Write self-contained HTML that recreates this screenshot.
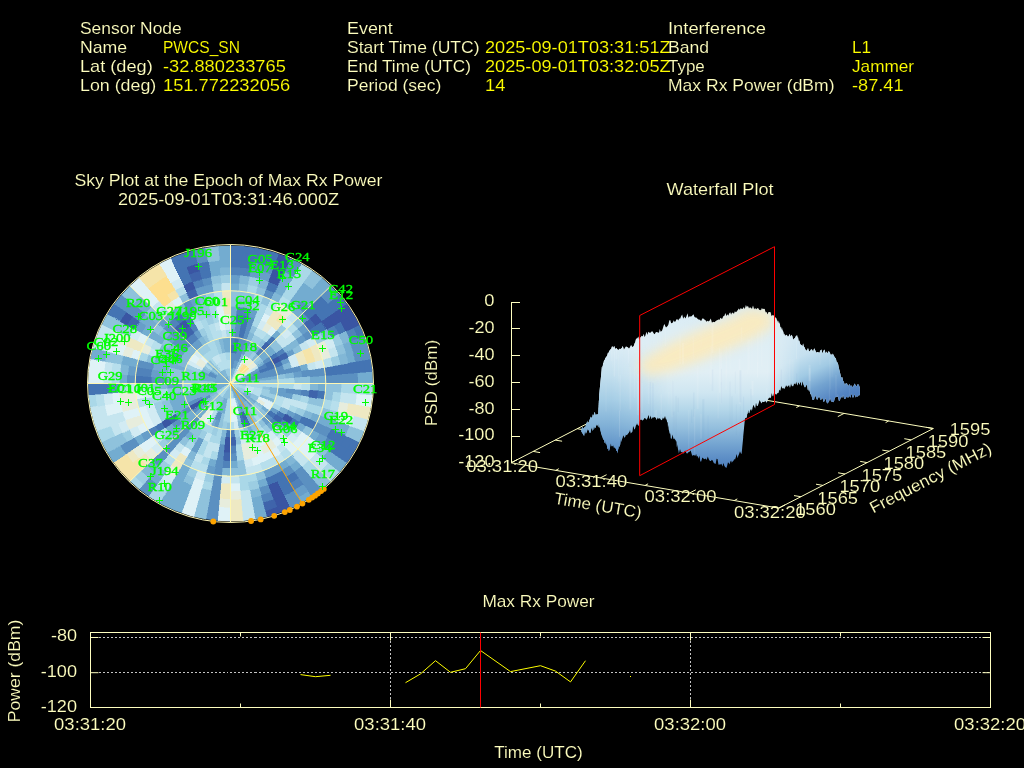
<!DOCTYPE html>
<html><head><meta charset="utf-8"><title>Interference Event</title>
<style>
html,body{margin:0;padding:0;background:#000;}
body{width:1024px;height:768px;overflow:hidden;}
svg{display:block;font-family:"Liberation Sans",sans-serif;will-change:transform;opacity:0.999;}
.sat{font-family:"Liberation Serif",serif;}
.t{stroke:#000;stroke-width:0.12px;}
</style></head><body>
<svg width="1024" height="768" viewBox="0 0 1024 768">
<rect width="1024" height="768" fill="#000"/>
<text x="80.0" y="34.0" fill="#ffffc0" font-size="16.6" textLength="101.7" lengthAdjust="spacingAndGlyphs" class="t">Sensor Node</text>
<text x="80.0" y="53.0" fill="#ffffc0" font-size="16.6" textLength="47.2" lengthAdjust="spacingAndGlyphs" class="t">Name</text>
<text x="163.0" y="53.0" fill="#ffff00" font-size="16.6" textLength="76.9" lengthAdjust="spacingAndGlyphs" class="t">PWCS_SN</text>
<text x="80.0" y="72.0" fill="#ffffc0" font-size="16.6" textLength="72.7" lengthAdjust="spacingAndGlyphs" class="t">Lat (deg)</text>
<text x="163.0" y="72.0" fill="#ffff00" font-size="16.6" textLength="122.8" lengthAdjust="spacingAndGlyphs" class="t">-32.880233765</text>
<text x="80.0" y="91.0" fill="#ffffc0" font-size="16.6" textLength="76.3" lengthAdjust="spacingAndGlyphs" class="t">Lon (deg)</text>
<text x="163.0" y="91.0" fill="#ffff00" font-size="16.6" textLength="127.2" lengthAdjust="spacingAndGlyphs" class="t">151.772232056</text>
<text x="347.0" y="34.0" fill="#ffffc0" font-size="16.6" textLength="45.8" lengthAdjust="spacingAndGlyphs" class="t">Event</text>
<text x="347.0" y="53.0" fill="#ffffc0" font-size="16.6" textLength="132.6" lengthAdjust="spacingAndGlyphs" class="t">Start Time (UTC)</text>
<text x="485.0" y="53.0" fill="#ffff00" font-size="16.6" textLength="185.6" lengthAdjust="spacingAndGlyphs" class="t">2025-09-01T03:31:51Z</text>
<text x="347.0" y="72.0" fill="#ffffc0" font-size="16.6" textLength="123.9" lengthAdjust="spacingAndGlyphs" class="t">End Time (UTC)</text>
<text x="485.0" y="72.0" fill="#ffff00" font-size="16.6" textLength="185.6" lengthAdjust="spacingAndGlyphs" class="t">2025-09-01T03:32:05Z</text>
<text x="347.0" y="91.0" fill="#ffffc0" font-size="16.6" textLength="94.4" lengthAdjust="spacingAndGlyphs" class="t">Period (sec)</text>
<text x="485.0" y="91.0" fill="#ffff00" font-size="16.6" textLength="20.4" lengthAdjust="spacingAndGlyphs" class="t">14</text>
<text x="668.0" y="34.0" fill="#ffffc0" font-size="16.6" textLength="97.9" lengthAdjust="spacingAndGlyphs" class="t">Interference</text>
<text x="668.0" y="53.0" fill="#ffffc0" font-size="16.6" textLength="41.1" lengthAdjust="spacingAndGlyphs" class="t">Band</text>
<text x="852.0" y="53.0" fill="#ffff00" font-size="16.6" textLength="19.1" lengthAdjust="spacingAndGlyphs" class="t">L1</text>
<text x="668.0" y="72.0" fill="#ffffc0" font-size="16.6" textLength="36.8" lengthAdjust="spacingAndGlyphs" class="t">Type</text>
<text x="852.0" y="72.0" fill="#ffff00" font-size="16.6" textLength="62.1" lengthAdjust="spacingAndGlyphs" class="t">Jammer</text>
<text x="668.0" y="91.0" fill="#ffffc0" font-size="16.6" textLength="166.5" lengthAdjust="spacingAndGlyphs" class="t">Max Rx Power (dBm)</text>
<text x="852.0" y="91.0" fill="#ffff00" font-size="16.6" textLength="51.6" lengthAdjust="spacingAndGlyphs" class="t">-87.41</text>
<text x="74.5" y="186.0" fill="#ffffc0" font-size="16.6" textLength="308.0" lengthAdjust="spacingAndGlyphs" class="t">Sky Plot at the Epoch of Max Rx Power</text>
<text x="117.9" y="205.0" fill="#ffffc0" font-size="16.6" textLength="221.2" lengthAdjust="spacingAndGlyphs" class="t">2025-09-01T03:31:46.000Z</text>
<text x="666.6" y="195.0" fill="#ffffc0" font-size="16.6" textLength="106.9" lengthAdjust="spacingAndGlyphs" class="t">Waterfall Plot</text>
<text x="482.4" y="607.0" fill="#ffffc0" font-size="16.6" textLength="112.2" lengthAdjust="spacingAndGlyphs" class="t">Max Rx Power</text>
<defs><clipPath id="skyclip"><ellipse cx="230.5" cy="383.5" rx="142.5" ry="138.0"/></clipPath></defs>
<g clip-path="url(#skyclip)" shape-rendering="crispEdges" stroke-width="0.6">
<path fill="#74add1" stroke="#74add1" d="M230.5 383.5L230.5 375.8L230.8 375.8L231.2 375.8L230.5 383.5ZM230.5 375.8L230.5 368.1L231.2 368.1L231.9 368.1L231.2 375.8ZM230.5 329.4L230.5 321.7L233.3 321.7L236.0 322.0L235.3 329.7ZM230.5 321.7L230.5 314.0L233.6 314.0L236.7 314.3L236.0 322.0ZM230.5 314.0L230.5 306.3L234.0 306.3L237.4 306.6L236.7 314.3ZM230.5 290.8L230.5 283.1L235.0 283.1L239.5 283.5L238.8 291.2ZM230.5 383.5L231.2 375.8L231.5 375.8L231.9 375.9L230.5 383.5ZM231.2 375.8L231.9 368.1L232.6 368.2L233.3 368.3L231.9 375.9ZM274.1 292.5L277.5 285.5L281.9 287.5L286.1 289.9L282.1 296.6ZM277.5 285.5L280.9 278.5L285.6 280.7L290.1 283.2L286.1 289.9ZM280.9 278.5L284.2 271.5L289.2 273.8L294.1 276.5L290.1 283.2ZM253.3 351.9L257.8 345.5L259.5 346.7L261.1 348.0L256.0 353.9ZM289.7 301.3L294.3 294.9L298.3 297.6L302.0 300.7L296.9 306.6ZM294.3 294.9L298.9 288.6L303.1 291.5L307.1 294.8L302.0 300.7ZM298.9 288.6L303.4 282.3L308.0 285.4L312.2 288.9L307.1 294.8ZM271.4 336.2L276.5 330.3L278.9 332.2L281.1 334.4L275.4 339.8ZM291.8 312.5L296.9 306.6L300.3 309.4L303.5 312.5L297.9 318.0ZM302.0 300.7L307.1 294.8L311.1 298.0L314.8 301.6L309.1 307.1ZM307.1 294.8L312.2 288.9L316.5 292.3L320.4 296.1L314.8 301.6ZM312.2 288.9L317.3 282.9L321.8 286.6L326.0 290.7L320.4 296.1ZM317.3 282.9L325.2 273.8L330.1 277.8L334.6 282.3L326.0 290.7ZM258.6 356.2L264.2 350.7L265.7 352.2L267.0 353.7L260.9 358.7ZM264.2 350.7L269.8 345.3L271.5 346.9L273.1 348.8L267.0 353.7ZM260.9 358.7L267.0 353.7L268.4 355.3L269.5 356.9L263.0 361.4ZM267.0 353.7L273.1 348.8L274.7 350.6L276.1 352.5L269.5 356.9ZM256.5 365.8L263.0 361.4L264.0 362.7L264.9 364.2L258.0 368.1ZM244.3 375.8L251.1 371.9L251.7 372.8L252.1 373.7L244.9 377.0ZM230.5 383.5L238.0 380.9L238.1 381.2L238.2 381.5L230.5 383.5ZM238.0 380.9L245.4 378.2L245.7 378.9L245.8 379.5L238.2 381.5ZM342.5 343.9L349.9 341.2L351.8 346.3L353.3 351.5L345.6 353.5ZM230.5 383.5L238.2 381.5L238.3 381.8L238.3 382.2L230.5 383.5ZM238.2 381.5L245.8 379.5L246.0 380.2L246.1 380.8L238.3 382.2ZM299.6 365.5L307.2 363.5L308.1 366.8L308.7 370.1L300.9 371.4ZM345.6 353.5L353.3 351.5L354.7 356.7L355.7 362.0L347.9 363.4ZM246.1 380.8L254.0 379.5L254.2 380.5L254.2 381.5L246.3 382.2ZM254.0 379.5L261.8 378.1L262.0 379.5L262.2 380.8L254.2 381.5ZM261.8 378.1L269.6 376.8L269.9 378.5L270.1 380.1L262.2 380.8ZM269.6 376.8L277.4 375.5L277.8 377.4L278.0 379.5L270.1 380.1ZM309.6 376.8L317.6 376.1L317.9 379.8L317.9 383.5L309.9 383.5ZM317.6 376.1L325.5 375.4L325.8 379.5L325.8 383.5L317.9 383.5ZM357.1 372.7L365.0 372.1L365.6 377.8L365.6 383.5L357.6 383.5ZM365.0 372.1L377.2 371.0L377.8 377.2L377.8 383.5L365.6 383.5ZM317.9 383.5L325.8 383.5L325.8 387.5L325.5 391.6L317.6 390.9ZM312.6 412.6L320.1 415.2L318.7 419.0L316.9 422.7L309.7 419.4ZM320.1 415.2L327.5 417.8L326.0 422.0L324.1 425.9L316.9 422.7ZM327.5 417.8L335.0 420.5L333.4 424.9L331.3 429.2L324.1 425.9ZM335.0 420.5L342.5 423.1L340.7 427.9L338.5 432.5L331.3 429.2ZM342.5 423.1L349.9 425.8L348.0 430.8L345.7 435.7L338.5 432.5ZM299.3 422.1L306.2 426.0L304.3 429.2L302.1 432.2L295.6 427.8ZM313.1 429.8L319.9 433.7L317.7 437.5L315.1 441.1L308.6 436.7ZM243.5 392.4L250.0 396.8L249.4 397.6L248.8 398.4L242.7 393.4ZM250.0 396.8L256.5 401.2L255.7 402.3L254.8 403.4L248.8 398.4ZM263.0 405.6L269.5 410.1L268.4 411.7L267.0 413.3L260.9 408.3ZM289.1 423.4L295.6 427.8L293.6 430.6L291.4 433.1L285.3 428.2ZM328.1 449.9L334.6 454.4L331.4 458.8L327.9 462.9L321.8 458.0ZM334.6 454.4L341.1 458.8L337.7 463.5L334.0 467.9L327.9 462.9ZM341.1 458.8L351.2 465.6L347.5 470.7L343.3 475.5L334.0 467.9ZM230.5 383.5L236.6 388.5L236.4 388.7L236.1 389.0L230.5 383.5ZM236.6 388.5L242.7 393.4L242.2 393.9L241.7 394.4L236.1 389.0ZM242.7 393.4L248.8 398.4L248.1 399.2L247.4 399.9L241.7 394.4ZM230.5 383.5L236.1 389.0L235.9 389.2L235.6 389.4L230.5 383.5ZM236.1 389.0L241.7 394.4L241.2 394.9L240.7 395.3L235.6 389.4ZM269.8 421.7L275.4 427.2L273.5 429.1L271.4 430.8L266.2 424.9ZM230.5 383.5L235.6 389.4L235.3 389.6L235.1 389.8L230.5 383.5ZM235.6 389.4L240.7 395.3L240.2 395.8L239.6 396.2L235.1 389.8ZM240.7 395.3L245.8 401.2L245.0 401.9L244.2 402.5L239.6 396.2ZM296.9 460.4L302.0 466.3L298.3 469.4L294.3 472.1L289.7 465.7ZM230.5 383.5L235.1 389.8L234.8 390.0L234.5 390.2L230.5 383.5ZM235.1 389.8L239.6 396.2L239.0 396.5L238.4 396.9L234.5 390.2ZM239.6 396.2L244.2 402.5L243.3 403.1L242.4 403.6L238.4 396.9ZM244.2 402.5L248.7 408.8L247.6 409.6L246.4 410.3L242.4 403.6ZM285.2 459.4L289.7 465.7L286.0 468.2L282.1 470.4L278.2 463.8ZM308.0 491.0L315.0 500.8L309.7 504.4L304.1 507.5L298.0 497.2ZM230.5 383.5L234.5 390.2L234.2 390.4L233.9 390.5L230.5 383.5ZM234.5 390.2L238.4 396.9L237.8 397.2L237.2 397.5L233.9 390.5ZM238.4 396.9L242.4 403.6L241.5 404.1L240.6 404.5L237.2 397.5ZM242.4 403.6L246.4 410.3L245.2 410.9L243.9 411.5L240.6 404.5ZM246.4 410.3L250.4 416.9L248.9 417.8L247.3 418.5L243.9 411.5ZM250.4 416.9L254.3 423.6L252.5 424.6L250.6 425.5L247.3 418.5ZM230.5 383.5L233.9 390.5L233.5 390.6L233.2 390.8L230.5 383.5ZM233.9 390.5L237.2 397.5L236.6 397.8L235.9 398.0L233.2 390.8ZM237.2 397.5L240.6 404.5L239.6 404.9L238.7 405.3L235.9 398.0ZM250.6 425.5L254.0 432.5L251.8 433.5L249.5 434.3L246.8 427.0ZM230.5 383.5L233.2 390.8L232.9 390.9L232.6 391.0L230.5 383.5ZM233.2 390.8L235.9 398.0L235.3 398.2L234.6 398.4L232.6 391.0ZM238.7 405.3L241.4 412.5L240.1 413.0L238.7 413.3L236.7 405.9ZM265.8 477.8L268.5 485.1L264.0 486.7L259.3 487.9L257.2 480.5ZM230.5 383.5L232.6 391.0L232.2 391.0L231.9 391.1L230.5 383.5ZM261.3 495.4L263.4 502.8L258.0 504.2L252.6 505.2L251.2 497.6ZM263.4 502.8L265.5 510.3L259.8 511.8L254.0 512.8L252.6 505.2ZM265.5 510.3L268.6 521.8L262.4 523.4L256.1 524.5L254.0 512.8ZM237.4 460.4L238.1 468.1L234.3 468.4L230.5 468.4L230.5 460.7ZM225.7 437.3L225.0 445.0L222.2 444.8L219.5 444.3L220.8 436.7ZM227.7 398.7L226.4 406.3L225.3 406.1L224.3 405.9L226.4 398.4ZM226.4 406.3L225.0 413.9L223.6 413.7L222.3 413.3L224.3 405.9ZM216.7 459.5L215.3 467.2L211.6 466.5L207.9 465.6L209.9 458.1ZM226.4 398.4L224.3 405.9L223.3 405.6L222.3 405.3L225.1 398.0ZM224.3 405.9L222.3 413.3L220.9 413.0L219.6 412.5L222.3 405.3ZM225.1 398.0L222.3 405.3L221.4 404.9L220.4 404.5L223.8 397.5ZM222.3 405.3L219.6 412.5L218.3 412.1L217.1 411.5L220.4 404.5ZM216.9 419.8L214.2 427.0L212.2 426.3L210.4 425.5L213.7 418.5ZM192.5 485.1L189.7 492.3L184.9 490.6L180.1 488.5L183.5 481.5ZM189.7 492.3L187.0 499.6L181.8 497.8L176.8 495.5L180.1 488.5ZM187.0 499.6L184.3 506.9L178.8 504.9L173.4 502.5L176.8 495.5ZM184.3 506.9L180.1 518.0L174.1 515.9L168.3 513.3L173.4 502.5ZM190.2 467.5L186.9 474.5L182.8 472.6L178.9 470.4L182.8 463.8ZM186.9 474.5L183.5 481.5L179.1 479.5L174.9 477.1L178.9 470.4ZM183.5 481.5L180.1 488.5L175.4 486.3L170.9 483.8L174.9 477.1ZM180.1 488.5L176.8 495.5L171.8 493.2L166.9 490.5L170.9 483.8ZM176.8 495.5L173.4 502.5L168.1 500.1L163.0 497.2L166.9 490.5ZM173.4 502.5L168.3 513.3L162.4 510.6L156.9 507.5L163.0 497.2ZM194.0 434.1L189.5 440.4L186.9 438.7L184.5 436.7L189.6 430.8ZM162.1 478.4L157.6 484.7L153.0 481.6L148.8 478.1L153.9 472.2ZM210.1 407.2L205.0 413.1L203.6 412.0L202.4 410.8L208.0 405.3ZM205.0 413.1L199.9 419.0L198.3 417.7L196.8 416.3L202.4 410.8ZM159.0 466.3L153.9 472.2L149.9 469.0L146.2 465.4L151.9 459.9ZM208.0 405.3L202.4 410.8L201.2 409.6L200.1 408.3L206.2 403.4ZM202.4 410.8L196.8 416.3L195.3 414.8L194.0 413.3L200.1 408.3ZM196.8 416.3L191.2 421.7L189.5 420.1L187.9 418.2L194.0 413.3ZM191.2 421.7L185.6 427.2L183.6 425.3L181.8 423.2L187.9 418.2ZM185.6 427.2L179.9 432.6L177.7 430.5L175.7 428.2L181.8 423.2ZM179.9 432.6L174.3 438.1L171.9 435.7L169.6 433.1L175.7 428.2ZM194.0 413.3L187.9 418.2L186.3 416.4L184.9 414.5L191.5 410.1ZM187.9 418.2L181.8 423.2L180.0 421.1L178.4 418.9L184.9 414.5ZM175.7 428.2L169.6 433.1L167.4 430.6L165.4 427.8L171.9 423.4ZM145.9 441.1L139.4 445.5L136.6 441.6L134.2 437.6L141.1 433.7ZM126.4 454.4L119.9 458.8L116.5 454.1L113.5 449.1L120.4 445.3ZM119.9 458.8L109.8 465.6L106.2 460.5L102.9 455.1L113.5 449.1ZM230.5 383.5L223.6 387.4L223.4 387.1L223.3 386.8L230.5 383.5ZM223.6 387.4L216.7 391.2L216.4 390.6L216.1 390.0L223.3 386.8ZM216.7 391.2L209.9 395.1L209.3 394.2L208.9 393.3L216.1 390.0ZM209.9 395.1L203.0 398.9L202.3 397.8L201.7 396.6L208.9 393.3ZM189.2 406.7L182.3 410.5L181.1 408.5L180.1 406.3L187.3 403.1ZM182.3 410.5L175.5 414.4L174.1 412.1L172.9 409.6L180.1 406.3ZM230.5 383.5L223.3 386.8L223.2 386.5L223.0 386.1L230.5 383.5ZM223.3 386.8L216.1 390.0L215.8 389.4L215.6 388.8L223.0 386.1ZM216.1 390.0L208.9 393.3L208.5 392.4L208.1 391.4L215.6 388.8ZM208.9 393.3L201.7 396.6L201.1 395.3L200.6 394.1L208.1 391.4ZM201.7 396.6L194.5 399.8L193.8 398.3L193.2 396.7L200.6 394.1ZM194.5 399.8L187.3 403.1L186.4 401.2L185.7 399.3L193.2 396.7ZM187.3 403.1L180.1 406.3L179.1 404.2L178.2 402.0L185.7 399.3ZM180.1 406.3L172.9 409.6L171.7 407.2L170.8 404.6L178.2 402.0ZM230.5 383.5L223.0 386.1L222.9 385.8L222.8 385.5L230.5 383.5ZM223.0 386.1L215.6 388.8L215.3 388.1L215.2 387.5L222.8 385.5ZM215.6 388.8L208.1 391.4L207.7 390.5L207.5 389.5L215.2 387.5ZM208.1 391.4L200.6 394.1L200.2 392.8L199.8 391.5L207.5 389.5ZM200.6 394.1L193.2 396.7L192.6 395.1L192.1 393.5L199.8 391.5ZM193.2 396.7L185.7 399.3L185.0 397.4L184.5 395.5L192.1 393.5ZM185.7 399.3L178.2 402.0L177.4 399.8L176.8 397.5L184.5 395.5ZM178.2 402.0L170.8 404.6L169.8 402.1L169.1 399.5L176.8 397.5ZM230.5 383.5L222.8 385.5L222.7 385.2L222.7 384.8L230.5 383.5ZM222.8 385.5L215.2 387.5L215.0 386.8L214.9 386.2L222.7 384.8ZM215.2 387.5L207.5 389.5L207.2 388.5L207.0 387.5L214.9 386.2ZM207.5 389.5L199.8 391.5L199.4 390.2L199.2 388.9L207.0 387.5ZM184.5 395.5L176.8 397.5L176.2 395.2L175.7 392.9L183.6 391.5ZM230.5 383.5L222.7 384.8L222.6 384.5L222.6 384.2L230.5 383.5ZM222.7 384.8L214.9 386.2L214.7 385.5L214.7 384.8L222.6 384.2ZM214.9 386.2L207.0 387.5L206.8 386.5L206.8 385.5L214.7 384.8ZM230.5 383.5L222.6 384.2L222.6 383.8L222.6 383.5L230.5 383.5ZM222.6 384.2L214.7 384.8L214.6 384.2L214.6 383.5L222.6 383.5ZM214.7 384.8L206.8 385.5L206.7 384.5L206.7 383.5L214.6 383.5ZM230.5 383.5L222.6 383.5L222.6 383.2L222.6 382.8L230.5 383.5ZM222.6 383.5L214.6 383.5L214.6 382.8L214.7 382.2L222.6 382.8ZM182.8 383.5L174.9 383.5L174.9 381.1L175.1 378.8L183.0 379.5ZM174.9 383.5L166.9 383.5L166.9 380.8L167.2 378.1L175.1 378.8ZM127.2 383.5L119.3 383.5L119.3 378.8L119.7 374.1L127.6 374.8ZM230.5 383.5L222.6 382.8L222.6 382.5L222.7 382.2L230.5 383.5ZM222.6 382.8L214.7 382.2L214.7 381.5L214.9 380.8L222.7 382.2ZM214.7 382.2L206.8 381.5L206.8 380.5L207.0 379.5L214.9 380.8ZM206.8 381.5L198.8 380.8L199.0 379.5L199.2 378.1L207.0 379.5ZM167.2 378.1L159.3 377.4L159.5 374.4L160.1 371.4L167.9 372.8ZM230.5 383.5L222.7 382.2L222.7 381.8L222.8 381.5L230.5 383.5ZM222.7 382.2L214.9 380.8L215.0 380.2L215.2 379.5L222.8 381.5ZM214.9 380.8L207.0 379.5L207.2 378.5L207.5 377.5L215.2 379.5ZM207.0 379.5L199.2 378.1L199.4 376.8L199.8 375.5L207.5 377.5ZM167.9 372.8L160.1 371.4L160.6 368.4L161.4 365.5L169.1 367.5ZM160.1 371.4L152.3 370.1L152.9 366.8L153.8 363.5L161.4 365.5ZM136.6 367.4L128.8 366.1L129.6 361.8L130.7 357.5L138.4 359.5ZM128.8 366.1L121.0 364.7L121.8 360.1L123.1 355.5L130.7 357.5ZM105.3 362.0L97.5 360.7L98.5 355.1L100.0 349.5L107.7 351.5ZM97.5 360.7L85.4 358.6L86.6 352.5L88.2 346.4L100.0 349.5ZM230.5 383.5L222.8 381.5L222.9 381.2L223.0 380.9L230.5 383.5ZM222.8 381.5L215.2 379.5L215.3 378.9L215.6 378.2L223.0 380.9ZM215.2 379.5L207.5 377.5L207.7 376.5L208.1 375.6L215.6 378.2ZM207.5 377.5L199.8 375.5L200.2 374.2L200.6 372.9L208.1 375.6ZM184.5 371.5L176.8 369.5L177.4 367.2L178.2 365.0L185.7 367.7ZM176.8 369.5L169.1 367.5L169.8 364.9L170.8 362.4L178.2 365.0ZM169.1 367.5L161.4 365.5L162.2 362.6L163.3 359.7L170.8 362.4ZM161.4 365.5L153.8 363.5L154.7 360.3L155.8 357.1L163.3 359.7ZM230.5 383.5L223.0 380.9L223.2 380.5L223.3 380.2L230.5 383.5ZM223.0 380.9L215.6 378.2L215.8 377.6L216.1 377.0L223.3 380.2ZM178.2 365.0L170.8 362.4L171.7 359.8L172.9 357.4L180.1 360.7ZM170.8 362.4L163.3 359.7L164.4 356.9L165.7 354.1L172.9 357.4ZM230.5 383.5L223.3 380.2L223.4 379.9L223.6 379.6L230.5 383.5ZM223.3 380.2L216.1 377.0L216.4 376.4L216.7 375.8L223.6 379.6ZM172.9 357.4L165.7 354.1L167.0 351.4L168.6 348.8L175.5 352.6ZM230.5 383.5L223.6 379.6L223.8 379.3L224.0 379.1L230.5 383.5ZM223.6 379.6L216.7 375.8L217.1 375.2L217.5 374.6L224.0 379.1ZM216.7 375.8L209.9 371.9L210.4 371.0L211.0 370.2L217.5 374.6ZM161.7 344.9L154.8 341.0L156.7 337.8L158.9 334.8L165.4 339.2ZM154.8 341.0L147.9 337.2L150.0 333.7L152.4 330.3L158.9 334.8ZM147.9 337.2L141.1 333.3L143.3 329.5L145.9 325.9L152.4 330.3ZM230.5 383.5L224.0 379.1L224.2 378.8L224.4 378.5L230.5 383.5ZM224.0 379.1L217.5 374.6L217.9 374.1L218.3 373.6L224.4 378.5ZM152.4 330.3L145.9 325.9L148.5 322.3L151.4 319.0L157.5 323.9ZM145.9 325.9L139.4 321.5L142.2 317.6L145.3 314.0L151.4 319.0ZM230.5 383.5L224.4 378.5L224.6 378.3L224.9 378.0L230.5 383.5ZM224.4 378.5L218.3 373.6L218.8 373.1L219.3 372.6L224.9 378.0ZM218.3 373.6L212.2 368.6L212.9 367.8L213.6 367.1L219.3 372.6ZM145.3 314.0L139.2 309.0L142.6 305.2L146.2 301.6L151.9 307.1ZM139.2 309.0L133.1 304.1L136.7 299.9L140.6 296.1L146.2 301.6ZM230.5 383.5L224.9 378.0L225.1 377.8L225.4 377.6L230.5 383.5ZM224.9 378.0L219.3 372.6L219.8 372.1L220.3 371.7L225.4 377.6ZM168.7 323.4L163.1 318.0L166.0 315.1L169.2 312.5L174.3 318.4ZM230.5 383.5L225.4 377.6L225.7 377.4L225.9 377.2L230.5 383.5ZM174.3 318.4L169.2 312.5L172.4 309.9L175.8 307.6L180.4 313.9ZM230.5 383.5L225.9 377.2L226.2 377.0L226.5 376.8L230.5 383.5ZM230.5 383.5L226.5 376.8L226.8 376.6L227.1 376.5L230.5 383.5ZM230.5 383.5L227.1 376.5L227.5 376.4L227.8 376.2L230.5 383.5ZM225.0 353.1L223.6 345.5L225.3 345.2L227.0 345.0L227.7 352.7ZM223.6 345.5L222.2 337.9L224.3 337.5L226.3 337.3L227.0 345.0ZM211.2 277.0L209.8 269.4L214.9 268.5L220.1 268.1L220.8 275.8ZM209.8 269.4L208.4 261.8L213.9 260.9L219.4 260.4L220.1 268.1ZM227.7 352.7L227.0 345.0L228.8 344.9L230.5 344.9L230.5 352.6ZM227.0 345.0L226.3 337.3L228.4 337.2L230.5 337.2L230.5 344.9ZM220.1 268.1L219.4 260.4L225.0 259.9L230.5 259.9L230.5 267.7ZM219.4 260.4L218.7 252.7L224.6 252.2L230.5 252.2L230.5 259.9ZM218.7 252.7L217.7 240.9L224.1 240.3L230.5 240.3L230.5 252.2Z"/>
<path fill="#5c91c2" stroke="#5c91c2" d="M230.5 368.1L230.5 360.3L231.5 360.3L232.6 360.4L231.9 368.1ZM230.5 360.3L230.5 352.6L231.9 352.6L233.3 352.7L232.6 360.4ZM231.9 368.1L232.6 360.4L233.6 360.5L234.6 360.7L233.3 368.3ZM232.6 360.4L233.3 352.7L234.7 352.8L236.0 353.1L234.6 360.7ZM234.7 337.3L235.3 329.7L237.8 329.9L240.2 330.3L238.8 337.9ZM235.3 329.7L236.0 322.0L238.8 322.2L241.5 322.7L240.2 330.3ZM234.6 360.7L236.0 353.1L237.4 353.3L238.7 353.7L236.7 361.1ZM236.0 353.1L237.4 345.5L239.1 345.8L240.8 346.2L238.7 353.7ZM237.4 345.5L238.8 337.9L240.8 338.2L242.8 338.7L240.8 346.2ZM251.2 269.4L252.6 261.8L258.0 262.8L263.4 264.2L261.3 271.6ZM236.7 361.1L238.7 353.7L240.1 354.0L241.4 354.5L238.7 361.7ZM238.7 353.7L240.8 346.2L242.5 346.6L244.1 347.2L241.4 354.5ZM240.8 346.2L242.8 338.7L244.8 339.3L246.8 340.0L244.1 347.2ZM242.8 338.7L244.9 331.3L247.2 331.9L249.5 332.7L246.8 340.0ZM244.9 331.3L246.9 323.8L249.6 324.5L252.2 325.4L249.5 332.7ZM246.9 323.8L249.0 316.4L252.0 317.2L255.0 318.2L252.2 325.4ZM261.3 271.6L263.4 264.2L268.8 265.6L274.0 267.4L271.3 274.7ZM263.1 296.4L265.8 289.2L270.1 290.7L274.1 292.5L270.8 299.5ZM284.2 271.5L287.6 264.5L292.9 266.9L298.0 269.8L294.1 276.5ZM287.6 264.5L292.7 253.7L298.6 256.4L304.1 259.5L298.0 269.8ZM296.9 306.6L302.0 300.7L305.7 303.7L309.1 307.1L303.5 312.5ZM297.9 318.0L303.5 312.5L306.7 315.6L309.6 319.0L303.5 323.9ZM320.4 296.1L326.0 290.7L330.2 294.7L334.0 299.1L327.9 304.1ZM326.0 290.7L334.6 282.3L339.2 286.7L343.3 291.5L334.0 299.1ZM263.0 361.4L269.5 356.9L270.7 358.6L271.8 360.3L264.9 364.2ZM302.1 334.8L308.6 330.3L311.0 333.7L313.1 337.2L306.2 341.0ZM252.1 373.7L259.3 370.4L259.9 371.7L260.4 372.9L252.9 375.6ZM245.4 378.2L252.9 375.6L253.3 376.5L253.5 377.5L245.8 379.5ZM252.9 375.6L260.4 372.9L260.8 374.2L261.2 375.5L253.5 377.5ZM260.4 372.9L267.8 370.3L268.4 371.9L268.9 373.5L261.2 375.5ZM267.8 370.3L275.3 367.7L276.0 369.6L276.5 371.5L268.9 373.5ZM275.3 367.7L282.8 365.0L283.6 367.2L284.2 369.5L276.5 371.5ZM349.9 341.2L357.4 338.6L359.4 344.0L361.0 349.5L353.3 351.5ZM357.4 338.6L368.9 334.5L371.1 340.4L372.8 346.4L361.0 349.5ZM245.8 379.5L253.5 377.5L253.8 378.5L254.0 379.5L246.1 380.8ZM253.5 377.5L261.2 375.5L261.6 376.8L261.8 378.1L254.0 379.5ZM261.2 375.5L268.9 373.5L269.3 375.1L269.6 376.8L261.8 378.1ZM268.9 373.5L276.5 371.5L277.1 373.5L277.4 375.5L269.6 376.8ZM276.5 371.5L284.2 369.5L284.8 371.8L285.3 374.1L277.4 375.5ZM284.2 369.5L291.9 367.5L292.6 370.1L293.1 372.8L285.3 374.1ZM291.9 367.5L299.6 365.5L300.4 368.4L300.9 371.4L293.1 372.8ZM353.3 351.5L361.0 349.5L362.5 355.1L363.5 360.7L355.7 362.0ZM361.0 349.5L372.8 346.4L374.4 352.5L375.6 358.6L363.5 360.7ZM300.9 371.4L308.7 370.1L309.3 373.4L309.6 376.8L301.7 377.4ZM308.7 370.1L316.6 368.7L317.2 372.4L317.6 376.1L309.6 376.8ZM316.6 368.7L324.4 367.4L325.1 371.4L325.5 375.4L317.6 376.1ZM325.5 375.4L333.4 374.8L333.8 379.1L333.8 383.5L325.8 383.5ZM333.4 374.8L341.3 374.1L341.7 378.8L341.7 383.5L333.8 383.5ZM341.3 374.1L349.2 373.4L349.7 378.4L349.7 383.5L341.7 383.5ZM349.2 373.4L357.1 372.7L357.6 378.1L357.6 383.5L349.7 383.5ZM285.9 388.2L293.8 388.9L293.6 391.6L293.1 394.2L285.3 392.9ZM293.8 388.9L301.7 389.6L301.5 392.6L300.9 395.6L293.1 394.2ZM295.3 412.9L302.5 416.1L301.0 419.2L299.3 422.1L292.4 418.2ZM316.9 422.7L324.1 425.9L322.2 429.9L319.9 433.7L313.1 429.8ZM324.1 425.9L331.3 429.2L329.2 433.5L326.8 437.6L319.9 433.7ZM267.0 413.3L273.1 418.2L271.5 420.1L269.8 421.7L264.2 416.3ZM241.7 394.4L247.4 399.9L246.6 400.6L245.8 401.2L240.7 395.3ZM302.0 466.3L307.1 472.2L303.1 475.5L298.9 478.4L294.3 472.1ZM307.1 472.2L312.2 478.1L308.0 481.6L303.4 484.7L298.9 478.4ZM312.2 478.1L317.3 484.1L312.8 487.7L308.0 491.0L303.4 484.7ZM317.3 484.1L325.2 493.2L320.2 497.2L315.0 500.8L308.0 491.0ZM289.7 465.7L294.3 472.1L290.3 474.8L286.1 477.1L282.1 470.4ZM294.1 490.5L298.0 497.2L292.9 500.1L287.6 502.5L284.2 495.5ZM298.0 497.2L304.1 507.5L298.6 510.6L292.7 513.3L287.6 502.5ZM268.5 485.1L271.3 492.3L266.4 494.1L261.3 495.4L259.3 487.9ZM236.7 452.7L237.4 460.4L234.0 460.7L230.5 460.7L230.5 453.0ZM225.0 445.0L224.3 452.7L221.2 452.5L218.1 451.9L219.5 444.3ZM224.3 452.7L223.6 460.4L220.1 460.1L216.7 459.5L218.1 451.9ZM223.6 460.4L222.9 468.1L219.1 467.8L215.3 467.2L216.7 459.5ZM222.9 468.1L222.2 475.8L218.0 475.5L213.9 474.8L215.3 467.2ZM222.2 475.8L221.5 483.5L217.0 483.1L212.6 482.4L213.9 474.8ZM221.5 483.5L220.8 491.2L216.0 490.8L211.2 490.0L212.6 482.4ZM220.8 491.2L220.1 498.9L214.9 498.5L209.8 497.6L211.2 490.0ZM220.1 498.9L219.4 506.6L213.9 506.1L208.4 505.2L209.8 497.6ZM219.4 506.6L218.7 514.3L212.9 513.8L207.0 512.8L208.4 505.2ZM218.7 514.3L217.7 526.1L211.3 525.6L204.9 524.5L207.0 512.8ZM222.3 413.3L220.2 420.8L218.5 420.4L216.9 419.8L219.6 412.5ZM219.6 412.5L216.9 419.8L215.3 419.2L213.7 418.5L217.1 411.5ZM157.6 484.7L153.0 491.0L148.2 487.7L143.7 484.1L148.8 478.1ZM153.0 491.0L146.0 500.8L140.8 497.2L135.8 493.2L143.7 484.1ZM199.9 419.0L194.8 424.9L192.9 423.4L191.2 421.7L196.8 416.3ZM194.8 424.9L189.6 430.8L187.5 429.1L185.6 427.2L191.2 421.7ZM189.6 430.8L184.5 436.7L182.1 434.8L179.9 432.6L185.6 427.2ZM184.5 436.7L179.4 442.7L176.8 440.5L174.3 438.1L179.9 432.6ZM179.4 442.7L174.3 448.6L171.4 446.2L168.7 443.6L174.3 438.1ZM174.3 448.6L169.2 454.5L166.0 451.9L163.1 449.0L168.7 443.6ZM169.2 454.5L164.1 460.4L160.7 457.6L157.5 454.5L163.1 449.0ZM164.1 460.4L159.0 466.3L155.3 463.3L151.9 459.9L157.5 454.5ZM200.1 408.3L194.0 413.3L192.6 411.7L191.5 410.1L198.0 405.6ZM181.8 423.2L175.7 428.2L173.7 425.8L171.9 423.4L178.4 418.9ZM211.0 396.8L204.5 401.2L203.7 400.1L203.0 398.9L209.9 395.1ZM191.5 410.1L184.9 414.5L183.6 412.6L182.3 410.5L189.2 406.7ZM139.4 445.5L132.9 449.9L129.9 445.8L127.3 441.4L134.2 437.6ZM132.9 449.9L126.4 454.4L123.2 449.9L120.4 445.3L127.3 441.4ZM203.0 398.9L196.1 402.8L195.2 401.3L194.5 399.8L201.7 396.6ZM196.1 402.8L189.2 406.7L188.2 404.9L187.3 403.1L194.5 399.8ZM119.7 392.9L111.8 393.6L111.3 388.6L111.3 383.5L119.3 383.5ZM166.9 383.5L159.0 383.5L159.0 380.5L159.3 377.4L167.2 378.1ZM159.0 383.5L151.1 383.5L151.1 380.1L151.4 376.8L159.3 377.4ZM135.2 383.5L127.2 383.5L127.2 379.1L127.6 374.8L135.5 375.4ZM152.3 370.1L144.4 368.7L145.1 365.1L146.1 361.5L153.8 363.5ZM144.4 368.7L136.6 367.4L137.3 363.4L138.4 359.5L146.1 361.5ZM215.6 378.2L208.1 375.6L208.5 374.6L208.9 373.7L216.1 377.0ZM216.1 377.0L208.9 373.7L209.3 372.8L209.9 371.9L216.7 375.8ZM180.1 360.7L172.9 357.4L174.1 354.9L175.5 352.6L182.3 356.5ZM184.9 352.5L178.4 348.1L180.0 345.9L181.8 343.8L187.9 348.8ZM178.4 348.1L171.9 343.6L173.7 341.2L175.7 338.8L181.8 343.8ZM139.4 321.5L132.9 317.1L135.9 312.9L139.2 309.0L145.3 314.0ZM132.9 317.1L126.4 312.6L129.6 308.2L133.1 304.1L139.2 309.0ZM126.4 312.6L119.9 308.2L123.3 303.5L127.0 299.1L133.1 304.1ZM119.9 308.2L109.8 301.4L113.5 296.3L117.7 291.5L127.0 299.1ZM187.9 348.8L181.8 343.8L183.6 341.7L185.6 339.8L191.2 345.3ZM181.8 343.8L175.7 338.8L177.7 336.5L179.9 334.4L185.6 339.8ZM175.7 338.8L169.6 333.9L171.9 331.3L174.3 328.9L179.9 334.4ZM169.6 333.9L163.6 328.9L166.0 326.1L168.7 323.4L174.3 328.9ZM184.9 320.2L180.4 313.9L183.5 311.8L186.8 309.9L190.8 316.6ZM190.8 316.6L186.8 309.9L190.1 308.1L193.6 306.5L196.9 313.5ZM186.8 309.9L182.8 303.2L186.4 301.2L190.2 299.5L193.6 306.5ZM203.8 286.5L201.7 279.1L206.4 277.9L211.2 277.0L212.6 284.6ZM197.6 264.2L195.5 256.7L201.2 255.2L207.0 254.2L208.4 261.8ZM195.5 256.7L192.4 245.2L198.6 243.6L204.9 242.5L207.0 254.2Z"/>
<path fill="#4575b4" stroke="#4575b4" d="M230.5 352.6L230.5 344.9L232.2 344.9L234.0 345.0L233.3 352.7ZM230.5 267.7L230.5 259.9L236.0 259.9L241.6 260.4L240.9 268.1ZM230.5 259.9L230.5 252.2L236.4 252.2L242.3 252.7L241.6 260.4ZM230.5 252.2L230.5 240.3L236.9 240.3L243.3 240.9L242.3 252.7ZM233.3 352.7L234.0 345.0L235.7 345.2L237.4 345.5L236.0 353.1ZM234.0 345.0L234.7 337.3L236.7 337.5L238.8 337.9L237.4 345.5ZM236.0 322.0L236.7 314.3L239.8 314.5L242.9 315.1L241.5 322.7ZM240.9 268.1L241.6 260.4L247.1 260.9L252.6 261.8L251.2 269.4ZM241.6 260.4L242.3 252.7L248.1 253.2L254.0 254.2L252.6 261.8ZM242.3 252.7L243.3 240.9L249.7 241.4L256.1 242.5L254.0 254.2ZM238.8 337.9L240.2 330.3L242.5 330.7L244.9 331.3L242.8 338.7ZM240.2 330.3L241.5 322.7L244.3 323.1L246.9 323.8L244.9 331.3ZM241.5 322.7L242.9 315.1L246.0 315.6L249.0 316.4L246.9 323.8ZM252.6 261.8L254.0 254.2L259.8 255.2L265.5 256.7L263.4 264.2ZM254.0 254.2L256.1 242.5L262.4 243.6L268.6 245.2L265.5 256.7ZM263.4 264.2L265.5 256.7L271.2 258.2L276.7 260.1L274.0 267.4ZM265.5 256.7L268.6 245.2L274.8 246.8L280.9 249.0L276.7 260.1ZM265.8 289.2L268.5 281.9L273.1 283.5L277.5 285.5L274.1 292.5ZM266.2 342.1L271.4 336.2L273.5 337.9L275.4 339.8L269.8 345.3ZM303.5 312.5L309.1 307.1L312.6 310.4L315.7 314.0L309.6 319.0ZM309.1 307.1L314.8 301.6L318.4 305.2L321.8 309.0L315.7 314.0ZM314.8 301.6L320.4 296.1L324.3 299.9L327.9 304.1L321.8 309.0ZM315.7 314.0L321.8 309.0L325.1 312.9L328.1 317.1L321.6 321.5ZM321.8 309.0L327.9 304.1L331.4 308.2L334.6 312.6L328.1 317.1ZM327.9 304.1L334.0 299.1L337.7 303.5L341.1 308.2L334.6 312.6ZM334.0 299.1L343.3 291.5L347.5 296.3L351.2 301.4L341.1 308.2ZM269.5 356.9L276.1 352.5L277.4 354.4L278.7 356.5L271.8 360.3ZM308.6 330.3L315.1 325.9L317.7 329.5L319.9 333.3L313.1 337.2ZM315.1 325.9L321.6 321.5L324.4 325.4L326.8 329.4L319.9 333.3ZM264.9 364.2L271.8 360.3L272.8 362.1L273.7 363.9L266.5 367.2ZM333.7 325.6L340.6 321.7L343.4 326.4L345.7 331.3L338.5 334.5ZM259.3 370.4L266.5 367.2L267.2 368.7L267.8 370.3L260.4 372.9ZM266.5 367.2L273.7 363.9L274.6 365.8L275.3 367.7L267.8 370.3ZM273.7 363.9L280.9 360.7L281.9 362.8L282.8 365.0L275.3 367.7ZM352.9 328.0L364.0 323.0L366.7 328.7L368.9 334.5L357.4 338.6ZM324.4 367.4L332.2 366.1L333.0 370.4L333.4 374.8L325.5 375.4ZM332.2 366.1L340.0 364.7L340.9 369.4L341.3 374.1L333.4 374.8ZM340.0 364.7L347.9 363.4L348.8 368.4L349.2 373.4L341.3 374.1ZM347.9 363.4L355.7 362.0L356.6 367.4L357.1 372.7L349.2 373.4ZM355.7 362.0L363.5 360.7L364.5 366.3L365.0 372.1L357.1 372.7ZM363.5 360.7L375.6 358.6L376.7 364.8L377.2 371.0L365.0 372.1ZM317.6 390.9L325.5 391.6L325.1 395.6L324.4 399.6L316.6 398.3ZM302.5 416.1L309.7 419.4L308.1 422.8L306.2 426.0L299.3 422.1ZM309.7 419.4L316.9 422.7L315.1 426.3L313.1 429.8L306.2 426.0ZM331.3 429.2L338.5 432.5L336.3 437.0L333.7 441.4L326.8 437.6ZM338.5 432.5L345.7 435.7L343.4 440.6L340.6 445.3L333.7 441.4ZM345.7 435.7L352.9 439.0L350.4 444.2L347.5 449.1L340.6 445.3ZM352.9 439.0L364.0 444.0L361.3 449.7L358.1 455.1L347.5 449.1ZM278.7 410.5L285.5 414.4L284.2 416.7L282.6 418.9L276.1 414.5ZM292.4 418.2L299.3 422.1L297.6 425.0L295.6 427.8L289.1 423.4ZM333.7 441.4L340.6 445.3L337.8 449.9L334.6 454.4L328.1 449.9ZM340.6 445.3L347.5 449.1L344.5 454.1L341.1 458.8L334.6 454.4ZM347.5 449.1L358.1 455.1L354.8 460.5L351.2 465.6L341.1 458.8ZM269.5 410.1L276.1 414.5L274.7 416.4L273.1 418.2L267.0 413.3ZM294.3 472.1L298.9 478.4L294.6 481.3L290.1 483.8L286.1 477.1ZM282.1 470.4L286.1 477.1L281.9 479.5L277.5 481.5L274.1 474.5ZM286.1 477.1L290.1 483.8L285.6 486.3L280.9 488.5L277.5 481.5ZM290.1 483.8L294.1 490.5L289.2 493.2L284.2 495.5L280.9 488.5ZM247.3 418.5L250.6 425.5L248.8 426.3L246.8 427.0L244.1 419.8ZM274.1 474.5L277.5 481.5L273.1 483.5L268.5 485.1L265.8 477.8ZM241.4 412.5L244.1 419.8L242.5 420.4L240.8 420.8L238.7 413.3ZM244.1 419.8L246.8 427.0L244.8 427.7L242.8 428.3L240.8 420.8ZM230.5 429.8L230.5 437.6L228.1 437.6L225.7 437.3L226.3 429.7ZM165.4 427.8L158.9 432.2L156.7 429.2L154.8 426.0L161.7 422.1ZM111.8 393.6L103.9 394.3L103.4 388.9L103.4 383.5L111.3 383.5ZM103.9 394.3L96.0 394.9L95.4 389.2L95.4 383.5L103.4 383.5ZM96.0 394.9L83.8 396.0L83.2 389.8L83.2 383.5L95.4 383.5ZM151.1 383.5L143.1 383.5L143.1 379.8L143.4 376.1L151.4 376.8ZM143.1 383.5L135.2 383.5L135.2 379.5L135.5 375.4L143.4 376.1ZM120.4 321.7L113.5 317.9L116.5 312.9L119.9 308.2L126.4 312.6ZM113.5 317.9L102.9 311.9L106.2 306.5L109.8 301.4L119.9 308.2ZM179.4 324.3L174.3 318.4L177.3 316.0L180.4 313.9L184.9 320.2ZM189.5 326.6L184.9 320.2L187.8 318.3L190.8 316.6L194.7 323.3ZM183.5 285.5L180.1 278.5L184.9 276.4L189.7 274.7L192.5 281.9ZM180.1 278.5L176.8 271.5L181.8 269.2L187.0 267.4L189.7 274.7ZM176.8 271.5L173.4 264.5L178.8 262.1L184.3 260.1L187.0 267.4ZM173.4 264.5L168.3 253.7L174.1 251.1L180.1 249.0L184.3 260.1ZM187.0 267.4L184.3 260.1L189.8 258.2L195.5 256.7L197.6 264.2ZM184.3 260.1L180.1 249.0L186.2 246.8L192.4 245.2L195.5 256.7ZM201.7 279.1L199.7 271.6L204.7 270.3L209.8 269.4L211.2 277.0ZM199.7 271.6L197.6 264.2L203.0 262.8L208.4 261.8L209.8 269.4Z"/>
<path fill="#5183bb" stroke="#5183bb" d="M230.5 344.9L230.5 337.2L232.6 337.2L234.7 337.3L234.0 345.0ZM230.5 275.4L230.5 267.7L235.7 267.7L240.9 268.1L240.2 275.8ZM236.7 314.3L237.4 306.6L240.9 306.9L244.3 307.5L242.9 315.1ZM240.2 275.8L240.9 268.1L246.1 268.5L251.2 269.4L249.8 277.0ZM242.9 315.1L244.3 307.5L247.7 308.0L251.1 308.9L249.0 316.4ZM256.0 353.9L261.1 348.0L262.7 349.3L264.2 350.7L258.6 356.2ZM276.1 352.5L282.6 348.1L284.2 350.3L285.5 352.6L278.7 356.5ZM258.0 368.1L264.9 364.2L265.8 365.7L266.5 367.2L259.3 370.4ZM326.8 329.4L333.7 325.6L336.3 330.0L338.5 334.5L331.3 337.8ZM345.7 331.3L352.9 328.0L355.4 333.2L357.4 338.6L349.9 341.2ZM301.7 389.6L309.6 390.2L309.3 393.6L308.7 396.9L300.9 395.6ZM326.8 437.6L333.7 441.4L331.1 445.8L328.1 449.9L321.6 445.5ZM282.6 418.9L289.1 423.4L287.3 425.8L285.3 428.2L279.2 423.2ZM273.1 418.2L279.2 423.2L277.4 425.3L275.4 427.2L269.8 421.7ZM298.9 478.4L303.4 484.7L298.9 487.8L294.1 490.5L290.1 483.8ZM271.3 492.3L274.0 499.6L268.8 501.4L263.4 502.8L261.3 495.4ZM234.7 429.7L235.3 437.3L232.9 437.6L230.5 437.6L230.5 429.8ZM236.0 445.0L236.7 452.7L233.6 453.0L230.5 453.0L230.5 445.3ZM230.5 460.7L230.5 468.4L226.7 468.4L222.9 468.1L223.6 460.4ZM158.9 432.2L152.4 436.7L150.0 433.3L147.9 429.8L154.8 426.0ZM151.4 376.8L143.4 376.1L143.8 372.4L144.4 368.7L152.3 370.1ZM143.4 376.1L135.5 375.4L135.9 371.4L136.6 367.4L144.4 368.7ZM191.2 345.3L185.6 339.8L187.5 337.9L189.6 336.2L194.8 342.1ZM174.3 328.9L168.7 323.4L171.4 320.8L174.3 318.4L179.4 324.3ZM194.8 342.1L189.6 336.2L191.8 334.4L194.0 332.9L198.6 339.2ZM194.0 332.9L189.5 326.6L192.0 324.8L194.7 323.3L198.7 330.0ZM195.2 289.2L192.5 281.9L197.0 280.3L201.7 279.1L203.8 286.5Z"/>
<path fill="#689fca" stroke="#689fca" d="M230.5 337.2L230.5 329.4L232.9 329.4L235.3 329.7L234.7 337.3ZM230.5 283.1L230.5 275.4L235.4 275.4L240.2 275.8L239.5 283.5ZM233.3 368.3L234.6 360.7L235.7 360.9L236.7 361.1L234.6 368.6ZM249.8 277.0L251.2 269.4L256.3 270.3L261.3 271.6L259.3 279.1ZM234.6 368.6L236.7 361.1L237.7 361.4L238.7 361.7L235.9 369.0ZM249.0 316.4L251.1 308.9L254.4 309.8L257.7 310.9L255.0 318.2ZM259.3 279.1L261.3 271.6L266.4 272.9L271.3 274.7L268.5 281.9ZM241.4 354.5L244.1 347.2L245.7 347.8L247.3 348.5L243.9 355.5ZM244.1 347.2L246.8 340.0L248.8 340.7L250.6 341.5L247.3 348.5ZM297.4 328.9L303.5 323.9L306.2 327.0L308.6 330.3L302.1 334.8ZM295.6 339.2L302.1 334.8L304.3 337.8L306.2 341.0L299.3 344.9ZM251.1 371.9L258.0 368.1L258.7 369.2L259.3 370.4L252.1 373.7ZM285.5 352.6L292.4 348.8L294.0 351.4L295.3 354.1L288.1 357.4ZM244.9 377.0L252.1 373.7L252.5 374.6L252.9 375.6L245.4 378.2ZM280.9 360.7L288.1 357.4L289.3 359.8L290.2 362.4L282.8 365.0ZM293.1 372.8L300.9 371.4L301.5 374.4L301.7 377.4L293.8 378.1ZM278.0 387.5L285.9 388.2L285.7 390.6L285.3 392.9L277.4 391.5ZM277.4 391.5L285.3 392.9L284.8 395.2L284.2 397.5L276.5 395.5ZM285.3 392.9L293.1 394.2L292.6 396.9L291.9 399.5L284.2 397.5ZM288.1 409.6L295.3 412.9L294.0 415.6L292.4 418.2L285.5 414.4ZM271.8 406.7L278.7 410.5L277.4 412.6L276.1 414.5L269.5 410.1ZM319.9 433.7L326.8 437.6L324.4 441.6L321.6 445.5L315.1 441.1ZM247.4 399.9L253.0 405.3L252.0 406.3L250.9 407.2L245.8 401.2ZM264.2 416.3L269.8 421.7L268.1 423.4L266.2 424.9L261.1 419.0ZM303.4 484.7L308.0 491.0L303.1 494.3L298.0 497.2L294.1 490.5ZM278.2 463.8L282.1 470.4L278.2 472.6L274.1 474.5L270.8 467.5ZM240.6 404.5L243.9 411.5L242.7 412.1L241.4 412.5L238.7 405.3ZM270.8 467.5L274.1 474.5L270.1 476.3L265.8 477.8L263.1 470.6ZM215.3 467.2L213.9 474.8L209.8 474.1L205.8 473.0L207.9 465.6ZM220.2 420.8L218.2 428.3L216.2 427.7L214.2 427.0L216.9 419.8ZM203.6 439.5L200.3 446.5L197.5 445.2L194.8 443.7L198.7 437.0ZM200.3 446.5L196.9 453.5L193.8 452.1L190.8 450.4L194.8 443.7ZM206.2 403.4L200.1 408.3L199.0 407.0L198.0 405.6L204.5 401.2ZM184.9 414.5L178.4 418.9L176.8 416.7L175.5 414.4L182.3 410.5ZM152.4 436.7L145.9 441.1L143.3 437.5L141.1 433.7L147.9 429.8ZM183.0 387.5L175.1 388.2L174.9 385.9L174.9 383.5L182.8 383.5ZM175.1 388.2L167.2 388.9L166.9 386.2L166.9 383.5L174.9 383.5ZM159.3 377.4L151.4 376.8L151.7 373.4L152.3 370.1L160.1 371.4ZM135.5 375.4L127.6 374.8L128.0 370.4L128.8 366.1L136.6 367.4ZM208.1 375.6L200.6 372.9L201.1 371.7L201.7 370.4L208.9 373.7ZM182.3 356.5L175.5 352.6L176.8 350.3L178.4 348.1L184.9 352.5ZM141.1 333.3L134.2 329.4L136.6 325.4L139.4 321.5L145.9 325.9ZM171.9 343.6L165.4 339.2L167.4 336.4L169.6 333.9L175.7 338.8ZM163.6 328.9L157.5 323.9L160.1 320.8L163.1 318.0L168.7 323.4ZM196.8 350.7L191.2 345.3L192.9 343.6L194.8 342.1L199.9 348.0ZM199.9 348.0L194.8 342.1L196.6 340.6L198.6 339.2L203.2 345.5ZM198.6 339.2L194.0 332.9L196.3 331.3L198.7 330.0L202.7 336.7ZM193.6 306.5L190.2 299.5L194.0 297.8L197.9 296.4L200.6 303.7ZM197.9 296.4L195.2 289.2L199.4 287.7L203.8 286.5L205.8 294.0ZM205.8 294.0L203.8 286.5L208.1 285.4L212.6 284.6L213.9 292.2Z"/>
<path fill="#90c3dd" stroke="#90c3dd" d="M230.5 306.3L230.5 298.6L234.3 298.6L238.1 298.9L237.4 306.6ZM230.5 298.6L230.5 290.8L234.7 290.8L238.8 291.2L238.1 298.9ZM238.1 298.9L238.8 291.2L243.0 291.5L247.1 292.2L245.7 299.8ZM238.8 291.2L239.5 283.5L244.0 283.9L248.4 284.6L247.1 292.2ZM230.5 383.5L231.9 375.9L232.2 376.0L232.6 376.0L230.5 383.5ZM245.7 299.8L247.1 292.2L251.2 292.9L255.2 294.0L253.1 301.4ZM230.5 383.5L232.6 376.0L232.9 376.1L233.2 376.2L230.5 383.5ZM255.2 294.0L257.2 286.5L261.6 287.7L265.8 289.2L263.1 296.4ZM235.9 369.0L238.7 361.7L239.6 362.1L240.6 362.5L237.2 369.5ZM249.5 332.7L252.2 325.4L254.8 326.4L257.4 327.5L254.0 334.5ZM260.4 303.7L263.1 296.4L267.0 297.8L270.8 299.5L267.4 306.5ZM243.9 355.5L247.3 348.5L248.9 349.2L250.4 350.1L246.4 356.7ZM246.4 356.7L250.4 350.1L251.9 350.9L253.3 351.9L248.7 358.2ZM257.8 345.5L262.4 339.2L264.4 340.6L266.2 342.1L261.1 348.0ZM285.2 307.6L289.7 301.3L293.4 303.8L296.9 306.6L291.8 312.5ZM303.4 282.3L308.0 276.0L312.8 279.3L317.3 282.9L312.2 288.9ZM308.0 276.0L315.0 266.2L320.2 269.8L325.2 273.8L317.3 282.9ZM269.8 345.3L275.4 339.8L277.4 341.7L279.2 343.8L273.1 348.8ZM292.3 323.4L297.9 318.0L300.9 320.8L303.5 323.9L297.4 328.9ZM254.8 363.6L260.9 358.7L262.0 360.0L263.0 361.4L256.5 365.8ZM273.1 348.8L279.2 343.8L281.0 345.9L282.6 348.1L276.1 352.5ZM291.4 333.9L297.4 328.9L299.9 331.7L302.1 334.8L295.6 339.2ZM230.5 383.5L237.4 379.6L237.6 379.9L237.7 380.2L230.5 383.5ZM237.4 379.6L244.3 375.8L244.6 376.4L244.9 377.0L237.7 380.2ZM292.4 348.8L299.3 344.9L301.0 347.8L302.5 350.9L295.3 354.1ZM230.5 383.5L237.7 380.2L237.8 380.5L238.0 380.9L230.5 383.5ZM335.0 346.5L342.5 343.9L344.3 348.6L345.6 353.5L337.9 355.5ZM230.5 383.5L238.3 382.2L238.4 382.5L238.4 382.8L230.5 383.5ZM238.3 382.2L246.1 380.8L246.3 381.5L246.3 382.2L238.4 382.8ZM277.4 375.5L285.3 374.1L285.7 376.4L285.9 378.8L278.0 379.5ZM230.5 383.5L238.4 382.8L238.4 383.2L238.4 383.5L230.5 383.5ZM238.4 382.8L246.3 382.2L246.4 382.8L246.4 383.5L238.4 383.5ZM246.3 382.2L254.2 381.5L254.3 382.5L254.3 383.5L246.4 383.5ZM254.2 381.5L262.2 380.8L262.3 382.2L262.3 383.5L254.3 383.5ZM262.2 380.8L270.1 380.1L270.2 381.8L270.2 383.5L262.3 383.5ZM270.1 380.1L278.0 379.5L278.2 381.5L278.2 383.5L270.2 383.5ZM293.8 378.1L301.7 377.4L302.0 380.5L302.0 383.5L294.1 383.5ZM301.7 377.4L309.6 376.8L309.9 380.1L309.9 383.5L302.0 383.5ZM230.5 383.5L238.4 383.5L238.4 383.8L238.4 384.2L230.5 383.5ZM238.4 383.5L246.4 383.5L246.4 384.2L246.3 384.8L238.4 384.2ZM325.8 383.5L333.8 383.5L333.8 387.9L333.4 392.2L325.5 391.6ZM333.8 383.5L341.7 383.5L341.7 388.2L341.3 392.9L333.4 392.2ZM230.5 383.5L238.4 384.2L238.4 384.5L238.3 384.8L230.5 383.5ZM238.4 384.2L246.3 384.8L246.3 385.5L246.1 386.2L238.3 384.8ZM262.2 386.2L270.1 386.9L269.9 388.5L269.6 390.2L261.8 388.9ZM325.5 391.6L333.4 392.2L333.0 396.6L332.2 400.9L324.4 399.6ZM308.7 396.9L316.6 398.3L315.9 401.9L314.9 405.5L307.2 403.5ZM316.6 398.3L324.4 399.6L323.7 403.6L322.6 407.5L314.9 405.5ZM322.6 407.5L330.3 409.5L329.1 413.7L327.5 417.8L320.1 415.2ZM349.9 425.8L357.4 428.4L355.4 433.8L352.9 439.0L345.7 435.7ZM357.4 428.4L368.9 432.5L366.7 438.3L364.0 444.0L352.9 439.0ZM252.1 393.3L259.3 396.6L258.7 397.8L258.0 398.9L251.1 395.1ZM251.1 395.1L258.0 398.9L257.3 400.1L256.5 401.2L250.0 396.8ZM306.2 426.0L313.1 429.8L311.0 433.3L308.6 436.7L302.1 432.2ZM230.5 383.5L237.0 387.9L236.8 388.2L236.6 388.5L230.5 383.5ZM237.0 387.9L243.5 392.4L243.1 392.9L242.7 393.4L236.6 388.5ZM256.5 401.2L263.0 405.6L262.0 407.0L260.9 408.3L254.8 403.4ZM321.6 445.5L328.1 449.9L325.1 454.1L321.8 458.0L315.7 453.0ZM260.9 408.3L267.0 413.3L265.7 414.8L264.2 416.3L258.6 410.8ZM320.4 470.9L326.0 476.3L321.8 480.4L317.3 484.1L312.2 478.1ZM326.0 476.3L334.6 484.7L330.1 489.2L325.2 493.2L317.3 484.1ZM261.1 419.0L266.2 424.9L264.4 426.4L262.4 427.8L257.8 421.5ZM248.7 408.8L253.3 415.1L251.9 416.1L250.4 416.9L246.4 410.3ZM253.3 415.1L257.8 421.5L256.1 422.6L254.3 423.6L250.4 416.9ZM254.3 423.6L258.3 430.3L256.2 431.5L254.0 432.5L250.6 425.5ZM235.9 398.0L238.7 405.3L237.7 405.6L236.7 405.9L234.6 398.4ZM246.8 427.0L249.5 434.3L247.2 435.1L244.9 435.7L242.8 428.3ZM263.1 470.6L265.8 477.8L261.6 479.3L257.2 480.5L255.2 473.0ZM232.6 391.0L234.6 398.4L233.9 398.6L233.3 398.7L231.9 391.1ZM238.7 413.3L240.8 420.8L239.1 421.2L237.4 421.5L236.0 413.9ZM230.5 383.5L231.9 391.1L231.5 391.2L231.2 391.2L230.5 383.5ZM240.2 436.7L241.5 444.3L238.8 444.8L236.0 445.0L235.3 437.3ZM244.3 459.5L245.7 467.2L241.9 467.8L238.1 468.1L237.4 460.4ZM245.7 467.2L247.1 474.8L243.0 475.5L238.8 475.8L238.1 468.1ZM230.5 383.5L231.2 391.2L230.8 391.2L230.5 391.2L230.5 383.5ZM238.1 468.1L238.8 475.8L234.7 476.2L230.5 476.2L230.5 468.4ZM230.5 383.5L230.5 391.2L230.2 391.2L229.8 391.2L230.5 383.5ZM230.5 391.2L230.5 398.9L229.8 398.9L229.1 398.9L229.8 391.2ZM230.5 422.1L230.5 429.8L228.4 429.8L226.3 429.7L227.0 422.0ZM230.5 383.5L229.8 391.2L229.5 391.2L229.1 391.1L230.5 383.5ZM229.8 391.2L229.1 398.9L228.4 398.8L227.7 398.7L229.1 391.1ZM230.5 383.5L229.1 391.1L228.8 391.0L228.4 391.0L230.5 383.5ZM229.1 391.1L227.7 398.7L227.1 398.6L226.4 398.4L228.4 391.0ZM225.0 413.9L223.6 421.5L221.9 421.2L220.2 420.8L222.3 413.3ZM223.6 421.5L222.2 429.1L220.2 428.8L218.2 428.3L220.2 420.8ZM211.2 490.0L209.8 497.6L204.7 496.7L199.7 495.4L201.7 487.9ZM209.8 497.6L208.4 505.2L203.0 504.2L197.6 502.8L199.7 495.4ZM208.4 505.2L207.0 512.8L201.2 511.8L195.5 510.3L197.6 502.8ZM207.0 512.8L204.9 524.5L198.6 523.4L192.4 521.8L195.5 510.3ZM230.5 383.5L228.4 391.0L228.1 390.9L227.8 390.8L230.5 383.5ZM228.4 391.0L226.4 398.4L225.7 398.2L225.1 398.0L227.8 390.8ZM230.5 383.5L227.8 390.8L227.5 390.6L227.1 390.5L230.5 383.5ZM227.8 390.8L225.1 398.0L224.4 397.8L223.8 397.5L227.1 390.5ZM195.2 477.8L192.5 485.1L187.9 483.5L183.5 481.5L186.9 474.5ZM230.5 383.5L227.1 390.5L226.8 390.4L226.5 390.2L230.5 383.5ZM227.1 390.5L223.8 397.5L223.2 397.2L222.6 396.9L226.5 390.2ZM223.8 397.5L220.4 404.5L219.5 404.1L218.6 403.6L222.6 396.9ZM193.6 460.5L190.2 467.5L186.4 465.8L182.8 463.8L186.8 457.1ZM222.6 396.9L218.6 403.6L217.7 403.1L216.8 402.5L221.4 396.2ZM202.7 430.3L198.7 437.0L196.3 435.7L194.0 434.1L198.6 427.8ZM198.7 437.0L194.8 443.7L192.0 442.2L189.5 440.4L194.0 434.1ZM221.4 396.2L216.8 402.5L216.0 401.9L215.2 401.2L220.3 395.3ZM198.6 427.8L194.0 434.1L191.8 432.6L189.6 430.8L194.8 424.9ZM189.5 440.4L184.9 446.8L182.1 444.8L179.4 442.7L184.5 436.7ZM220.3 395.3L215.2 401.2L214.4 400.6L213.6 399.9L219.3 394.4ZM215.2 401.2L210.1 407.2L209.0 406.3L208.0 405.3L213.6 399.9ZM219.3 394.4L213.6 399.9L212.9 399.2L212.2 398.4L218.3 393.4ZM213.6 399.9L208.0 405.3L207.0 404.4L206.2 403.4L212.2 398.4ZM174.3 438.1L168.7 443.6L166.0 440.9L163.6 438.1L169.6 433.1ZM218.3 393.4L212.2 398.4L211.6 397.6L211.0 396.8L217.5 392.4ZM175.5 414.4L168.6 418.2L167.0 415.6L165.7 412.9L172.9 409.6ZM127.3 441.4L120.4 445.3L117.6 440.6L115.3 435.7L122.5 432.5ZM120.4 445.3L113.5 449.1L110.6 444.2L108.1 439.0L115.3 435.7ZM113.5 449.1L102.9 455.1L99.7 449.7L97.0 444.0L108.1 439.0ZM172.9 409.6L165.7 412.9L164.4 410.1L163.3 407.3L170.8 404.6ZM170.8 404.6L163.3 407.3L162.2 404.4L161.4 401.5L169.1 399.5ZM199.8 391.5L192.1 393.5L191.7 391.9L191.4 390.2L199.2 388.9ZM192.1 393.5L184.5 395.5L183.9 393.5L183.6 391.5L191.4 390.2ZM183.6 391.5L175.7 392.9L175.3 390.6L175.1 388.2L183.0 387.5ZM175.7 392.9L167.9 394.2L167.4 391.6L167.2 388.9L175.1 388.2ZM159.3 389.6L151.4 390.2L151.1 386.9L151.1 383.5L159.0 383.5ZM214.6 383.5L206.7 383.5L206.7 382.5L206.8 381.5L214.7 382.2ZM206.7 383.5L198.7 383.5L198.7 382.2L198.8 380.8L206.8 381.5ZM198.7 383.5L190.8 383.5L190.8 381.8L190.9 380.1L198.8 380.8ZM190.8 383.5L182.8 383.5L182.8 381.5L183.0 379.5L190.9 380.1ZM198.8 380.8L190.9 380.1L191.1 378.5L191.4 376.8L199.2 378.1ZM190.9 380.1L183.0 379.5L183.2 377.4L183.6 375.5L191.4 376.8ZM183.0 379.5L175.1 378.8L175.3 376.4L175.7 374.1L183.6 375.5ZM175.1 378.8L167.2 378.1L167.4 375.4L167.9 372.8L175.7 374.1ZM199.2 378.1L191.4 376.8L191.7 375.1L192.1 373.5L199.8 375.5ZM191.4 376.8L183.6 375.5L183.9 373.5L184.5 371.5L192.1 373.5ZM183.6 375.5L175.7 374.1L176.2 371.8L176.8 369.5L184.5 371.5ZM175.7 374.1L167.9 372.8L168.4 370.1L169.1 367.5L176.8 369.5ZM121.0 364.7L113.1 363.4L114.0 358.4L115.4 353.5L123.1 355.5ZM113.1 363.4L105.3 362.0L106.3 356.7L107.7 351.5L115.4 353.5ZM199.8 375.5L192.1 373.5L192.6 371.9L193.2 370.3L200.6 372.9ZM192.1 373.5L184.5 371.5L185.0 369.6L185.7 367.7L193.2 370.3ZM153.8 363.5L146.1 361.5L147.1 357.9L148.4 354.4L155.8 357.1ZM163.3 359.7L155.8 357.1L157.0 353.9L158.5 350.9L165.7 354.1ZM122.5 334.5L115.3 331.3L117.6 326.4L120.4 321.7L127.3 325.6ZM115.3 331.3L108.1 328.0L110.6 322.8L113.5 317.9L120.4 321.7ZM108.1 328.0L97.0 323.0L99.7 317.3L102.9 311.9L113.5 317.9ZM209.9 371.9L203.0 368.1L203.7 366.9L204.5 365.8L211.0 370.2ZM168.6 348.8L161.7 344.9L163.4 342.0L165.4 339.2L171.9 343.6ZM217.5 374.6L211.0 370.2L211.6 369.4L212.2 368.6L218.3 373.6ZM158.9 334.8L152.4 330.3L154.8 327.0L157.5 323.9L163.6 328.9ZM212.2 368.6L206.2 363.6L207.0 362.6L208.0 361.7L213.6 367.1ZM151.4 319.0L145.3 314.0L148.4 310.4L151.9 307.1L157.5 312.5ZM133.1 304.1L127.0 299.1L130.8 294.7L135.0 290.7L140.6 296.1ZM127.0 299.1L117.7 291.5L121.8 286.7L126.4 282.3L135.0 290.7ZM219.3 372.6L213.6 367.1L214.4 366.4L215.2 365.8L220.3 371.7ZM213.6 367.1L208.0 361.7L209.0 360.7L210.1 359.8L215.2 365.8ZM206.7 343.4L202.7 336.7L204.8 335.5L207.0 334.5L210.4 341.5ZM182.8 303.2L178.9 296.6L182.8 294.4L186.9 292.5L190.2 299.5ZM230.5 383.5L227.8 376.2L228.1 376.1L228.4 376.0L230.5 383.5ZM206.0 318.2L203.3 310.9L206.6 309.8L209.9 308.9L212.0 316.4ZM203.3 310.9L200.6 303.7L204.2 302.4L207.9 301.4L209.9 308.9ZM230.5 383.5L228.4 376.0L228.8 376.0L229.1 375.9L230.5 383.5ZM230.5 383.5L229.1 375.9L229.5 375.8L229.8 375.8L230.5 383.5ZM212.6 284.6L211.2 277.0L216.0 276.2L220.8 275.8L221.5 283.5ZM208.4 261.8L207.0 254.2L212.9 253.2L218.7 252.7L219.4 260.4ZM207.0 254.2L204.9 242.5L211.3 241.4L217.7 240.9L218.7 252.7ZM230.5 383.5L229.8 375.8L230.2 375.8L230.5 375.8L230.5 383.5Z"/>
<path fill="#82b8d7" stroke="#82b8d7" d="M237.4 306.6L238.1 298.9L241.9 299.2L245.7 299.8L244.3 307.5ZM239.5 283.5L240.2 275.8L245.0 276.2L249.8 277.0L248.4 284.6ZM231.9 375.9L233.3 368.3L233.9 368.4L234.6 368.6L232.6 376.0ZM244.3 307.5L245.7 299.8L249.4 300.5L253.1 301.4L251.1 308.9ZM232.6 376.0L234.6 368.6L235.3 368.8L235.9 369.0L233.2 376.2ZM257.2 286.5L259.3 279.1L264.0 280.3L268.5 281.9L265.8 289.2ZM238.7 361.7L241.4 354.5L242.7 354.9L243.9 355.5L240.6 362.5ZM246.8 340.0L249.5 332.7L251.8 333.5L254.0 334.5L250.6 341.5ZM247.3 348.5L250.6 341.5L252.5 342.4L254.3 343.4L250.4 350.1ZM270.8 299.5L274.1 292.5L278.2 294.4L282.1 296.6L278.2 303.2ZM250.4 350.1L254.3 343.4L256.1 344.4L257.8 345.5L253.3 351.9ZM250.9 359.8L256.0 353.9L257.4 355.0L258.6 356.2L253.0 361.7ZM282.6 348.1L289.1 343.6L290.9 346.1L292.4 348.8L285.5 352.6ZM289.1 343.6L295.6 339.2L297.6 342.0L299.3 344.9L292.4 348.8ZM319.9 333.3L326.8 329.4L329.2 333.5L331.3 337.8L324.1 341.1ZM237.7 380.2L244.9 377.0L245.2 377.6L245.4 378.2L238.0 380.9ZM338.5 334.5L345.7 331.3L348.0 336.2L349.9 341.2L342.5 343.9ZM282.8 365.0L290.2 362.4L291.2 364.9L291.9 367.5L284.2 369.5ZM337.9 355.5L345.6 353.5L347.0 358.4L347.9 363.4L340.0 364.7ZM285.3 374.1L293.1 372.8L293.6 375.4L293.8 378.1L285.9 378.8ZM309.9 383.5L317.9 383.5L317.9 387.2L317.6 390.9L309.6 390.2ZM270.1 386.9L278.0 387.5L277.8 389.6L277.4 391.5L269.6 390.2ZM269.6 390.2L277.4 391.5L277.1 393.5L276.5 395.5L268.9 393.5ZM260.4 394.1L267.8 396.7L267.2 398.3L266.5 399.8L259.3 396.6ZM267.8 396.7L275.3 399.3L274.6 401.2L273.7 403.1L266.5 399.8ZM305.2 409.9L312.6 412.6L311.3 416.0L309.7 419.4L302.5 416.1ZM244.9 390.0L252.1 393.3L251.7 394.2L251.1 395.1L244.3 391.2ZM280.9 406.3L288.1 409.6L286.9 412.1L285.5 414.4L278.7 410.5ZM244.3 391.2L251.1 395.1L250.6 396.0L250.0 396.8L243.5 392.4ZM248.8 398.4L254.8 403.4L254.0 404.4L253.0 405.3L247.4 399.9ZM279.2 423.2L285.3 428.2L283.3 430.5L281.1 432.6L275.4 427.2ZM245.8 401.2L250.9 407.2L249.9 408.0L248.7 408.8L244.2 402.5ZM291.8 454.5L296.9 460.4L293.4 463.2L289.7 465.7L285.2 459.4ZM240.8 420.8L242.8 428.3L240.8 428.8L238.8 429.1L237.4 421.5ZM259.3 487.9L261.3 495.4L256.3 496.7L251.2 497.6L249.8 490.0ZM230.5 468.4L230.5 476.2L226.3 476.2L222.2 475.8L222.9 468.1ZM226.3 429.7L225.7 437.3L223.2 437.1L220.8 436.7L222.2 429.1ZM196.9 453.5L193.6 460.5L190.1 458.9L186.8 457.1L190.8 450.4ZM166.7 472.1L162.1 478.4L157.9 475.5L153.9 472.2L159.0 466.3ZM153.9 472.2L148.8 478.1L144.5 474.7L140.6 470.9L146.2 465.4ZM212.2 398.4L206.2 403.4L205.3 402.3L204.5 401.2L211.0 396.8ZM217.5 392.4L211.0 396.8L210.4 396.0L209.9 395.1L216.7 391.2ZM176.8 397.5L169.1 399.5L168.4 396.9L167.9 394.2L175.7 392.9ZM207.0 387.5L199.2 388.9L199.0 387.5L198.8 386.2L206.8 385.5ZM206.8 385.5L198.8 386.2L198.7 384.8L198.7 383.5L206.7 383.5ZM167.2 388.9L159.3 389.6L159.0 386.5L159.0 383.5L166.9 383.5ZM127.6 374.8L119.7 374.1L120.1 369.4L121.0 364.7L128.8 366.1ZM185.7 367.7L178.2 365.0L179.1 362.8L180.1 360.7L187.3 363.9ZM208.9 373.7L201.7 370.4L202.3 369.2L203.0 368.1L209.9 371.9ZM187.3 363.9L180.1 360.7L181.1 358.5L182.3 356.5L189.2 360.3ZM165.7 354.1L158.5 350.9L160.0 347.8L161.7 344.9L168.6 348.8ZM189.2 360.3L182.3 356.5L183.6 354.4L184.9 352.5L191.5 356.9ZM175.5 352.6L168.6 348.8L170.1 346.1L171.9 343.6L178.4 348.1ZM191.5 356.9L184.9 352.5L186.3 350.6L187.9 348.8L194.0 353.7ZM165.4 339.2L158.9 334.8L161.1 331.7L163.6 328.9L169.6 333.9ZM194.0 353.7L187.9 348.8L189.5 346.9L191.2 345.3L196.8 350.7ZM157.5 323.9L151.4 319.0L154.3 315.6L157.5 312.5L163.1 318.0ZM225.4 377.6L220.3 371.7L220.8 371.2L221.4 370.8L225.9 377.2ZM225.9 377.2L221.4 370.8L222.0 370.5L222.6 370.1L226.5 376.8ZM203.2 345.5L198.6 339.2L200.6 337.9L202.7 336.7L206.7 343.4ZM180.4 313.9L175.8 307.6L179.2 305.3L182.8 303.2L186.8 309.9ZM226.5 376.8L222.6 370.1L223.2 369.8L223.8 369.5L227.1 376.5ZM227.1 376.5L223.8 369.5L224.4 369.2L225.1 369.0L227.8 376.2ZM196.9 313.5L193.6 306.5L197.0 304.9L200.6 303.7L203.3 310.9ZM200.6 303.7L197.9 296.4L201.8 295.0L205.8 294.0L207.9 301.4ZM222.3 353.7L220.2 346.2L221.9 345.8L223.6 345.5L225.0 353.1ZM220.2 346.2L218.2 338.7L220.2 338.2L222.2 337.9L223.6 345.5ZM220.8 275.8L220.1 268.1L225.3 267.7L230.5 267.7L230.5 275.4Z"/>
<path fill="#abd9e9" stroke="#abd9e9" d="M247.1 292.2L248.4 284.6L252.9 285.4L257.2 286.5L255.2 294.0ZM253.1 301.4L255.2 294.0L259.2 295.0L263.1 296.4L260.4 303.7ZM230.5 383.5L233.2 376.2L233.5 376.4L233.9 376.5L230.5 383.5ZM233.2 376.2L235.9 369.0L236.6 369.2L237.2 369.5L233.9 376.5ZM252.2 325.4L255.0 318.2L257.9 319.2L260.7 320.5L257.4 327.5ZM255.0 318.2L257.7 310.9L260.9 312.1L264.1 313.5L260.7 320.5ZM257.7 310.9L260.4 303.7L264.0 304.9L267.4 306.5L264.1 313.5ZM282.1 296.6L286.1 289.9L290.3 292.2L294.3 294.9L289.7 301.3ZM286.1 289.9L290.1 283.2L294.6 285.7L298.9 288.6L294.3 294.9ZM290.1 283.2L294.1 276.5L298.9 279.2L303.4 282.3L298.9 288.6ZM294.1 276.5L298.0 269.8L303.1 272.7L308.0 276.0L303.4 282.3ZM298.0 269.8L304.1 259.5L309.7 262.6L315.0 266.2L308.0 276.0ZM262.4 339.2L267.0 332.9L269.2 334.4L271.4 336.2L266.2 342.1ZM230.5 383.5L237.0 379.1L237.2 379.3L237.4 379.6L230.5 383.5ZM278.0 379.5L285.9 378.8L286.1 381.1L286.1 383.5L278.2 383.5ZM285.9 378.8L293.8 378.1L294.1 380.8L294.1 383.5L286.1 383.5ZM246.4 383.5L254.3 383.5L254.3 384.5L254.2 385.5L246.3 384.8ZM254.3 383.5L262.3 383.5L262.3 384.8L262.2 386.2L254.2 385.5ZM262.3 383.5L270.2 383.5L270.2 385.2L270.1 386.9L262.2 386.2ZM270.2 383.5L278.2 383.5L278.2 385.5L278.0 387.5L270.1 386.9ZM278.2 383.5L286.1 383.5L286.1 385.9L285.9 388.2L278.0 387.5ZM286.1 383.5L294.1 383.5L294.1 386.2L293.8 388.9L285.9 388.2ZM341.7 383.5L349.7 383.5L349.7 388.6L349.2 393.6L341.3 392.9ZM349.7 383.5L357.6 383.5L357.6 388.9L357.1 394.3L349.2 393.6ZM357.6 383.5L365.6 383.5L365.6 389.2L365.0 394.9L357.1 394.3ZM365.6 383.5L377.8 383.5L377.8 389.8L377.2 396.0L365.0 394.9ZM246.3 384.8L254.2 385.5L254.2 386.5L254.0 387.5L246.1 386.2ZM254.2 385.5L262.2 386.2L262.0 387.5L261.8 388.9L254.0 387.5ZM333.4 392.2L341.3 392.9L340.9 397.6L340.0 402.3L332.2 400.9ZM230.5 383.5L238.3 384.8L238.3 385.2L238.2 385.5L230.5 383.5ZM238.3 384.8L246.1 386.2L246.0 386.8L245.8 387.5L238.2 385.5ZM300.9 395.6L308.7 396.9L308.1 400.2L307.2 403.5L299.6 401.5ZM324.4 399.6L332.2 400.9L331.4 405.2L330.3 409.5L322.6 407.5ZM230.5 383.5L238.2 385.5L238.1 385.8L238.0 386.1L230.5 383.5ZM238.2 385.5L245.8 387.5L245.7 388.1L245.4 388.8L238.0 386.1ZM307.2 403.5L314.9 405.5L313.9 409.1L312.6 412.6L305.2 409.9ZM314.9 405.5L322.6 407.5L321.5 411.4L320.1 415.2L312.6 412.6ZM230.5 383.5L238.0 386.1L237.8 386.5L237.7 386.8L230.5 383.5ZM238.0 386.1L245.4 388.8L245.2 389.4L244.9 390.0L237.7 386.8ZM290.2 404.6L297.7 407.3L296.6 410.1L295.3 412.9L288.1 409.6ZM230.5 383.5L237.7 386.8L237.6 387.1L237.4 387.4L230.5 383.5ZM273.7 403.1L280.9 406.3L279.9 408.5L278.7 410.5L271.8 406.7ZM230.5 383.5L237.4 387.4L237.2 387.7L237.0 387.9L230.5 383.5ZM327.9 462.9L334.0 467.9L330.2 472.3L326.0 476.3L320.4 470.9ZM334.0 467.9L343.3 475.5L339.2 480.3L334.6 484.7L326.0 476.3ZM275.4 427.2L281.1 432.6L278.9 434.8L276.5 436.7L271.4 430.8ZM309.1 459.9L314.8 465.4L311.1 469.0L307.1 472.2L302.0 466.3ZM314.8 465.4L320.4 470.9L316.5 474.7L312.2 478.1L307.1 472.2ZM256.0 413.1L261.1 419.0L259.5 420.3L257.8 421.5L253.3 415.1ZM257.8 421.5L262.4 427.8L260.4 429.1L258.3 430.3L254.3 423.6ZM258.3 430.3L262.3 437.0L259.9 438.3L257.4 439.5L254.0 432.5ZM255.2 473.0L257.2 480.5L252.9 481.6L248.4 482.4L247.1 474.8ZM231.9 391.1L233.3 398.7L232.6 398.8L231.9 398.9L231.2 391.2ZM241.5 444.3L242.9 451.9L239.8 452.5L236.7 452.7L236.0 445.0ZM242.9 451.9L244.3 459.5L240.9 460.1L237.4 460.4L236.7 452.7ZM247.1 474.8L248.4 482.4L244.0 483.1L239.5 483.5L238.8 475.8ZM248.4 482.4L249.8 490.0L245.0 490.8L240.2 491.2L239.5 483.5ZM231.2 391.2L231.9 398.9L231.2 398.9L230.5 398.9L230.5 391.2ZM230.5 398.9L230.5 406.7L229.5 406.7L228.4 406.6L229.1 398.9ZM230.5 406.7L230.5 414.4L229.1 414.4L227.7 414.3L228.4 406.6ZM230.5 414.4L230.5 422.1L228.8 422.1L227.0 422.0L227.7 414.3ZM229.1 398.9L228.4 406.6L227.4 406.5L226.4 406.3L227.7 398.7ZM228.4 406.6L227.7 414.3L226.3 414.2L225.0 413.9L226.4 406.3ZM227.7 414.3L227.0 422.0L225.3 421.8L223.6 421.5L225.0 413.9ZM222.2 429.1L220.8 436.7L218.5 436.3L216.1 435.7L218.2 428.3ZM220.8 436.7L219.5 444.3L216.7 443.9L214.1 443.2L216.1 435.7ZM218.1 451.9L216.7 459.5L213.3 459.0L209.9 458.1L212.0 450.6ZM212.6 482.4L211.2 490.0L206.4 489.1L201.7 487.9L203.8 480.5ZM216.1 435.7L214.1 443.2L211.4 442.5L208.8 441.6L211.5 434.3ZM209.9 458.1L207.9 465.6L204.2 464.6L200.6 463.3L203.3 456.1ZM214.2 427.0L211.5 434.3L209.2 433.5L207.0 432.5L210.4 425.5ZM208.8 441.6L206.0 448.8L203.1 447.8L200.3 446.5L203.6 439.5ZM206.0 448.8L203.3 456.1L200.1 454.9L196.9 453.5L200.3 446.5ZM210.4 425.5L207.0 432.5L204.8 431.5L202.7 430.3L206.7 423.6ZM230.5 383.5L226.5 390.2L226.2 390.0L225.9 389.8L230.5 383.5ZM226.5 390.2L222.6 396.9L222.0 396.5L221.4 396.2L225.9 389.8ZM218.6 403.6L214.6 410.3L213.4 409.6L212.3 408.8L216.8 402.5ZM206.7 423.6L202.7 430.3L200.6 429.1L198.6 427.8L203.2 421.5ZM194.8 443.7L190.8 450.4L187.8 448.7L184.9 446.8L189.5 440.4ZM166.9 490.5L163.0 497.2L157.9 494.3L153.0 491.0L157.6 484.7ZM163.0 497.2L156.9 507.5L151.3 504.4L146.0 500.8L153.0 491.0ZM230.5 383.5L225.9 389.8L225.7 389.6L225.4 389.4L230.5 383.5ZM225.9 389.8L221.4 396.2L220.8 395.8L220.3 395.3L225.4 389.4ZM216.8 402.5L212.3 408.8L211.1 408.0L210.1 407.2L215.2 401.2ZM203.2 421.5L198.6 427.8L196.6 426.4L194.8 424.9L199.9 419.0ZM230.5 383.5L225.4 389.4L225.1 389.2L224.9 389.0L230.5 383.5ZM225.4 389.4L220.3 395.3L219.8 394.9L219.3 394.4L224.9 389.0ZM143.7 484.1L135.8 493.2L130.9 489.2L126.4 484.7L135.0 476.3ZM230.5 383.5L224.9 389.0L224.6 388.7L224.4 388.5L230.5 383.5ZM224.9 389.0L219.3 394.4L218.8 393.9L218.3 393.4L224.4 388.5ZM230.5 383.5L224.4 388.5L224.2 388.2L224.0 387.9L230.5 383.5ZM224.4 388.5L218.3 393.4L217.9 392.9L217.5 392.4L224.0 387.9ZM169.6 433.1L163.6 438.1L161.1 435.3L158.9 432.2L165.4 427.8ZM230.5 383.5L224.0 387.9L223.8 387.7L223.6 387.4L230.5 383.5ZM115.3 435.7L108.1 439.0L105.6 433.8L103.6 428.4L111.1 425.8ZM108.1 439.0L97.0 444.0L94.3 438.3L92.1 432.5L103.6 428.4ZM161.4 401.5L153.8 403.5L152.9 400.2L152.3 396.9L160.1 395.6ZM153.8 403.5L146.1 405.5L145.1 401.9L144.4 398.3L152.3 396.9ZM191.4 390.2L183.6 391.5L183.2 389.6L183.0 387.5L190.9 386.9ZM167.9 394.2L160.1 395.6L159.5 392.6L159.3 389.6L167.2 388.9ZM97.5 406.3L85.4 408.4L84.3 402.2L83.8 396.0L96.0 394.9ZM151.4 390.2L143.4 390.9L143.1 387.2L143.1 383.5L151.1 383.5ZM143.4 390.9L135.5 391.6L135.2 387.5L135.2 383.5L143.1 383.5ZM127.6 392.2L119.7 392.9L119.3 388.2L119.3 383.5L127.2 383.5ZM119.3 383.5L111.3 383.5L111.3 378.4L111.8 373.4L119.7 374.1ZM146.1 361.5L138.4 359.5L139.5 355.6L140.9 351.8L148.4 354.4ZM211.0 370.2L204.5 365.8L205.3 364.7L206.2 363.6L212.2 368.6ZM208.0 361.7L202.4 356.2L203.6 355.0L205.0 353.9L210.1 359.8ZM163.1 318.0L157.5 312.5L160.7 309.4L164.1 306.6L169.2 312.5ZM215.2 365.8L210.1 359.8L211.1 359.0L212.3 358.2L216.8 364.5ZM210.1 359.8L205.0 353.9L206.3 352.8L207.7 351.9L212.3 358.2ZM212.3 358.2L207.7 351.9L209.1 350.9L210.6 350.1L214.6 356.7ZM214.6 356.7L210.6 350.1L212.1 349.2L213.7 348.5L217.1 355.5ZM210.6 350.1L206.7 343.4L208.5 342.4L210.4 341.5L213.7 348.5ZM194.7 323.3L190.8 316.6L193.8 314.9L196.9 313.5L200.3 320.5ZM217.1 355.5L213.7 348.5L215.3 347.8L216.9 347.2L219.6 354.5ZM213.7 348.5L210.4 341.5L212.2 340.7L214.2 340.0L216.9 347.2ZM210.4 341.5L207.0 334.5L209.2 333.5L211.5 332.7L214.2 340.0ZM207.0 334.5L203.6 327.5L206.2 326.4L208.8 325.4L211.5 332.7ZM203.6 327.5L200.3 320.5L203.1 319.2L206.0 318.2L208.8 325.4ZM214.1 323.8L212.0 316.4L215.0 315.6L218.1 315.1L219.5 322.7ZM212.0 316.4L209.9 308.9L213.3 308.0L216.7 307.5L218.1 315.1ZM209.9 308.9L207.9 301.4L211.6 300.5L215.3 299.8L216.7 307.5ZM226.4 360.7L225.0 353.1L226.3 352.8L227.7 352.7L228.4 360.4ZM228.4 360.4L227.7 352.7L229.1 352.6L230.5 352.6L230.5 360.3ZM226.3 337.3L225.7 329.7L228.1 329.4L230.5 329.4L230.5 337.2Z"/>
<path fill="#9dcee3" stroke="#9dcee3" d="M248.4 284.6L249.8 277.0L254.6 277.9L259.3 279.1L257.2 286.5ZM251.1 308.9L253.1 301.4L256.8 302.4L260.4 303.7L257.7 310.9ZM250.6 341.5L254.0 334.5L256.2 335.5L258.3 336.7L254.3 343.4ZM254.3 343.4L258.3 336.7L260.4 337.9L262.4 339.2L257.8 345.5ZM248.7 358.2L253.3 351.9L254.7 352.8L256.0 353.9L250.9 359.8ZM276.5 330.3L281.6 324.3L284.2 326.5L286.7 328.9L281.1 334.4ZM253.0 361.7L258.6 356.2L259.8 357.4L260.9 358.7L254.8 363.6ZM313.1 337.2L319.9 333.3L322.2 337.1L324.1 341.1L316.9 344.3ZM331.3 337.8L338.5 334.5L340.7 339.1L342.5 343.9L335.0 346.5ZM330.3 357.5L337.9 355.5L339.2 360.1L340.0 364.7L332.2 366.1ZM261.8 388.9L269.6 390.2L269.3 391.9L268.9 393.5L261.2 391.5ZM293.1 394.2L300.9 395.6L300.4 398.6L299.6 401.5L291.9 399.5ZM261.2 391.5L268.9 393.5L268.4 395.1L267.8 396.7L260.4 394.1ZM268.9 393.5L276.5 395.5L276.0 397.4L275.3 399.3L267.8 396.7ZM330.3 409.5L337.9 411.5L336.7 416.0L335.0 420.5L327.5 417.8ZM297.7 407.3L305.2 409.9L304.0 413.1L302.5 416.1L295.3 412.9ZM237.7 386.8L244.9 390.0L244.6 390.6L244.3 391.2L237.4 387.4ZM237.4 387.4L244.3 391.2L243.9 391.8L243.5 392.4L237.0 387.9ZM254.8 403.4L260.9 408.3L259.8 409.6L258.6 410.8L253.0 405.3ZM285.3 428.2L291.4 433.1L289.1 435.7L286.7 438.1L281.1 432.6ZM253.0 405.3L258.6 410.8L257.4 412.0L256.0 413.1L250.9 407.2ZM258.6 410.8L264.2 416.3L262.7 417.7L261.1 419.0L256.0 413.1ZM250.9 407.2L256.0 413.1L254.7 414.2L253.3 415.1L248.7 408.8ZM266.2 424.9L271.4 430.8L269.2 432.6L267.0 434.1L262.4 427.8ZM254.0 432.5L257.4 439.5L254.8 440.6L252.2 441.6L249.5 434.3ZM257.2 480.5L259.3 487.9L254.6 489.1L249.8 490.0L248.4 482.4ZM238.8 429.1L240.2 436.7L237.8 437.1L235.3 437.3L234.7 429.7ZM227.0 422.0L226.3 429.7L224.3 429.5L222.2 429.1L223.6 421.5ZM213.9 474.8L212.6 482.4L208.1 481.6L203.8 480.5L205.8 473.0ZM218.2 428.3L216.1 435.7L213.8 435.1L211.5 434.3L214.2 427.0ZM197.9 470.6L195.2 477.8L190.9 476.3L186.9 474.5L190.2 467.5ZM220.4 404.5L217.1 411.5L215.8 410.9L214.6 410.3L218.6 403.6ZM207.0 432.5L203.6 439.5L201.1 438.3L198.7 437.0L202.7 430.3ZM171.3 465.7L166.7 472.1L162.7 469.4L159.0 466.3L164.1 460.4ZM148.8 478.1L143.7 484.1L139.2 480.4L135.0 476.3L140.6 470.9ZM168.7 443.6L163.1 449.0L160.1 446.2L157.5 443.1L163.6 438.1ZM224.0 387.9L217.5 392.4L217.1 391.8L216.7 391.2L223.6 387.4ZM168.6 418.2L161.7 422.1L160.0 419.2L158.5 416.1L165.7 412.9ZM134.2 437.6L127.3 441.4L124.7 437.0L122.5 432.5L129.7 429.2ZM165.7 412.9L158.5 416.1L157.0 413.1L155.8 409.9L163.3 407.3ZM163.3 407.3L155.8 409.9L154.7 406.7L153.8 403.5L161.4 401.5ZM169.1 399.5L161.4 401.5L160.6 398.6L160.1 395.6L167.9 394.2ZM199.2 388.9L191.4 390.2L191.1 388.5L190.9 386.9L198.8 386.2ZM198.8 386.2L190.9 386.9L190.8 385.2L190.8 383.5L198.7 383.5ZM190.9 386.9L183.0 387.5L182.8 385.5L182.8 383.5L190.8 383.5ZM200.6 372.9L193.2 370.3L193.8 368.7L194.5 367.2L201.7 370.4ZM193.2 370.3L185.7 367.7L186.4 365.8L187.3 363.9L194.5 367.2ZM129.7 337.8L122.5 334.5L124.7 330.0L127.3 325.6L134.2 329.4ZM202.4 356.2L196.8 350.7L198.3 349.3L199.9 348.0L205.0 353.9ZM220.3 371.7L215.2 365.8L216.0 365.1L216.8 364.5L221.4 370.8ZM205.0 353.9L199.9 348.0L201.5 346.7L203.2 345.5L207.7 351.9ZM207.7 351.9L203.2 345.5L204.9 344.4L206.7 343.4L210.6 350.1ZM202.7 336.7L198.7 330.0L201.1 328.7L203.6 327.5L207.0 334.5ZM200.3 320.5L196.9 313.5L200.1 312.1L203.3 310.9L206.0 318.2ZM227.8 376.2L225.1 369.0L225.7 368.8L226.4 368.6L228.4 376.0ZM219.6 354.5L216.9 347.2L218.5 346.6L220.2 346.2L222.3 353.7ZM216.9 347.2L214.2 340.0L216.2 339.3L218.2 338.7L220.2 346.2ZM208.8 325.4L206.0 318.2L209.0 317.2L212.0 316.4L214.1 323.8ZM228.4 376.0L226.4 368.6L227.1 368.4L227.7 368.3L229.1 375.9ZM207.9 301.4L205.8 294.0L209.8 292.9L213.9 292.2L215.3 299.8ZM229.1 375.9L227.7 368.3L228.4 368.2L229.1 368.1L229.8 375.8ZM213.9 292.2L212.6 284.6L217.0 283.9L221.5 283.5L222.2 291.2ZM229.8 375.8L229.1 368.1L229.8 368.1L230.5 368.1L230.5 375.8ZM221.5 283.5L220.8 275.8L225.6 275.4L230.5 275.4L230.5 283.1Z"/>
<path fill="#3b56a4" stroke="#3b56a4" d="M268.5 281.9L271.3 274.7L276.1 276.4L280.9 278.5L277.5 285.5ZM271.3 274.7L274.0 267.4L279.2 269.2L284.2 271.5L280.9 278.5ZM274.0 267.4L276.7 260.1L282.2 262.1L287.6 264.5L284.2 271.5ZM276.7 260.1L280.9 249.0L286.9 251.1L292.7 253.7L287.6 264.5ZM309.6 319.0L315.7 314.0L318.8 317.6L321.6 321.5L315.1 325.9ZM321.6 321.5L328.1 317.1L331.1 321.2L333.7 325.6L326.8 329.4ZM328.1 317.1L334.6 312.6L337.8 317.1L340.6 321.7L333.7 325.6ZM334.6 312.6L341.1 308.2L344.5 312.9L347.5 317.9L340.6 321.7ZM341.1 308.2L351.2 301.4L354.8 306.5L358.1 311.9L347.5 317.9ZM271.8 360.3L278.7 356.5L279.9 358.5L280.9 360.7L273.7 363.9ZM340.6 321.7L347.5 317.9L350.4 322.8L352.9 328.0L345.7 331.3ZM347.5 317.9L358.1 311.9L361.3 317.3L364.0 323.0L352.9 328.0ZM285.5 414.4L292.4 418.2L290.9 420.9L289.1 423.4L282.6 418.9ZM277.5 481.5L280.9 488.5L276.1 490.6L271.3 492.3L268.5 485.1ZM280.9 488.5L284.2 495.5L279.2 497.8L274.0 499.6L271.3 492.3ZM284.2 495.5L287.6 502.5L282.2 504.9L276.7 506.9L274.0 499.6ZM287.6 502.5L292.7 513.3L286.9 515.9L280.9 518.0L276.7 506.9ZM276.7 506.9L280.9 518.0L274.8 520.2L268.6 521.8L265.5 510.3ZM230.5 437.6L230.5 445.3L227.7 445.3L225.0 445.0L225.7 437.3ZM230.5 445.3L230.5 453.0L227.4 453.0L224.3 452.7L225.0 445.0ZM204.5 401.2L198.0 405.6L197.0 404.3L196.1 402.8L203.0 398.9ZM198.0 405.6L191.5 410.1L190.3 408.4L189.2 406.7L196.1 402.8ZM171.9 423.4L165.4 427.8L163.4 425.0L161.7 422.1L168.6 418.2ZM127.3 325.6L120.4 321.7L123.2 317.1L126.4 312.6L132.9 317.1ZM184.5 330.3L179.4 324.3L182.1 322.2L184.9 320.2L189.5 326.6ZM186.9 292.5L183.5 285.5L187.9 283.5L192.5 281.9L195.2 289.2ZM189.7 274.7L187.0 267.4L192.2 265.6L197.6 264.2L199.7 271.6Z"/>
<path fill="#c6e6f0" stroke="#c6e6f0" d="M230.5 383.5L233.9 376.5L234.2 376.6L234.5 376.8L230.5 383.5ZM233.9 376.5L237.2 369.5L237.8 369.8L238.4 370.1L234.5 376.8ZM240.6 362.5L243.9 355.5L245.2 356.1L246.4 356.7L242.4 363.4ZM264.1 313.5L267.4 306.5L270.9 308.1L274.2 309.9L270.2 316.6ZM286.7 318.4L291.8 312.5L295.0 315.1L297.9 318.0L292.3 323.4ZM275.4 339.8L281.1 334.4L283.3 336.5L285.3 338.8L279.2 343.8ZM279.2 343.8L285.3 338.8L287.3 341.2L289.1 343.6L282.6 348.1ZM285.3 338.8L291.4 333.9L293.6 336.4L295.6 339.2L289.1 343.6ZM250.0 370.2L256.5 365.8L257.3 366.9L258.0 368.1L251.1 371.9ZM299.3 344.9L306.2 341.0L308.1 344.2L309.7 347.6L302.5 350.9ZM327.5 349.2L335.0 346.5L336.7 351.0L337.9 355.5L330.3 357.5ZM307.2 363.5L314.9 361.5L315.9 365.1L316.6 368.7L308.7 370.1ZM294.1 383.5L302.0 383.5L302.0 386.5L301.7 389.6L293.8 388.9ZM341.3 392.9L349.2 393.6L348.8 398.6L347.9 403.6L340.0 402.3ZM349.2 393.6L357.1 394.3L356.6 399.6L355.7 405.0L347.9 403.6ZM246.1 386.2L254.0 387.5L253.8 388.5L253.5 389.5L245.8 387.5ZM245.8 387.5L253.5 389.5L253.3 390.5L252.9 391.4L245.4 388.8ZM284.2 397.5L291.9 399.5L291.2 402.1L290.2 404.6L282.8 402.0ZM291.9 399.5L299.6 401.5L298.8 404.4L297.7 407.3L290.2 404.6ZM299.6 401.5L307.2 403.5L306.3 406.7L305.2 409.9L297.7 407.3ZM353.3 415.5L361.0 417.5L359.4 423.0L357.4 428.4L349.9 425.8ZM361.0 417.5L372.8 420.6L371.1 426.6L368.9 432.5L357.4 428.4ZM245.4 388.8L252.9 391.4L252.5 392.4L252.1 393.3L244.9 390.0ZM282.8 402.0L290.2 404.6L289.3 407.2L288.1 409.6L280.9 406.3ZM295.6 427.8L302.1 432.2L299.9 435.3L297.4 438.1L291.4 433.1ZM315.1 441.1L321.6 445.5L318.8 449.4L315.7 453.0L309.6 448.0ZM315.7 453.0L321.8 458.0L318.4 461.8L314.8 465.4L309.1 459.9ZM321.8 458.0L327.9 462.9L324.3 467.1L320.4 470.9L314.8 465.4ZM281.1 432.6L286.7 438.1L284.2 440.5L281.6 442.7L276.5 436.7ZM297.9 449.0L303.5 454.5L300.3 457.6L296.9 460.4L291.8 454.5ZM303.5 454.5L309.1 459.9L305.7 463.3L302.0 466.3L296.9 460.4ZM281.6 442.7L286.7 448.6L283.7 451.0L280.6 453.1L276.1 446.8ZM280.6 453.1L285.2 459.4L281.8 461.7L278.2 463.8L274.2 457.1ZM260.4 463.3L263.1 470.6L259.2 472.0L255.2 473.0L253.1 465.6ZM253.1 465.6L255.2 473.0L251.2 474.1L247.1 474.8L245.7 467.2ZM249.8 490.0L251.2 497.6L246.1 498.5L240.9 498.9L240.2 491.2ZM251.2 497.6L252.6 505.2L247.1 506.1L241.6 506.6L240.9 498.9ZM252.6 505.2L254.0 512.8L248.1 513.8L242.3 514.3L241.6 506.6ZM254.0 512.8L256.1 524.5L249.7 525.6L243.3 526.1L242.3 514.3ZM238.8 475.8L239.5 483.5L235.0 483.9L230.5 483.9L230.5 476.2ZM219.5 444.3L218.1 451.9L215.0 451.4L212.0 450.6L214.1 443.2ZM214.1 443.2L212.0 450.6L209.0 449.8L206.0 448.8L208.8 441.6ZM212.0 450.6L209.9 458.1L206.6 457.2L203.3 456.1L206.0 448.8ZM211.5 434.3L208.8 441.6L206.2 440.6L203.6 439.5L207.0 432.5ZM203.3 456.1L200.6 463.3L197.0 462.1L193.6 460.5L196.9 453.5ZM213.7 418.5L210.4 425.5L208.5 424.6L206.7 423.6L210.6 416.9ZM170.9 483.8L166.9 490.5L162.1 487.8L157.6 484.7L162.1 478.4ZM184.9 446.8L180.4 453.1L177.3 451.0L174.3 448.6L179.4 442.7ZM163.6 438.1L157.5 443.1L154.8 440.0L152.4 436.7L158.9 432.2ZM122.5 432.5L115.3 435.7L113.0 430.8L111.1 425.8L118.5 423.1ZM126.0 420.5L118.5 423.1L116.7 418.4L115.4 413.5L123.1 411.5ZM118.5 423.1L111.1 425.8L109.2 420.7L107.7 415.5L115.4 413.5ZM111.1 425.8L103.6 428.4L101.6 423.0L100.0 417.5L107.7 415.5ZM103.6 428.4L92.1 432.5L89.9 426.6L88.2 420.6L100.0 417.5ZM107.7 415.5L100.0 417.5L98.5 411.9L97.5 406.3L105.3 405.0ZM100.0 417.5L88.2 420.6L86.6 414.5L85.4 408.4L97.5 406.3ZM135.5 391.6L127.6 392.2L127.2 387.9L127.2 383.5L135.2 383.5ZM111.3 383.5L103.4 383.5L103.4 378.1L103.9 372.7L111.8 373.4ZM111.8 373.4L103.9 372.7L104.4 367.4L105.3 362.0L113.1 363.4ZM107.7 351.5L100.0 349.5L101.6 344.0L103.6 338.6L111.1 341.2ZM100.0 349.5L88.2 346.4L89.9 340.4L92.1 334.5L103.6 338.6ZM155.8 357.1L148.4 354.4L149.7 351.0L151.3 347.6L158.5 350.9ZM111.1 341.2L103.6 338.6L105.6 333.2L108.1 328.0L115.3 331.3ZM103.6 338.6L92.1 334.5L94.3 328.7L97.0 323.0L108.1 328.0ZM151.3 347.6L144.1 344.3L145.9 340.7L147.9 337.2L154.8 341.0ZM157.5 312.5L151.9 307.1L155.3 303.7L159.0 300.7L164.1 306.6ZM216.8 364.5L212.3 358.2L213.4 357.4L214.6 356.7L218.6 363.4ZM218.6 363.4L214.6 356.7L215.8 356.1L217.1 355.5L220.4 362.5ZM220.4 362.5L217.1 355.5L218.3 354.9L219.6 354.5L222.3 361.7ZM216.1 331.3L214.1 323.8L216.7 323.1L219.5 322.7L220.8 330.3ZM222.2 337.9L220.8 330.3L223.2 329.9L225.7 329.7L226.3 337.3ZM216.7 307.5L215.3 299.8L219.1 299.2L222.9 298.9L223.6 306.6ZM222.2 291.2L221.5 283.5L226.0 283.1L230.5 283.1L230.5 290.8Z"/>
<path fill="#e0f3f8" stroke="#e0f3f8" d="M237.2 369.5L240.6 362.5L241.5 362.9L242.4 363.4L238.4 370.1ZM260.7 320.5L264.1 313.5L267.2 314.9L270.2 316.6L266.2 323.3ZM267.0 332.9L271.5 326.6L274.1 328.3L276.5 330.3L271.4 336.2ZM230.5 383.5L236.6 378.5L236.8 378.8L237.0 379.1L230.5 383.5ZM357.1 394.3L365.0 394.9L364.5 400.7L363.5 406.3L355.7 405.0ZM365.0 394.9L377.2 396.0L376.7 402.2L375.6 408.4L363.5 406.3ZM345.6 413.5L353.3 415.5L351.8 420.7L349.9 425.8L342.5 423.1ZM259.3 396.6L266.5 399.8L265.8 401.3L264.9 402.8L258.0 398.9ZM266.5 399.8L273.7 403.1L272.8 404.9L271.8 406.7L264.9 402.8ZM264.9 402.8L271.8 406.7L270.7 408.4L269.5 410.1L263.0 405.6ZM302.1 432.2L308.6 436.7L306.2 440.0L303.5 443.1L297.4 438.1ZM308.6 436.7L315.1 441.1L312.5 444.7L309.6 448.0L303.5 443.1ZM297.4 438.1L303.5 443.1L300.9 446.2L297.9 449.0L292.3 443.6ZM303.5 443.1L309.6 448.0L306.7 451.4L303.5 454.5L297.9 449.0ZM309.6 448.0L315.7 453.0L312.6 456.6L309.1 459.9L303.5 454.5ZM286.7 438.1L292.3 443.6L289.6 446.2L286.7 448.6L281.6 442.7ZM292.3 443.6L297.9 449.0L295.0 451.9L291.8 454.5L286.7 448.6ZM276.5 436.7L281.6 442.7L278.9 444.8L276.1 446.8L271.5 440.4ZM276.1 446.8L280.6 453.1L277.5 455.2L274.2 457.1L270.2 450.4ZM262.3 437.0L266.2 443.7L263.5 445.2L260.7 446.5L257.4 439.5ZM270.2 450.4L274.2 457.1L270.9 458.9L267.4 460.5L264.1 453.5ZM260.7 446.5L264.1 453.5L260.9 454.9L257.7 456.1L255.0 448.8ZM264.1 453.5L267.4 460.5L264.0 462.1L260.4 463.3L257.7 456.1ZM257.7 456.1L260.4 463.3L256.8 464.6L253.1 465.6L251.1 458.1ZM234.6 398.4L236.7 405.9L235.7 406.1L234.6 406.3L233.3 398.7ZM236.7 405.9L238.7 413.3L237.4 413.7L236.0 413.9L234.6 406.3ZM233.3 398.7L234.6 406.3L233.6 406.5L232.6 406.6L231.9 398.9ZM236.0 413.9L237.4 421.5L235.7 421.8L234.0 422.0L233.3 414.3ZM231.9 398.9L232.6 406.6L231.5 406.7L230.5 406.7L230.5 398.9ZM233.3 414.3L234.0 422.0L232.2 422.1L230.5 422.1L230.5 414.4ZM239.5 483.5L240.2 491.2L235.4 491.6L230.5 491.6L230.5 483.9ZM230.5 507.1L230.5 514.8L224.6 514.8L218.7 514.3L219.4 506.6ZM230.5 514.8L230.5 526.7L224.1 526.7L217.7 526.1L218.7 514.3ZM203.8 480.5L201.7 487.9L197.0 486.7L192.5 485.1L195.2 477.8ZM201.7 487.9L199.7 495.4L194.6 494.1L189.7 492.3L192.5 485.1ZM199.7 495.4L197.6 502.8L192.2 501.4L187.0 499.6L189.7 492.3ZM197.6 502.8L195.5 510.3L189.8 508.8L184.3 506.9L187.0 499.6ZM195.5 510.3L192.4 521.8L186.2 520.2L180.1 518.0L184.3 506.9ZM214.6 410.3L210.6 416.9L209.1 416.1L207.7 415.1L212.3 408.8ZM210.6 416.9L206.7 423.6L204.9 422.6L203.2 421.5L207.7 415.1ZM190.8 450.4L186.8 457.1L183.5 455.2L180.4 453.1L184.9 446.8ZM157.5 443.1L151.4 448.0L148.5 444.7L145.9 441.1L152.4 436.7ZM151.4 448.0L145.3 453.0L142.2 449.4L139.4 445.5L145.9 441.1ZM154.8 426.0L147.9 429.8L145.9 426.3L144.1 422.7L151.3 419.4ZM147.9 429.8L141.1 433.7L138.8 429.9L136.9 425.9L144.1 422.7ZM151.3 419.4L144.1 422.7L142.3 419.0L140.9 415.2L148.4 412.6ZM148.4 412.6L140.9 415.2L139.5 411.4L138.4 407.5L146.1 405.5ZM140.9 415.2L133.5 417.8L131.9 413.7L130.7 409.5L138.4 407.5ZM133.5 417.8L126.0 420.5L124.3 416.0L123.1 411.5L130.7 409.5ZM123.1 411.5L115.4 413.5L114.0 408.6L113.1 403.6L121.0 402.3ZM115.4 413.5L107.7 415.5L106.3 410.3L105.3 405.0L113.1 403.6ZM144.4 398.3L136.6 399.6L135.9 395.6L135.5 391.6L143.4 390.9ZM121.0 402.3L113.1 403.6L112.2 398.6L111.8 393.6L119.7 392.9ZM103.4 383.5L95.4 383.5L95.4 377.8L96.0 372.1L103.9 372.7ZM95.4 383.5L83.2 383.5L83.2 377.2L83.8 371.0L96.0 372.1ZM103.9 372.7L96.0 372.1L96.5 366.3L97.5 360.7L105.3 362.0ZM96.0 372.1L83.8 371.0L84.3 364.8L85.4 358.6L97.5 360.7ZM138.4 359.5L130.7 357.5L131.9 353.3L133.5 349.2L140.9 351.8ZM123.1 355.5L115.4 353.5L116.7 348.6L118.5 343.9L126.0 346.5ZM115.4 353.5L107.7 351.5L109.2 346.3L111.1 341.2L118.5 343.9ZM118.5 343.9L111.1 341.2L113.0 336.2L115.3 331.3L122.5 334.5ZM144.1 344.3L136.9 341.1L138.8 337.1L141.1 333.3L147.9 337.2ZM196.1 364.2L189.2 360.3L190.3 358.6L191.5 356.9L198.0 361.4ZM198.0 361.4L191.5 356.9L192.6 355.3L194.0 353.7L200.1 358.7ZM206.2 363.6L200.1 358.7L201.2 357.4L202.4 356.2L208.0 361.7ZM151.9 307.1L146.2 301.6L149.9 298.0L153.9 294.8L159.0 300.7ZM146.2 301.6L140.6 296.1L144.5 292.3L148.8 288.9L153.9 294.8ZM140.6 296.1L135.0 290.7L139.2 286.6L143.7 282.9L148.8 288.9ZM135.0 290.7L126.4 282.3L130.9 277.8L135.8 273.8L143.7 282.9ZM175.8 307.6L171.3 301.3L175.0 298.8L178.9 296.6L182.8 303.2ZM170.9 283.2L166.9 276.5L171.8 273.8L176.8 271.5L180.1 278.5ZM166.9 276.5L163.0 269.8L168.1 266.9L173.4 264.5L176.8 271.5ZM163.0 269.8L156.9 259.5L162.4 256.4L168.3 253.7L173.4 264.5ZM220.8 330.3L219.5 322.7L222.2 322.2L225.0 322.0L225.7 329.7ZM219.5 322.7L218.1 315.1L221.2 314.5L224.3 314.3L225.0 322.0ZM218.1 315.1L216.7 307.5L220.1 306.9L223.6 306.6L224.3 314.3Z"/>
<path fill="#b8e0ed" stroke="#b8e0ed" d="M254.0 334.5L257.4 327.5L259.9 328.7L262.3 330.0L258.3 336.7ZM267.4 306.5L270.8 299.5L274.6 301.2L278.2 303.2L274.2 309.9ZM258.3 336.7L262.3 330.0L264.7 331.3L267.0 332.9L262.4 339.2ZM278.2 303.2L282.1 296.6L286.0 298.8L289.7 301.3L285.2 307.6ZM286.7 328.9L292.3 323.4L295.0 326.1L297.4 328.9L291.4 333.9ZM237.0 379.1L243.5 374.6L243.9 375.2L244.3 375.8L237.4 379.6ZM322.6 359.5L330.3 357.5L331.4 361.8L332.2 366.1L324.4 367.4ZM302.0 383.5L309.9 383.5L309.9 386.9L309.6 390.2L301.7 389.6ZM254.0 387.5L261.8 388.9L261.6 390.2L261.2 391.5L253.5 389.5ZM332.2 400.9L340.0 402.3L339.2 406.9L337.9 411.5L330.3 409.5ZM253.5 389.5L261.2 391.5L260.8 392.8L260.4 394.1L252.9 391.4ZM276.5 395.5L284.2 397.5L283.6 399.8L282.8 402.0L275.3 399.3ZM252.9 391.4L260.4 394.1L259.9 395.3L259.3 396.6L252.1 393.3ZM275.3 399.3L282.8 402.0L281.9 404.2L280.9 406.3L273.7 403.1ZM286.7 448.6L291.8 454.5L288.6 457.1L285.2 459.4L280.6 453.1ZM262.4 427.8L267.0 434.1L264.7 435.7L262.3 437.0L258.3 430.3ZM274.2 457.1L278.2 463.8L274.6 465.8L270.8 467.5L267.4 460.5ZM267.4 460.5L270.8 467.5L267.0 469.2L263.1 470.6L260.4 463.3ZM249.5 434.3L252.2 441.6L249.6 442.5L246.9 443.2L244.9 435.7ZM242.8 428.3L244.9 435.7L242.5 436.3L240.2 436.7L238.8 429.1ZM234.0 422.0L234.7 429.7L232.6 429.8L230.5 429.8L230.5 422.1ZM207.9 465.6L205.8 473.0L201.8 472.0L197.9 470.6L200.6 463.3ZM200.6 463.3L197.9 470.6L194.0 469.2L190.2 467.5L193.6 460.5ZM217.1 411.5L213.7 418.5L212.1 417.8L210.6 416.9L214.6 410.3ZM175.8 459.4L171.3 465.7L167.6 463.2L164.1 460.4L169.2 454.5ZM146.1 405.5L138.4 407.5L137.3 403.6L136.6 399.6L144.4 398.3ZM160.1 395.6L152.3 396.9L151.7 393.6L151.4 390.2L159.3 389.6ZM105.3 405.0L97.5 406.3L96.5 400.7L96.0 394.9L103.9 394.3ZM119.7 374.1L111.8 373.4L112.2 368.4L113.1 363.4L121.0 364.7ZM158.5 350.9L151.3 347.6L152.9 344.2L154.8 341.0L161.7 344.9ZM221.4 370.8L216.8 364.5L217.7 363.9L218.6 363.4L222.6 370.1ZM222.6 370.1L218.6 363.4L219.5 362.9L220.4 362.5L223.8 369.5ZM198.7 330.0L194.7 323.3L197.5 321.8L200.3 320.5L203.6 327.5ZM178.9 296.6L174.9 289.9L179.1 287.5L183.5 285.5L186.9 292.5ZM223.8 369.5L220.4 362.5L221.4 362.1L222.3 361.7L225.1 369.0ZM225.1 369.0L222.3 361.7L223.3 361.4L224.3 361.1L226.4 368.6ZM222.3 361.7L219.6 354.5L220.9 354.0L222.3 353.7L224.3 361.1ZM214.2 340.0L211.5 332.7L213.8 331.9L216.1 331.3L218.2 338.7ZM211.5 332.7L208.8 325.4L211.4 324.5L214.1 323.8L216.1 331.3ZM226.4 368.6L224.3 361.1L225.3 360.9L226.4 360.7L227.7 368.3ZM224.3 361.1L222.3 353.7L223.6 353.3L225.0 353.1L226.4 360.7ZM218.2 338.7L216.1 331.3L218.5 330.7L220.8 330.3L222.2 337.9ZM227.7 368.3L226.4 360.7L227.4 360.5L228.4 360.4L229.1 368.1ZM215.3 299.8L213.9 292.2L218.0 291.5L222.2 291.2L222.9 298.9ZM229.1 368.1L228.4 360.4L229.5 360.3L230.5 360.3L230.5 368.1Z"/>
<path fill="#d3ecf4" stroke="#d3ecf4" d="M257.4 327.5L260.7 320.5L263.5 321.8L266.2 323.3L262.3 330.0ZM281.6 324.3L286.7 318.4L289.6 320.8L292.3 323.4L286.7 328.9ZM281.1 334.4L286.7 328.9L289.1 331.3L291.4 333.9L285.3 338.8ZM243.5 374.6L250.0 370.2L250.6 371.0L251.1 371.9L244.3 375.8ZM306.2 341.0L313.1 337.2L315.1 340.7L316.9 344.3L309.7 347.6ZM288.1 357.4L295.3 354.1L296.6 356.9L297.7 359.7L290.2 362.4ZM324.1 341.1L331.3 337.8L333.4 342.1L335.0 346.5L327.5 349.2ZM290.2 362.4L297.7 359.7L298.8 362.6L299.6 365.5L291.9 367.5ZM314.9 361.5L322.6 359.5L323.7 363.4L324.4 367.4L316.6 368.7ZM337.9 411.5L345.6 413.5L344.3 418.4L342.5 423.1L335.0 420.5ZM291.4 433.1L297.4 438.1L295.0 440.9L292.3 443.6L286.7 438.1ZM271.4 430.8L276.5 436.7L274.1 438.7L271.5 440.4L267.0 434.1ZM257.4 439.5L260.7 446.5L257.9 447.8L255.0 448.8L252.2 441.6ZM244.9 435.7L246.9 443.2L244.3 443.9L241.5 444.3L240.2 436.7ZM251.1 458.1L253.1 465.6L249.4 466.5L245.7 467.2L244.3 459.5ZM237.4 421.5L238.8 429.1L236.7 429.5L234.7 429.7L234.0 422.0ZM230.5 476.2L230.5 483.9L226.0 483.9L221.5 483.5L222.2 475.8ZM205.8 473.0L203.8 480.5L199.4 479.3L195.2 477.8L197.9 470.6ZM174.9 477.1L170.9 483.8L166.4 481.3L162.1 478.4L166.7 472.1ZM180.4 453.1L175.8 459.4L172.4 457.1L169.2 454.5L174.3 448.6ZM163.1 449.0L157.5 454.5L154.3 451.4L151.4 448.0L157.5 443.1ZM161.7 422.1L154.8 426.0L152.9 422.8L151.3 419.4L158.5 416.1ZM141.1 433.7L134.2 437.6L131.8 433.5L129.7 429.2L136.9 425.9ZM158.5 416.1L151.3 419.4L149.7 416.0L148.4 412.6L155.8 409.9ZM129.7 429.2L122.5 432.5L120.3 427.9L118.5 423.1L126.0 420.5ZM155.8 409.9L148.4 412.6L147.1 409.1L146.1 405.5L153.8 403.5ZM152.3 396.9L144.4 398.3L143.8 394.6L143.4 390.9L151.4 390.2ZM113.1 403.6L105.3 405.0L104.4 399.6L103.9 394.3L111.8 393.6ZM201.7 370.4L194.5 367.2L195.2 365.7L196.1 364.2L203.0 368.1ZM194.5 367.2L187.3 363.9L188.2 362.1L189.2 360.3L196.1 364.2ZM136.9 341.1L129.7 337.8L131.8 333.5L134.2 329.4L141.1 333.3ZM200.1 358.7L194.0 353.7L195.3 352.2L196.8 350.7L202.4 356.2ZM174.9 289.9L170.9 283.2L175.4 280.7L180.1 278.5L183.5 285.5ZM225.7 329.7L225.0 322.0L227.7 321.7L230.5 321.7L230.5 329.4Z"/>
<path fill="#efeac4" stroke="#efeac4" d="M230.5 383.5L234.5 376.8L234.8 377.0L235.1 377.2L230.5 383.5ZM234.5 376.8L238.4 370.1L239.0 370.5L239.6 370.8L235.1 377.2ZM266.2 323.3L270.2 316.6L273.2 318.3L276.1 320.2L271.5 326.6ZM270.2 316.6L274.2 309.9L277.5 311.8L280.6 313.9L276.1 320.2ZM230.5 383.5L235.1 377.2L235.3 377.4L235.6 377.6L230.5 383.5ZM235.1 377.2L239.6 370.8L240.2 371.2L240.7 371.7L235.6 377.6ZM271.5 326.6L276.1 320.2L278.9 322.2L281.6 324.3L276.5 330.3ZM230.5 383.5L235.6 377.6L235.9 377.8L236.1 378.0L230.5 383.5ZM235.6 377.6L240.7 371.7L241.2 372.1L241.7 372.6L236.1 378.0ZM230.5 383.5L236.1 378.0L236.4 378.3L236.6 378.5L230.5 383.5ZM236.1 378.0L241.7 372.6L242.2 373.1L242.7 373.6L236.6 378.5ZM242.7 373.6L248.8 368.6L249.4 369.4L250.0 370.2L243.5 374.6ZM295.3 354.1L302.5 350.9L304.0 353.9L305.2 357.1L297.7 359.7ZM309.7 347.6L316.9 344.3L318.7 348.0L320.1 351.8L312.6 354.4ZM297.7 359.7L305.2 357.1L306.3 360.3L307.2 363.5L299.6 365.5ZM312.6 354.4L320.1 351.8L321.5 355.6L322.6 359.5L314.9 361.5ZM347.9 403.6L355.7 405.0L354.7 410.3L353.3 415.5L345.6 413.5ZM355.7 405.0L363.5 406.3L362.5 411.9L361.0 417.5L353.3 415.5ZM363.5 406.3L375.6 408.4L374.4 414.5L372.8 420.6L361.0 417.5ZM240.9 498.9L241.6 506.6L236.0 507.1L230.5 507.1L230.5 499.3ZM241.6 506.6L242.3 514.3L236.4 514.8L230.5 514.8L230.5 507.1ZM242.3 514.3L243.3 526.1L236.9 526.7L230.5 526.7L230.5 514.8ZM230.5 483.9L230.5 491.6L225.6 491.6L220.8 491.2L221.5 483.5ZM230.5 491.6L230.5 499.3L225.3 499.3L220.1 498.9L220.8 491.2ZM186.8 457.1L182.8 463.8L179.2 461.7L175.8 459.4L180.4 453.1ZM182.8 463.8L178.9 470.4L175.0 468.2L171.3 465.7L175.8 459.4ZM151.9 459.9L146.2 465.4L142.6 461.8L139.2 458.0L145.3 453.0ZM139.2 458.0L133.1 462.9L129.6 458.8L126.4 454.4L132.9 449.9ZM140.9 351.8L133.5 349.2L135.0 345.0L136.9 341.1L144.1 344.3ZM133.5 349.2L126.0 346.5L127.6 342.1L129.7 337.8L136.9 341.1ZM224.3 314.3L223.6 306.6L227.0 306.3L230.5 306.3L230.5 314.0ZM222.9 298.9L222.2 291.2L226.3 290.8L230.5 290.8L230.5 298.6Z"/>
<path fill="#f6e5aa" stroke="#f6e5aa" d="M238.4 370.1L242.4 363.4L243.3 363.9L244.2 364.5L239.6 370.8ZM276.1 320.2L280.6 313.9L283.7 316.0L286.7 318.4L281.6 324.3ZM302.5 350.9L309.7 347.6L311.3 351.0L312.6 354.4L305.2 357.1ZM305.2 357.1L312.6 354.4L313.9 357.9L314.9 361.5L307.2 363.5ZM146.2 465.4L140.6 470.9L136.7 467.1L133.1 462.9L139.2 458.0ZM140.6 470.9L135.0 476.3L130.8 472.3L127.0 467.9L133.1 462.9ZM135.0 476.3L126.4 484.7L121.8 480.3L117.7 475.5L127.0 467.9ZM133.1 462.9L127.0 467.9L123.3 463.5L119.9 458.8L126.4 454.4ZM127.0 467.9L117.7 475.5L113.5 470.7L109.8 465.6L119.9 458.8ZM148.8 288.9L143.7 282.9L148.2 279.3L153.0 276.0L157.6 282.3ZM143.7 282.9L135.8 273.8L140.8 269.8L146.0 266.2L153.0 276.0ZM171.3 301.3L166.7 294.9L170.7 292.2L174.9 289.9L178.9 296.6ZM157.6 282.3L153.0 276.0L157.9 272.7L163.0 269.8L166.9 276.5ZM153.0 276.0L146.0 266.2L151.3 262.6L156.9 259.5L163.0 269.8ZM223.6 306.6L222.9 298.9L226.7 298.6L230.5 298.6L230.5 306.3Z"/>
<path fill="#e8eede" stroke="#e8eede" d="M242.4 363.4L246.4 356.7L247.6 357.4L248.7 358.2L244.2 364.5ZM262.3 330.0L266.2 323.3L269.0 324.8L271.5 326.6L267.0 332.9ZM274.2 309.9L278.2 303.2L281.8 305.3L285.2 307.6L280.6 313.9ZM244.2 364.5L248.7 358.2L249.9 359.0L250.9 359.8L245.8 365.8ZM280.6 313.9L285.2 307.6L288.6 309.9L291.8 312.5L286.7 318.4ZM245.8 365.8L250.9 359.8L252.0 360.7L253.0 361.7L247.4 367.1ZM247.4 367.1L253.0 361.7L254.0 362.6L254.8 363.6L248.8 368.6ZM236.6 378.5L242.7 373.6L243.1 374.1L243.5 374.6L237.0 379.1ZM248.8 368.6L254.8 363.6L255.7 364.7L256.5 365.8L250.0 370.2ZM316.9 344.3L324.1 341.1L326.0 345.0L327.5 349.2L320.1 351.8ZM320.1 351.8L327.5 349.2L329.1 353.3L330.3 357.5L322.6 359.5ZM340.0 402.3L347.9 403.6L347.0 408.6L345.6 413.5L337.9 411.5ZM258.0 398.9L264.9 402.8L264.0 404.3L263.0 405.6L256.5 401.2ZM267.0 434.1L271.5 440.4L269.0 442.2L266.2 443.7L262.3 437.0ZM271.5 440.4L276.1 446.8L273.2 448.7L270.2 450.4L266.2 443.7ZM266.2 443.7L270.2 450.4L267.2 452.1L264.1 453.5L260.7 446.5ZM252.2 441.6L255.0 448.8L252.0 449.8L249.0 450.6L246.9 443.2ZM255.0 448.8L257.7 456.1L254.4 457.2L251.1 458.1L249.0 450.6ZM246.9 443.2L249.0 450.6L246.0 451.4L242.9 451.9L241.5 444.3ZM249.0 450.6L251.1 458.1L247.7 459.0L244.3 459.5L242.9 451.9ZM234.6 406.3L236.0 413.9L234.7 414.2L233.3 414.3L232.6 406.6ZM232.6 406.6L233.3 414.3L231.9 414.4L230.5 414.4L230.5 406.7ZM240.2 491.2L240.9 498.9L235.7 499.3L230.5 499.3L230.5 491.6ZM230.5 499.3L230.5 507.1L225.0 507.1L219.4 506.6L220.1 498.9ZM178.9 470.4L174.9 477.1L170.7 474.8L166.7 472.1L171.3 465.7ZM212.3 408.8L207.7 415.1L206.3 414.2L205.0 413.1L210.1 407.2ZM207.7 415.1L203.2 421.5L201.5 420.3L199.9 419.0L205.0 413.1ZM157.5 454.5L151.9 459.9L148.4 456.6L145.3 453.0L151.4 448.0ZM145.3 453.0L139.2 458.0L135.9 454.1L132.9 449.9L139.4 445.5ZM144.1 422.7L136.9 425.9L135.0 422.0L133.5 417.8L140.9 415.2ZM136.9 425.9L129.7 429.2L127.6 424.9L126.0 420.5L133.5 417.8ZM138.4 407.5L130.7 409.5L129.6 405.2L128.8 400.9L136.6 399.6ZM130.7 409.5L123.1 411.5L121.8 406.9L121.0 402.3L128.8 400.9ZM136.6 399.6L128.8 400.9L128.0 396.6L127.6 392.2L135.5 391.6ZM128.8 400.9L121.0 402.3L120.1 397.6L119.7 392.9L127.6 392.2ZM130.7 357.5L123.1 355.5L124.3 351.0L126.0 346.5L133.5 349.2ZM148.4 354.4L140.9 351.8L142.3 348.0L144.1 344.3L151.3 347.6ZM126.0 346.5L118.5 343.9L120.3 339.1L122.5 334.5L129.7 337.8ZM203.0 368.1L196.1 364.2L197.0 362.7L198.0 361.4L204.5 365.8ZM204.5 365.8L198.0 361.4L199.0 360.0L200.1 358.7L206.2 363.6ZM169.2 312.5L164.1 306.6L167.6 303.8L171.3 301.3L175.8 307.6ZM225.0 322.0L224.3 314.3L227.4 314.0L230.5 314.0L230.5 321.7Z"/>
<path fill="#fee090" stroke="#fee090" d="M239.6 370.8L244.2 364.5L245.0 365.1L245.8 365.8L240.7 371.7ZM240.7 371.7L245.8 365.8L246.6 366.4L247.4 367.1L241.7 372.6ZM241.7 372.6L247.4 367.1L248.1 367.8L248.8 368.6L242.7 373.6ZM164.1 306.6L159.0 300.7L162.7 297.6L166.7 294.9L171.3 301.3ZM159.0 300.7L153.9 294.8L157.9 291.5L162.1 288.6L166.7 294.9ZM153.9 294.8L148.8 288.9L153.0 285.4L157.6 282.3L162.1 288.6ZM166.7 294.9L162.1 288.6L166.4 285.7L170.9 283.2L174.9 289.9ZM162.1 288.6L157.6 282.3L162.1 279.2L166.9 276.5L170.9 283.2Z"/>
<path fill="#4065ac" stroke="#4065ac" d="M261.1 348.0L266.2 342.1L268.1 343.6L269.8 345.3L264.2 350.7ZM303.5 323.9L309.6 319.0L312.5 322.3L315.1 325.9L308.6 330.3ZM278.7 356.5L285.5 352.6L286.9 354.9L288.1 357.4L280.9 360.7ZM309.6 390.2L317.6 390.9L317.2 394.6L316.6 398.3L308.7 396.9ZM276.1 414.5L282.6 418.9L281.0 421.1L279.2 423.2L273.1 418.2ZM243.9 411.5L247.3 418.5L245.7 419.2L244.1 419.8L241.4 412.5ZM274.0 499.6L276.7 506.9L271.2 508.8L265.5 510.3L263.4 502.8ZM235.3 437.3L236.0 445.0L233.3 445.3L230.5 445.3L230.5 437.6ZM230.5 453.0L230.5 460.7L227.0 460.7L223.6 460.4L224.3 452.7ZM178.4 418.9L171.9 423.4L170.1 420.9L168.6 418.2L175.5 414.4ZM134.2 329.4L127.3 325.6L129.9 321.2L132.9 317.1L139.4 321.5ZM185.6 339.8L179.9 334.4L182.1 332.2L184.5 330.3L189.6 336.2ZM179.9 334.4L174.3 328.9L176.8 326.5L179.4 324.3L184.5 330.3ZM189.6 336.2L184.5 330.3L186.9 328.3L189.5 326.6L194.0 332.9ZM190.2 299.5L186.9 292.5L190.9 290.7L195.2 289.2L197.9 296.4ZM192.5 281.9L189.7 274.7L194.6 272.9L199.7 271.6L201.7 279.1Z"/>
</g>
<g fill="none" stroke="#fff8b4" stroke-width="1">
<ellipse cx="230.5" cy="383.5" rx="47.7" ry="46.3"/>
<ellipse cx="230.5" cy="383.5" rx="95.3" ry="92.7"/>
<ellipse cx="230.5" cy="383.5" rx="143.0" ry="139.0"/>
<line x1="87.5" y1="383.5" x2="373.5" y2="383.5"/>
<line x1="230.5" y1="244.5" x2="230.5" y2="522.5"/>
<line x1="331.6" y1="285.2" x2="129.4" y2="481.8"/>
<line x1="331.6" y1="481.8" x2="129.4" y2="285.2"/>
</g>
<line x1="230.5" y1="383.5" x2="302.4" y2="503.6" stroke="#ffa500" stroke-width="1"/>
<circle cx="213.3" cy="521.5" r="2.9" fill="#ffa500"/>
<circle cx="251.1" cy="521.0" r="2.9" fill="#ffa500"/>
<circle cx="260.7" cy="519.4" r="2.9" fill="#ffa500"/>
<circle cx="274.2" cy="515.8" r="2.9" fill="#ffa500"/>
<circle cx="284.8" cy="512.1" r="2.9" fill="#ffa500"/>
<circle cx="289.8" cy="510.0" r="2.9" fill="#ffa500"/>
<circle cx="297.0" cy="506.6" r="2.9" fill="#ffa500"/>
<circle cx="302.4" cy="503.6" r="2.9" fill="#ffa500"/>
<circle cx="308.8" cy="499.8" r="2.9" fill="#ffa500"/>
<circle cx="312.1" cy="497.6" r="2.9" fill="#ffa500"/>
<circle cx="315.0" cy="495.7" r="2.9" fill="#ffa500"/>
<circle cx="317.9" cy="493.5" r="2.9" fill="#ffa500"/>
<circle cx="321.1" cy="491.1" r="2.9" fill="#ffa500"/>
<circle cx="323.8" cy="488.9" r="2.9" fill="#ffa500"/>
<path d="M195.0 266.5h7M198.5 263.0v7M135.0 316.5h7M138.5 313.0v7M147.0 329.5h7M150.5 326.0v7M165.0 324.5h7M168.5 321.0v7M187.0 323.5h7M190.5 320.0v7M179.0 328.5h7M182.5 325.0v7M203.0 314.5h7M206.5 311.0v7M212.0 314.5h7M215.5 311.0v7M229.0 332.5h7M232.5 329.0v7M121.0 341.5h7M124.5 338.0v7M113.0 351.5h7M116.5 348.0v7M103.0 354.5h7M106.5 351.0v7M95.0 358.5h7M98.5 355.0v7M107.0 388.5h7M110.5 385.0v7M171.0 349.5h7M174.5 346.0v7M172.0 360.5h7M175.5 357.0v7M163.0 366.5h7M166.5 363.0v7M159.0 372.5h7M162.5 369.0v7M167.0 372.5h7M170.5 369.0v7M190.0 389.5h7M193.5 386.0v7M163.0 394.5h7M166.5 391.0v7M200.0 401.5h7M203.5 398.0v7M202.0 401.5h7M205.5 398.0v7M181.0 404.5h7M184.5 401.0v7M161.0 408.5h7M164.5 405.0v7M146.0 404.5h7M149.5 401.0v7M117.0 401.5h7M120.5 398.0v7M125.0 402.5h7M128.5 399.0v7M142.0 400.5h7M145.5 397.0v7M207.0 418.5h7M210.5 415.0v7M173.0 428.5h7M176.5 425.0v7M189.0 438.5h7M192.5 435.0v7M163.0 448.5h7M166.5 445.0v7M147.0 476.5h7M150.5 473.0v7M161.0 483.5h7M164.5 480.0v7M156.0 500.5h7M159.5 497.0v7M244.0 391.5h7M247.5 388.0v7M241.0 423.5h7M244.5 420.0v7M249.0 447.5h7M252.5 444.0v7M254.0 450.5h7M257.5 447.0v7M280.0 438.5h7M283.5 435.0v7M281.0 442.5h7M284.5 439.0v7M332.0 429.5h7M335.5 426.0v7M338.0 432.5h7M341.5 429.0v7M319.0 458.5h7M322.5 455.0v7M316.0 461.5h7M319.5 458.0v7M319.0 486.5h7M322.5 483.0v7M362.0 402.5h7M365.5 399.0v7M256.0 272.5h7M259.5 269.0v7M256.0 280.5h7M259.5 277.0v7M279.0 278.5h7M282.5 275.0v7M285.0 286.5h7M288.5 283.0v7M294.0 270.5h7M297.5 267.0v7M244.0 312.5h7M247.5 309.0v7M244.0 318.5h7M247.5 315.0v7M279.0 319.5h7M282.5 316.0v7M299.0 318.5h7M302.5 315.0v7M337.0 302.5h7M340.5 299.0v7M338.0 308.5h7M341.5 305.0v7M319.0 348.5h7M322.5 345.0v7M357.0 353.5h7M360.5 350.0v7M241.0 359.5h7M244.5 356.0v7" stroke="#00ff00" stroke-width="1" fill="none" shape-rendering="crispEdges"/>
<g class="sat" fill="#00ff00" stroke="#00ff00" stroke-width="0.35" font-size="13.2">
<text x="184.3" y="257.0" textLength="27.7" lengthAdjust="spacingAndGlyphs">J196</text>
<text x="126.0" y="306.7" textLength="24.3" lengthAdjust="spacingAndGlyphs">R20</text>
<text x="138.6" y="320.4" textLength="24.5" lengthAdjust="spacingAndGlyphs">C03</text>
<text x="156.3" y="314.9" textLength="24.9" lengthAdjust="spacingAndGlyphs">G27</text>
<text x="176.7" y="314.5" textLength="27.7" lengthAdjust="spacingAndGlyphs">J195</text>
<text x="169.0" y="319.5" textLength="27.7" lengthAdjust="spacingAndGlyphs">J199</text>
<text x="194.8" y="304.7" textLength="24.5" lengthAdjust="spacingAndGlyphs">C60</text>
<text x="203.5" y="305.6" textLength="24.5" lengthAdjust="spacingAndGlyphs">C01</text>
<text x="219.9" y="323.6" textLength="24.5" lengthAdjust="spacingAndGlyphs">C25</text>
<text x="112.5" y="332.6" textLength="24.5" lengthAdjust="spacingAndGlyphs">C28</text>
<text x="103.0" y="342.2" textLength="27.7" lengthAdjust="spacingAndGlyphs">J200</text>
<text x="93.8" y="345.7" textLength="24.5" lengthAdjust="spacingAndGlyphs">C02</text>
<text x="86.5" y="349.5" textLength="24.5" lengthAdjust="spacingAndGlyphs">C60</text>
<text x="97.7" y="379.7" textLength="24.9" lengthAdjust="spacingAndGlyphs">G29</text>
<text x="162.5" y="339.9" textLength="24.5" lengthAdjust="spacingAndGlyphs">C39</text>
<text x="163.3" y="351.7" textLength="24.5" lengthAdjust="spacingAndGlyphs">C46</text>
<text x="154.9" y="357.6" textLength="24.0" lengthAdjust="spacingAndGlyphs">E36</text>
<text x="150.6" y="363.6" textLength="24.5" lengthAdjust="spacingAndGlyphs">C44</text>
<text x="157.7" y="362.7" textLength="24.9" lengthAdjust="spacingAndGlyphs">G06</text>
<text x="181.3" y="379.9" textLength="24.3" lengthAdjust="spacingAndGlyphs">R19</text>
<text x="154.5" y="384.9" textLength="24.5" lengthAdjust="spacingAndGlyphs">C09</text>
<text x="191.2" y="392.2" textLength="24.3" lengthAdjust="spacingAndGlyphs">R13</text>
<text x="193.3" y="392.2" textLength="24.3" lengthAdjust="spacingAndGlyphs">R45</text>
<text x="172.0" y="394.7" textLength="24.5" lengthAdjust="spacingAndGlyphs">C23</text>
<text x="151.9" y="399.7" textLength="24.5" lengthAdjust="spacingAndGlyphs">C40</text>
<text x="137.0" y="394.9" textLength="24.5" lengthAdjust="spacingAndGlyphs">C05</text>
<text x="108.1" y="392.2" textLength="24.0" lengthAdjust="spacingAndGlyphs">E01</text>
<text x="116.6" y="392.7" textLength="24.5" lengthAdjust="spacingAndGlyphs">C10</text>
<text x="135.1" y="391.6" textLength="20.1" lengthAdjust="spacingAndGlyphs">J01</text>
<text x="198.3" y="409.5" textLength="24.9" lengthAdjust="spacingAndGlyphs">G12</text>
<text x="165.0" y="419.3" textLength="24.0" lengthAdjust="spacingAndGlyphs">E21</text>
<text x="180.8" y="429.3" textLength="24.3" lengthAdjust="spacingAndGlyphs">R09</text>
<text x="154.6" y="438.7" textLength="24.9" lengthAdjust="spacingAndGlyphs">G25</text>
<text x="138.1" y="467.2" textLength="24.5" lengthAdjust="spacingAndGlyphs">C37</text>
<text x="151.0" y="474.5" textLength="27.7" lengthAdjust="spacingAndGlyphs">J194</text>
<text x="147.5" y="491.2" textLength="24.3" lengthAdjust="spacingAndGlyphs">R10</text>
<text x="235.0" y="382.2" textLength="24.9" lengthAdjust="spacingAndGlyphs">G11</text>
<text x="232.7" y="414.5" textLength="24.5" lengthAdjust="spacingAndGlyphs">C11</text>
<text x="240.0" y="438.5" textLength="24.0" lengthAdjust="spacingAndGlyphs">E27</text>
<text x="245.6" y="441.6" textLength="24.3" lengthAdjust="spacingAndGlyphs">R18</text>
<text x="271.4" y="429.7" textLength="24.9" lengthAdjust="spacingAndGlyphs">G34</text>
<text x="272.5" y="433.3" textLength="24.9" lengthAdjust="spacingAndGlyphs">G06</text>
<text x="323.7" y="419.9" textLength="24.5" lengthAdjust="spacingAndGlyphs">C19</text>
<text x="329.1" y="423.5" textLength="24.0" lengthAdjust="spacingAndGlyphs">E22</text>
<text x="310.8" y="449.1" textLength="24.5" lengthAdjust="spacingAndGlyphs">C12</text>
<text x="307.7" y="452.2" textLength="24.0" lengthAdjust="spacingAndGlyphs">E34</text>
<text x="310.8" y="477.7" textLength="24.3" lengthAdjust="spacingAndGlyphs">R17</text>
<text x="352.9" y="392.7" textLength="24.5" lengthAdjust="spacingAndGlyphs">C21</text>
<text x="247.5" y="263.0" textLength="24.9" lengthAdjust="spacingAndGlyphs">G05</text>
<text x="247.9" y="271.6" textLength="24.0" lengthAdjust="spacingAndGlyphs">E07</text>
<text x="270.0" y="268.7" textLength="24.0" lengthAdjust="spacingAndGlyphs">E13</text>
<text x="276.8" y="277.6" textLength="24.3" lengthAdjust="spacingAndGlyphs">R15</text>
<text x="285.1" y="261.2" textLength="24.5" lengthAdjust="spacingAndGlyphs">C24</text>
<text x="235.2" y="303.7" textLength="24.5" lengthAdjust="spacingAndGlyphs">C04</text>
<text x="235.2" y="309.5" textLength="24.5" lengthAdjust="spacingAndGlyphs">C32</text>
<text x="270.4" y="310.6" textLength="24.9" lengthAdjust="spacingAndGlyphs">G26</text>
<text x="290.6" y="308.9" textLength="24.9" lengthAdjust="spacingAndGlyphs">G21</text>
<text x="328.5" y="292.9" textLength="24.5" lengthAdjust="spacingAndGlyphs">C42</text>
<text x="329.1" y="298.7" textLength="24.0" lengthAdjust="spacingAndGlyphs">E12</text>
<text x="310.8" y="338.7" textLength="24.0" lengthAdjust="spacingAndGlyphs">E15</text>
<text x="348.7" y="343.9" textLength="24.5" lengthAdjust="spacingAndGlyphs">C50</text>
<text x="232.7" y="350.6" textLength="24.3" lengthAdjust="spacingAndGlyphs">R18</text>
</g>
<line x1="665.6" y1="383.2" x2="933.3" y2="428.5" stroke="#ffffc0" stroke-width="1"/>
<line x1="511.1" y1="462.8" x2="665.6" y2="383.2" stroke="#ffffc0" stroke-width="1"/>
<line x1="533.2" y1="451.4" x2="540.1" y2="452.6" stroke="#ffffc0" stroke-width="1"/>
<line x1="555.2" y1="440.1" x2="562.1" y2="441.2" stroke="#ffffc0" stroke-width="1"/>
<line x1="577.3" y1="428.7" x2="584.2" y2="429.9" stroke="#ffffc0" stroke-width="1"/>
<line x1="599.4" y1="417.3" x2="606.3" y2="418.5" stroke="#ffffc0" stroke-width="1"/>
<line x1="621.5" y1="405.9" x2="628.4" y2="407.1" stroke="#ffffc0" stroke-width="1"/>
<line x1="643.5" y1="394.6" x2="650.4" y2="395.7" stroke="#ffffc0" stroke-width="1"/>
<line x1="710.2" y1="390.8" x2="707.1" y2="392.4" stroke="#ffffc0" stroke-width="1"/>
<line x1="754.8" y1="398.3" x2="748.6" y2="401.5" stroke="#ffffc0" stroke-width="1"/>
<line x1="799.5" y1="405.9" x2="796.3" y2="407.5" stroke="#ffffc0" stroke-width="1"/>
<line x1="844.1" y1="413.4" x2="837.8" y2="416.6" stroke="#ffffc0" stroke-width="1"/>
<line x1="888.7" y1="420.9" x2="885.6" y2="422.6" stroke="#ffffc0" stroke-width="1"/>
<defs>
<linearGradient id="wfg" gradientUnits="userSpaceOnUse" x1="0" y1="305" x2="0" y2="472"><stop offset="0.000" stop-color="#d8ebf5"/><stop offset="0.150" stop-color="#dfeff6"/><stop offset="0.401" stop-color="#e2f0f6"/><stop offset="0.527" stop-color="#d0e7f2"/><stop offset="0.629" stop-color="#b4d7ea"/><stop offset="0.737" stop-color="#94bfde"/><stop offset="0.832" stop-color="#76a6d2"/><stop offset="0.916" stop-color="#5e8fc7"/><stop offset="1.000" stop-color="#4c7cbe"/></linearGradient>
<linearGradient id="wfl" gradientUnits="userSpaceOnUse" x1="0" y1="345" x2="0" y2="460"><stop offset="0.000" stop-color="#dcedf6"/><stop offset="0.261" stop-color="#c4e0ef"/><stop offset="0.478" stop-color="#a6cee6"/><stop offset="0.696" stop-color="#82b2d8"/><stop offset="0.870" stop-color="#6496ca"/><stop offset="1.000" stop-color="#507fc0"/></linearGradient>
<linearGradient id="wfr" gradientUnits="userSpaceOnUse" x1="790" y1="325" x2="830" y2="410"><stop offset="0" stop-color="#d8ebf5"/><stop offset="0.35" stop-color="#c6e1f0"/><stop offset="0.55" stop-color="#a2cbe5"/><stop offset="0.72" stop-color="#74a4d1"/><stop offset="0.9" stop-color="#5585c3"/><stop offset="1" stop-color="#4c7cbe"/></linearGradient>
<linearGradient id="mkl" gradientUnits="userSpaceOnUse" x1="612" y1="0" x2="668" y2="0"><stop offset="0" stop-color="#fff"/><stop offset="1" stop-color="#000"/></linearGradient>
<linearGradient id="mkr" gradientUnits="userSpaceOnUse" x1="768" y1="0" x2="800" y2="0"><stop offset="0" stop-color="#000"/><stop offset="1" stop-color="#fff"/></linearGradient>
<mask id="maskl" maskUnits="userSpaceOnUse" x="560" y="300" width="320" height="180"><rect x="560" y="300" width="320" height="180" fill="url(#mkl)"/></mask>
<mask id="maskr" maskUnits="userSpaceOnUse" x="560" y="300" width="320" height="180"><rect x="560" y="300" width="320" height="180" fill="url(#mkr)"/></mask>
<clipPath id="wfclip"><path d="M581.2 431.2L582.0 427.2L582.8 427.4L583.6 428.7L584.4 426.8L585.2 427.7L585.8 425.2L586.4 422.1L587.0 424.5L587.5 420.6L588.1 423.4L588.7 422.4L589.3 420.3L589.9 419.2L590.5 416.4L591.1 418.4L591.6 417.2L592.2 417.6L592.8 414.2L593.4 416.0L594.6 411.7L595.8 415.4L596.9 414.1L598.1 414.8L598.2 413.8L598.2 412.8L598.3 411.8L598.3 410.8L598.4 409.8L598.4 408.8L598.5 407.8L598.6 406.8L598.6 405.8L598.7 404.8L598.7 403.7L598.8 402.7L598.8 401.7L598.9 400.7L599.0 399.7L599.0 398.7L599.1 397.7L599.1 396.7L599.2 395.7L599.2 394.7L599.3 393.7L599.4 392.7L599.5 391.7L599.6 390.6L599.7 389.6L599.8 388.6L599.9 387.6L600.0 386.6L600.1 385.6L600.2 384.5L600.3 383.5L600.4 382.5L600.5 381.5L600.6 380.5L600.7 379.5L600.8 378.4L600.9 377.4L601.0 376.4L601.1 375.4L601.2 374.4L601.3 373.4L601.4 372.3L601.5 371.3L601.6 370.3L601.9 366.4L602.2 368.7L602.5 366.2L602.8 366.0L603.1 363.3L603.4 363.0L603.6 362.8L603.9 361.1L604.2 359.8L604.5 360.8L604.8 360.1L605.1 358.6L605.7 357.8L606.3 356.6L606.9 356.4L607.5 354.5L608.0 352.5L608.6 353.2L609.2 350.4L609.8 350.7L610.4 348.9L611.0 349.7L612.1 346.0L613.1 348.1L614.2 345.9L615.3 349.0L616.4 348.1L617.5 349.4L618.5 350.1L619.6 348.7L620.7 348.9L621.8 348.1L622.8 346.0L623.9 349.7L624.9 348.2L626.0 346.5L627.0 346.9L628.0 347.5L629.0 348.7L630.0 347.2L631.1 344.9L632.1 346.9L632.9 346.7L633.7 345.9L634.4 343.8L635.2 342.2L636.0 339.0L636.8 338.6L637.5 338.2L638.3 336.4L639.1 339.8L640.0 337.8L640.9 337.0L641.8 335.8L642.7 336.6L643.7 334.0L644.6 337.2L645.5 335.6L646.4 331.7L647.3 335.1L648.4 331.7L649.4 332.8L650.5 332.7L651.6 331.5L652.6 331.4L653.7 333.5L654.7 334.2L655.8 332.3L656.9 331.9L657.9 332.6L659.0 332.8L659.8 328.9L660.6 331.8L661.4 331.3L662.1 330.5L662.9 328.2L663.7 325.5L664.5 324.0L665.3 326.2L666.0 327.4L666.8 326.7L667.6 326.1L668.4 324.6L669.3 320.6L670.2 320.1L671.1 323.1L672.0 323.3L672.9 322.3L673.8 320.3L674.7 322.1L675.6 321.2L676.5 319.2L677.4 319.2L678.3 320.4L679.2 318.4L680.1 318.7L681.1 316.3L682.2 314.4L683.2 318.7L684.3 316.4L685.4 318.4L686.4 316.5L687.5 313.3L688.5 317.7L689.6 316.3L690.6 316.4L691.6 316.2L692.5 315.3L693.5 314.2L694.5 317.0L695.4 317.4L696.4 317.5L697.3 318.5L698.3 319.6L699.3 319.6L700.2 320.2L701.2 321.1L702.3 318.5L703.3 318.4L704.4 319.6L705.5 320.2L706.5 321.8L707.6 320.8L708.6 321.6L709.7 320.5L710.8 318.6L711.8 322.5L712.9 322.3L713.8 321.7L714.8 322.2L715.7 321.1L716.7 320.4L717.6 319.9L718.5 319.6L719.5 319.9L720.4 317.8L721.4 318.8L722.3 318.7L723.3 316.2L724.3 316.0L725.4 312.9L726.4 316.2L727.3 314.2L728.3 315.7L729.2 313.6L730.2 312.3L731.1 314.8L732.0 312.7L733.0 312.7L733.9 314.0L734.9 311.3L735.8 312.3L736.8 311.4L737.8 310.0L738.8 308.6L739.8 309.9L740.8 308.0L741.8 309.1L742.8 308.7L743.8 307.1L744.8 309.2L745.9 305.1L746.9 307.3L747.9 305.7L749.0 308.5L750.0 307.3L751.0 307.9L752.0 309.1L753.0 305.6L754.1 309.6L755.1 308.0L756.1 309.6L757.2 308.2L758.2 308.2L759.2 309.9L760.1 309.8L761.0 310.6L761.9 308.0L762.8 309.3L763.8 308.7L764.7 309.0L765.6 312.6L766.5 312.0L767.4 314.6L768.4 312.2L769.5 312.1L770.5 312.3L771.5 316.3L772.5 315.2L773.5 315.2L774.6 317.6L775.6 317.6L776.1 318.1L776.5 318.8L777.0 320.6L777.5 320.7L778.0 322.7L778.4 322.8L778.9 320.5L779.4 323.9L779.8 323.1L780.3 327.5L780.8 326.8L781.3 329.9L781.9 326.9L782.4 330.1L782.9 330.7L783.4 331.9L784.0 334.7L784.5 333.6L785.0 335.7L785.9 335.2L786.8 334.8L787.7 336.5L788.6 336.2L789.6 333.8L790.5 336.8L791.4 334.8L792.3 335.9L793.2 339.7L793.9 338.7L794.6 338.3L795.3 337.4L796.0 335.8L796.7 335.7L797.1 335.2L797.6 337.9L798.0 337.1L798.5 340.4L798.9 341.0L799.3 340.4L799.8 342.4L800.2 343.9L800.9 345.1L801.7 345.3L802.4 346.4L803.1 343.6L803.8 346.5L804.5 347.3L805.3 349.3L806.0 350.4L807.0 350.5L808.0 348.1L809.0 351.5L810.1 350.9L811.1 349.3L812.1 349.7L813.1 352.1L814.1 348.3L815.2 350.2L816.2 352.7L817.3 352.1L818.3 352.2L819.3 353.1L820.4 350.6L821.4 349.4L822.5 353.5L823.5 350.8L824.5 349.5L825.6 353.6L826.6 351.4L827.6 353.5L828.7 351.1L829.7 352.4L830.8 355.1L831.8 354.4L832.4 353.5L833.0 356.5L833.6 353.9L834.2 356.4L834.8 357.3L835.3 357.9L835.9 358.6L836.5 361.4L837.1 362.4L837.7 362.6L837.9 363.6L838.2 364.6L838.4 365.6L838.6 366.7L838.9 367.7L839.1 368.7L839.3 369.7L839.6 370.7L839.8 371.7L840.0 372.7L840.3 373.7L840.5 374.8L840.7 375.8L841.0 376.8L841.2 377.8L841.7 377.6L842.2 377.0L842.7 379.1L843.2 381.3L843.7 381.5L844.2 382.9L844.7 384.9L845.9 383.3L847.0 383.5L848.2 386.3L849.3 384.1L850.5 386.0L851.5 385.4L852.6 387.3L853.6 385.8L854.7 383.4L855.7 385.5L856.8 386.2L857.8 384.0L858.9 384.9L859.9 387.9L859.9 395.4L858.9 394.7L857.8 396.7L856.8 396.1L855.7 397.4L854.7 394.0L853.6 397.2L852.6 397.6L851.5 393.4L850.5 397.8L849.5 396.0L848.4 397.6L847.4 397.3L846.3 396.9L845.2 398.9L844.2 398.8L843.1 394.9L842.1 398.1L841.0 396.5L840.0 400.1L839.0 401.2L838.0 397.1L837.0 396.5L836.0 397.2L835.0 397.2L834.0 401.4L833.1 402.3L832.1 401.4L831.1 401.6L830.1 397.9L829.1 401.2L828.1 402.8L827.1 403.6L826.2 400.8L825.4 398.3L824.5 401.0L823.6 402.2L822.7 398.5L821.9 398.0L821.0 400.2L820.1 398.9L819.1 395.9L818.1 398.3L817.1 399.9L816.1 397.7L815.1 395.1L814.1 399.5L813.1 400.1L812.6 400.1L812.2 398.2L811.7 396.6L811.2 394.3L810.8 394.0L810.3 394.4L809.8 388.9L809.3 392.5L808.9 387.0L808.4 390.7L807.7 389.4L807.1 385.3L806.4 385.1L805.7 386.2L805.0 387.5L804.4 386.4L803.7 384.9L802.6 380.7L801.6 386.1L800.5 381.2L799.4 384.7L798.4 381.7L797.3 385.5L796.3 381.3L795.2 384.6L794.1 383.0L793.1 386.3L792.0 386.0L791.0 383.0L790.0 387.8L789.1 384.8L788.1 386.1L787.1 386.7L786.1 384.9L785.2 387.3L784.2 389.1L783.2 387.8L782.2 388.4L781.3 385.7L780.3 390.7L779.4 389.4L778.4 392.9L777.5 393.0L776.5 394.4L775.6 394.2L774.8 393.3L774.0 392.9L773.2 396.2L772.5 395.9L771.7 393.0L770.9 398.2L770.1 397.6L769.3 397.7L768.5 398.4L767.8 400.0L767.0 402.2L766.2 402.4L765.3 400.7L764.3 402.1L763.4 401.9L762.4 401.7L761.5 403.4L760.6 402.0L759.6 400.0L758.7 403.3L757.7 405.9L756.8 406.0L756.0 402.8L755.2 408.4L754.3 406.8L753.5 404.8L752.7 407.3L751.9 411.0L751.1 409.0L750.2 410.2L749.4 413.3L748.6 413.0L748.2 410.1L747.7 414.0L747.3 413.7L746.9 417.1L746.4 418.1L746.0 418.3L745.6 418.2L745.1 417.8L744.7 421.2L744.6 422.2L744.5 423.2L744.4 424.3L744.3 425.3L744.2 426.3L744.1 427.3L744.0 428.4L743.9 429.4L743.8 430.4L743.7 431.4L743.6 432.5L743.5 433.5L743.4 434.5L743.3 435.6L743.2 436.6L743.2 437.6L743.1 438.6L743.0 439.6L742.9 440.7L742.8 441.7L742.7 442.7L742.6 443.8L742.5 444.8L742.4 445.8L742.3 446.8L742.2 447.9L742.1 448.9L742.0 449.9L741.9 450.9L741.8 451.9L741.7 453.0L741.6 454.0L740.8 453.2L740.0 451.2L739.1 454.0L738.3 455.7L737.5 458.2L736.7 454.0L735.9 457.0L735.0 459.7L734.2 458.9L733.4 461.0L732.6 461.6L731.8 462.8L731.1 460.5L730.3 461.8L729.5 464.6L728.7 463.0L728.0 462.2L727.2 465.5L726.4 468.0L725.4 467.2L724.4 466.1L723.4 463.1L722.4 466.5L721.4 463.7L720.4 464.4L719.4 464.5L718.5 464.7L717.5 458.9L716.6 458.8L715.6 464.1L714.7 463.6L713.8 463.1L712.8 460.7L711.9 459.8L710.9 461.1L710.0 461.0L708.9 459.6L707.8 456.6L706.7 459.9L705.6 458.4L704.5 459.2L703.4 458.6L702.3 457.5L701.2 461.6L700.3 461.4L699.5 455.5L698.6 458.8L697.8 456.1L696.9 456.8L696.1 454.1L695.2 456.0L694.4 455.3L693.5 454.9L692.7 455.9L691.8 454.6L690.7 450.6L689.6 451.7L688.6 452.1L687.5 453.4L686.4 453.2L685.3 450.5L684.3 451.7L683.2 453.7L682.1 451.8L681.0 452.6L680.0 448.9L678.9 453.4L678.6 451.9L678.4 449.6L678.1 450.9L677.8 445.0L677.6 449.4L677.3 444.0L677.0 447.3L676.7 446.2L676.5 442.1L676.2 441.0L675.9 441.6L675.7 439.2L675.4 440.5L674.5 438.6L673.5 439.1L672.6 434.5L671.6 438.9L670.7 438.2L670.5 435.2L670.2 433.7L670.0 433.0L669.7 434.0L669.5 433.1L669.2 431.5L669.0 430.5L668.7 429.6L668.5 427.2L668.2 424.9L668.0 427.7L667.7 422.8L667.5 421.9L667.2 422.6L667.0 421.5L666.7 419.1L666.5 418.5L666.2 420.7L666.0 419.5L665.0 416.1L663.9 419.0L662.9 417.6L661.9 420.2L660.9 419.8L659.8 418.0L658.8 419.0L657.8 417.6L656.7 420.0L655.7 417.7L654.7 417.1L653.7 417.6L652.6 417.3L651.6 419.2L650.6 415.4L649.6 419.2L648.5 414.8L647.5 418.1L646.5 419.8L645.4 418.2L644.4 418.0L643.4 419.8L642.4 420.5L641.3 419.6L640.3 419.9L640.0 419.1L639.7 421.9L639.4 420.7L639.1 424.2L638.4 426.0L637.7 424.7L637.0 422.9L636.4 424.7L635.7 425.7L635.0 428.8L634.3 429.4L633.6 426.4L633.0 426.2L632.3 431.8L631.6 432.2L630.9 433.5L630.0 429.5L629.2 431.9L628.3 433.2L627.5 434.2L626.6 435.2L625.8 434.2L624.9 437.8L624.1 436.8L623.2 435.0L622.4 438.0L621.5 440.5L621.2 442.2L620.9 438.8L620.6 441.3L620.3 444.1L620.0 445.4L619.7 447.3L619.4 446.1L619.1 446.4L618.8 445.7L618.5 448.4L618.2 449.3L617.9 450.5L617.6 453.4L617.0 450.9L616.4 451.1L615.8 448.3L615.2 448.6L614.6 446.8L614.0 448.3L613.4 444.8L612.8 446.4L612.2 445.2L611.6 446.4L611.0 442.9L610.5 443.9L609.9 448.0L609.3 450.2L608.7 451.1L608.3 447.5L607.9 448.9L607.4 448.7L607.0 446.1L606.6 444.6L606.2 443.4L605.8 440.4L605.3 444.0L604.9 443.1L604.5 442.6L604.1 439.6L603.6 439.9L603.2 439.1L602.8 438.2L602.4 436.6L602.0 436.3L601.6 434.5L601.2 433.9L600.8 431.7L600.4 430.3L600.0 426.7L599.6 428.4L599.2 425.3L598.8 423.3L598.4 427.4L598.0 426.4L597.6 425.3L596.8 424.2L596.1 426.0L595.3 428.3L594.6 426.7L593.8 430.3L593.1 425.7L592.3 431.2L591.4 427.0L590.5 432.8L589.6 432.7L588.7 430.3L587.7 429.1L586.8 431.8L585.9 433.7L585.0 430.4L584.1 435.9Z"/></clipPath>
<filter id="wfblur" x="-20%" y="-30%" width="140%" height="160%"><feGaussianBlur stdDeviation="6"/></filter>
</defs>
<path d="M581.2 431.2L582.0 427.2L582.8 427.4L583.6 428.7L584.4 426.8L585.2 427.7L585.8 425.2L586.4 422.1L587.0 424.5L587.5 420.6L588.1 423.4L588.7 422.4L589.3 420.3L589.9 419.2L590.5 416.4L591.1 418.4L591.6 417.2L592.2 417.6L592.8 414.2L593.4 416.0L594.6 411.7L595.8 415.4L596.9 414.1L598.1 414.8L598.2 413.8L598.2 412.8L598.3 411.8L598.3 410.8L598.4 409.8L598.4 408.8L598.5 407.8L598.6 406.8L598.6 405.8L598.7 404.8L598.7 403.7L598.8 402.7L598.8 401.7L598.9 400.7L599.0 399.7L599.0 398.7L599.1 397.7L599.1 396.7L599.2 395.7L599.2 394.7L599.3 393.7L599.4 392.7L599.5 391.7L599.6 390.6L599.7 389.6L599.8 388.6L599.9 387.6L600.0 386.6L600.1 385.6L600.2 384.5L600.3 383.5L600.4 382.5L600.5 381.5L600.6 380.5L600.7 379.5L600.8 378.4L600.9 377.4L601.0 376.4L601.1 375.4L601.2 374.4L601.3 373.4L601.4 372.3L601.5 371.3L601.6 370.3L601.9 366.4L602.2 368.7L602.5 366.2L602.8 366.0L603.1 363.3L603.4 363.0L603.6 362.8L603.9 361.1L604.2 359.8L604.5 360.8L604.8 360.1L605.1 358.6L605.7 357.8L606.3 356.6L606.9 356.4L607.5 354.5L608.0 352.5L608.6 353.2L609.2 350.4L609.8 350.7L610.4 348.9L611.0 349.7L612.1 346.0L613.1 348.1L614.2 345.9L615.3 349.0L616.4 348.1L617.5 349.4L618.5 350.1L619.6 348.7L620.7 348.9L621.8 348.1L622.8 346.0L623.9 349.7L624.9 348.2L626.0 346.5L627.0 346.9L628.0 347.5L629.0 348.7L630.0 347.2L631.1 344.9L632.1 346.9L632.9 346.7L633.7 345.9L634.4 343.8L635.2 342.2L636.0 339.0L636.8 338.6L637.5 338.2L638.3 336.4L639.1 339.8L640.0 337.8L640.9 337.0L641.8 335.8L642.7 336.6L643.7 334.0L644.6 337.2L645.5 335.6L646.4 331.7L647.3 335.1L648.4 331.7L649.4 332.8L650.5 332.7L651.6 331.5L652.6 331.4L653.7 333.5L654.7 334.2L655.8 332.3L656.9 331.9L657.9 332.6L659.0 332.8L659.8 328.9L660.6 331.8L661.4 331.3L662.1 330.5L662.9 328.2L663.7 325.5L664.5 324.0L665.3 326.2L666.0 327.4L666.8 326.7L667.6 326.1L668.4 324.6L669.3 320.6L670.2 320.1L671.1 323.1L672.0 323.3L672.9 322.3L673.8 320.3L674.7 322.1L675.6 321.2L676.5 319.2L677.4 319.2L678.3 320.4L679.2 318.4L680.1 318.7L681.1 316.3L682.2 314.4L683.2 318.7L684.3 316.4L685.4 318.4L686.4 316.5L687.5 313.3L688.5 317.7L689.6 316.3L690.6 316.4L691.6 316.2L692.5 315.3L693.5 314.2L694.5 317.0L695.4 317.4L696.4 317.5L697.3 318.5L698.3 319.6L699.3 319.6L700.2 320.2L701.2 321.1L702.3 318.5L703.3 318.4L704.4 319.6L705.5 320.2L706.5 321.8L707.6 320.8L708.6 321.6L709.7 320.5L710.8 318.6L711.8 322.5L712.9 322.3L713.8 321.7L714.8 322.2L715.7 321.1L716.7 320.4L717.6 319.9L718.5 319.6L719.5 319.9L720.4 317.8L721.4 318.8L722.3 318.7L723.3 316.2L724.3 316.0L725.4 312.9L726.4 316.2L727.3 314.2L728.3 315.7L729.2 313.6L730.2 312.3L731.1 314.8L732.0 312.7L733.0 312.7L733.9 314.0L734.9 311.3L735.8 312.3L736.8 311.4L737.8 310.0L738.8 308.6L739.8 309.9L740.8 308.0L741.8 309.1L742.8 308.7L743.8 307.1L744.8 309.2L745.9 305.1L746.9 307.3L747.9 305.7L749.0 308.5L750.0 307.3L751.0 307.9L752.0 309.1L753.0 305.6L754.1 309.6L755.1 308.0L756.1 309.6L757.2 308.2L758.2 308.2L759.2 309.9L760.1 309.8L761.0 310.6L761.9 308.0L762.8 309.3L763.8 308.7L764.7 309.0L765.6 312.6L766.5 312.0L767.4 314.6L768.4 312.2L769.5 312.1L770.5 312.3L771.5 316.3L772.5 315.2L773.5 315.2L774.6 317.6L775.6 317.6L776.1 318.1L776.5 318.8L777.0 320.6L777.5 320.7L778.0 322.7L778.4 322.8L778.9 320.5L779.4 323.9L779.8 323.1L780.3 327.5L780.8 326.8L781.3 329.9L781.9 326.9L782.4 330.1L782.9 330.7L783.4 331.9L784.0 334.7L784.5 333.6L785.0 335.7L785.9 335.2L786.8 334.8L787.7 336.5L788.6 336.2L789.6 333.8L790.5 336.8L791.4 334.8L792.3 335.9L793.2 339.7L793.9 338.7L794.6 338.3L795.3 337.4L796.0 335.8L796.7 335.7L797.1 335.2L797.6 337.9L798.0 337.1L798.5 340.4L798.9 341.0L799.3 340.4L799.8 342.4L800.2 343.9L800.9 345.1L801.7 345.3L802.4 346.4L803.1 343.6L803.8 346.5L804.5 347.3L805.3 349.3L806.0 350.4L807.0 350.5L808.0 348.1L809.0 351.5L810.1 350.9L811.1 349.3L812.1 349.7L813.1 352.1L814.1 348.3L815.2 350.2L816.2 352.7L817.3 352.1L818.3 352.2L819.3 353.1L820.4 350.6L821.4 349.4L822.5 353.5L823.5 350.8L824.5 349.5L825.6 353.6L826.6 351.4L827.6 353.5L828.7 351.1L829.7 352.4L830.8 355.1L831.8 354.4L832.4 353.5L833.0 356.5L833.6 353.9L834.2 356.4L834.8 357.3L835.3 357.9L835.9 358.6L836.5 361.4L837.1 362.4L837.7 362.6L837.9 363.6L838.2 364.6L838.4 365.6L838.6 366.7L838.9 367.7L839.1 368.7L839.3 369.7L839.6 370.7L839.8 371.7L840.0 372.7L840.3 373.7L840.5 374.8L840.7 375.8L841.0 376.8L841.2 377.8L841.7 377.6L842.2 377.0L842.7 379.1L843.2 381.3L843.7 381.5L844.2 382.9L844.7 384.9L845.9 383.3L847.0 383.5L848.2 386.3L849.3 384.1L850.5 386.0L851.5 385.4L852.6 387.3L853.6 385.8L854.7 383.4L855.7 385.5L856.8 386.2L857.8 384.0L858.9 384.9L859.9 387.9L859.9 395.4L858.9 394.7L857.8 396.7L856.8 396.1L855.7 397.4L854.7 394.0L853.6 397.2L852.6 397.6L851.5 393.4L850.5 397.8L849.5 396.0L848.4 397.6L847.4 397.3L846.3 396.9L845.2 398.9L844.2 398.8L843.1 394.9L842.1 398.1L841.0 396.5L840.0 400.1L839.0 401.2L838.0 397.1L837.0 396.5L836.0 397.2L835.0 397.2L834.0 401.4L833.1 402.3L832.1 401.4L831.1 401.6L830.1 397.9L829.1 401.2L828.1 402.8L827.1 403.6L826.2 400.8L825.4 398.3L824.5 401.0L823.6 402.2L822.7 398.5L821.9 398.0L821.0 400.2L820.1 398.9L819.1 395.9L818.1 398.3L817.1 399.9L816.1 397.7L815.1 395.1L814.1 399.5L813.1 400.1L812.6 400.1L812.2 398.2L811.7 396.6L811.2 394.3L810.8 394.0L810.3 394.4L809.8 388.9L809.3 392.5L808.9 387.0L808.4 390.7L807.7 389.4L807.1 385.3L806.4 385.1L805.7 386.2L805.0 387.5L804.4 386.4L803.7 384.9L802.6 380.7L801.6 386.1L800.5 381.2L799.4 384.7L798.4 381.7L797.3 385.5L796.3 381.3L795.2 384.6L794.1 383.0L793.1 386.3L792.0 386.0L791.0 383.0L790.0 387.8L789.1 384.8L788.1 386.1L787.1 386.7L786.1 384.9L785.2 387.3L784.2 389.1L783.2 387.8L782.2 388.4L781.3 385.7L780.3 390.7L779.4 389.4L778.4 392.9L777.5 393.0L776.5 394.4L775.6 394.2L774.8 393.3L774.0 392.9L773.2 396.2L772.5 395.9L771.7 393.0L770.9 398.2L770.1 397.6L769.3 397.7L768.5 398.4L767.8 400.0L767.0 402.2L766.2 402.4L765.3 400.7L764.3 402.1L763.4 401.9L762.4 401.7L761.5 403.4L760.6 402.0L759.6 400.0L758.7 403.3L757.7 405.9L756.8 406.0L756.0 402.8L755.2 408.4L754.3 406.8L753.5 404.8L752.7 407.3L751.9 411.0L751.1 409.0L750.2 410.2L749.4 413.3L748.6 413.0L748.2 410.1L747.7 414.0L747.3 413.7L746.9 417.1L746.4 418.1L746.0 418.3L745.6 418.2L745.1 417.8L744.7 421.2L744.6 422.2L744.5 423.2L744.4 424.3L744.3 425.3L744.2 426.3L744.1 427.3L744.0 428.4L743.9 429.4L743.8 430.4L743.7 431.4L743.6 432.5L743.5 433.5L743.4 434.5L743.3 435.6L743.2 436.6L743.2 437.6L743.1 438.6L743.0 439.6L742.9 440.7L742.8 441.7L742.7 442.7L742.6 443.8L742.5 444.8L742.4 445.8L742.3 446.8L742.2 447.9L742.1 448.9L742.0 449.9L741.9 450.9L741.8 451.9L741.7 453.0L741.6 454.0L740.8 453.2L740.0 451.2L739.1 454.0L738.3 455.7L737.5 458.2L736.7 454.0L735.9 457.0L735.0 459.7L734.2 458.9L733.4 461.0L732.6 461.6L731.8 462.8L731.1 460.5L730.3 461.8L729.5 464.6L728.7 463.0L728.0 462.2L727.2 465.5L726.4 468.0L725.4 467.2L724.4 466.1L723.4 463.1L722.4 466.5L721.4 463.7L720.4 464.4L719.4 464.5L718.5 464.7L717.5 458.9L716.6 458.8L715.6 464.1L714.7 463.6L713.8 463.1L712.8 460.7L711.9 459.8L710.9 461.1L710.0 461.0L708.9 459.6L707.8 456.6L706.7 459.9L705.6 458.4L704.5 459.2L703.4 458.6L702.3 457.5L701.2 461.6L700.3 461.4L699.5 455.5L698.6 458.8L697.8 456.1L696.9 456.8L696.1 454.1L695.2 456.0L694.4 455.3L693.5 454.9L692.7 455.9L691.8 454.6L690.7 450.6L689.6 451.7L688.6 452.1L687.5 453.4L686.4 453.2L685.3 450.5L684.3 451.7L683.2 453.7L682.1 451.8L681.0 452.6L680.0 448.9L678.9 453.4L678.6 451.9L678.4 449.6L678.1 450.9L677.8 445.0L677.6 449.4L677.3 444.0L677.0 447.3L676.7 446.2L676.5 442.1L676.2 441.0L675.9 441.6L675.7 439.2L675.4 440.5L674.5 438.6L673.5 439.1L672.6 434.5L671.6 438.9L670.7 438.2L670.5 435.2L670.2 433.7L670.0 433.0L669.7 434.0L669.5 433.1L669.2 431.5L669.0 430.5L668.7 429.6L668.5 427.2L668.2 424.9L668.0 427.7L667.7 422.8L667.5 421.9L667.2 422.6L667.0 421.5L666.7 419.1L666.5 418.5L666.2 420.7L666.0 419.5L665.0 416.1L663.9 419.0L662.9 417.6L661.9 420.2L660.9 419.8L659.8 418.0L658.8 419.0L657.8 417.6L656.7 420.0L655.7 417.7L654.7 417.1L653.7 417.6L652.6 417.3L651.6 419.2L650.6 415.4L649.6 419.2L648.5 414.8L647.5 418.1L646.5 419.8L645.4 418.2L644.4 418.0L643.4 419.8L642.4 420.5L641.3 419.6L640.3 419.9L640.0 419.1L639.7 421.9L639.4 420.7L639.1 424.2L638.4 426.0L637.7 424.7L637.0 422.9L636.4 424.7L635.7 425.7L635.0 428.8L634.3 429.4L633.6 426.4L633.0 426.2L632.3 431.8L631.6 432.2L630.9 433.5L630.0 429.5L629.2 431.9L628.3 433.2L627.5 434.2L626.6 435.2L625.8 434.2L624.9 437.8L624.1 436.8L623.2 435.0L622.4 438.0L621.5 440.5L621.2 442.2L620.9 438.8L620.6 441.3L620.3 444.1L620.0 445.4L619.7 447.3L619.4 446.1L619.1 446.4L618.8 445.7L618.5 448.4L618.2 449.3L617.9 450.5L617.6 453.4L617.0 450.9L616.4 451.1L615.8 448.3L615.2 448.6L614.6 446.8L614.0 448.3L613.4 444.8L612.8 446.4L612.2 445.2L611.6 446.4L611.0 442.9L610.5 443.9L609.9 448.0L609.3 450.2L608.7 451.1L608.3 447.5L607.9 448.9L607.4 448.7L607.0 446.1L606.6 444.6L606.2 443.4L605.8 440.4L605.3 444.0L604.9 443.1L604.5 442.6L604.1 439.6L603.6 439.9L603.2 439.1L602.8 438.2L602.4 436.6L602.0 436.3L601.6 434.5L601.2 433.9L600.8 431.7L600.4 430.3L600.0 426.7L599.6 428.4L599.2 425.3L598.8 423.3L598.4 427.4L598.0 426.4L597.6 425.3L596.8 424.2L596.1 426.0L595.3 428.3L594.6 426.7L593.8 430.3L593.1 425.7L592.3 431.2L591.4 427.0L590.5 432.8L589.6 432.7L588.7 430.3L587.7 429.1L586.8 431.8L585.9 433.7L585.0 430.4L584.1 435.9Z" fill="url(#wfg)"/>
<g clip-path="url(#wfclip)">
<rect x="560" y="300" width="120" height="180" fill="url(#wfl)" mask="url(#maskl)"/>
<rect x="760" y="300" width="120" height="180" fill="url(#wfr)" mask="url(#maskr)"/>
<polygon points="641,360 667,345 697,331 729,319 748,309 771,311 774,326 755,338 729,349 700,361 671,371 648,376 639,369" fill="#fcebbd" opacity="0.92" filter="url(#wfblur)"/>
<rect x="717.6" y="376.0" width="1" height="42.5" fill="#ffffff" opacity="0.10"/>
<rect x="648.0" y="371.2" width="1.5" height="32.8" fill="#ffffff" opacity="0.06"/>
<rect x="636.9" y="373.9" width="2" height="41.4" fill="#ffffff" opacity="0.10"/>
<rect x="850.8" y="385.4" width="1" height="32.3" fill="#6f9fce" opacity="0.04"/>
<rect x="615.5" y="339.0" width="2" height="20.0" fill="#ffffff" opacity="0.09"/>
<rect x="753.6" y="339.5" width="1" height="19.7" fill="#ffffff" opacity="0.05"/>
<rect x="718.9" y="347.8" width="1.5" height="44.9" fill="#ffffff" opacity="0.13"/>
<rect x="682.0" y="343.0" width="2" height="21.5" fill="#ffffff" opacity="0.12"/>
<rect x="628.0" y="349.1" width="1" height="14.2" fill="#ffffff" opacity="0.11"/>
<rect x="654.5" y="411.0" width="1" height="27.5" fill="#ffffff" opacity="0.09"/>
<rect x="747.2" y="339.8" width="1" height="34.3" fill="#ffffff" opacity="0.08"/>
<rect x="850.7" y="395.8" width="1" height="15.9" fill="#6f9fce" opacity="0.05"/>
<rect x="720.9" y="368.7" width="1" height="34.5" fill="#6f9fce" opacity="0.07"/>
<rect x="709.0" y="358.4" width="1.5" height="25.0" fill="#ffffff" opacity="0.05"/>
<rect x="859.5" y="322.0" width="1" height="18.2" fill="#ffffff" opacity="0.10"/>
<rect x="610.9" y="334.6" width="1.5" height="26.6" fill="#ffffff" opacity="0.10"/>
<rect x="700.4" y="327.4" width="1.5" height="18.9" fill="#ffffff" opacity="0.05"/>
<rect x="696.6" y="365.3" width="2" height="43.7" fill="#ffffff" opacity="0.10"/>
<rect x="647.5" y="335.4" width="1" height="42.0" fill="#ffffff" opacity="0.07"/>
<rect x="641.2" y="382.9" width="2" height="30.3" fill="#ffffff" opacity="0.08"/>
<rect x="756.9" y="362.1" width="1" height="15.4" fill="#ffffff" opacity="0.14"/>
<rect x="792.4" y="359.2" width="1" height="25.9" fill="#ffffff" opacity="0.09"/>
<rect x="841.6" y="417.7" width="1" height="16.2" fill="#ffffff" opacity="0.11"/>
<rect x="672.9" y="411.7" width="2" height="18.7" fill="#6f9fce" opacity="0.06"/>
<rect x="664.8" y="324.7" width="1" height="21.3" fill="#ffffff" opacity="0.14"/>
<rect x="694.2" y="409.1" width="1" height="44.4" fill="#ffffff" opacity="0.11"/>
<rect x="753.4" y="412.4" width="1" height="27.7" fill="#6f9fce" opacity="0.06"/>
<rect x="605.5" y="383.6" width="1" height="27.9" fill="#ffffff" opacity="0.08"/>
<rect x="619.6" y="374.6" width="1" height="36.3" fill="#ffffff" opacity="0.12"/>
<rect x="806.2" y="411.5" width="2" height="23.6" fill="#ffffff" opacity="0.13"/>
<rect x="845.5" y="323.0" width="2" height="28.5" fill="#ffffff" opacity="0.11"/>
<rect x="751.5" y="380.9" width="2" height="14.6" fill="#ffffff" opacity="0.14"/>
<rect x="789.3" y="358.8" width="1" height="36.3" fill="#ffffff" opacity="0.09"/>
<rect x="734.9" y="371.5" width="1" height="22.2" fill="#6f9fce" opacity="0.04"/>
<rect x="729.3" y="381.5" width="1.5" height="42.4" fill="#6f9fce" opacity="0.04"/>
<rect x="637.2" y="381.2" width="2" height="29.1" fill="#ffffff" opacity="0.08"/>
<rect x="729.6" y="344.1" width="1" height="25.4" fill="#ffffff" opacity="0.11"/>
<rect x="828.9" y="358.4" width="2" height="31.2" fill="#ffffff" opacity="0.06"/>
<rect x="691.2" y="409.6" width="1" height="13.3" fill="#6f9fce" opacity="0.10"/>
<rect x="629.3" y="367.1" width="2" height="42.5" fill="#ffffff" opacity="0.08"/>
<rect x="774.8" y="391.6" width="1" height="39.8" fill="#ffffff" opacity="0.08"/>
<rect x="672.3" y="380.8" width="1" height="34.4" fill="#6f9fce" opacity="0.06"/>
<rect x="766.7" y="360.5" width="1" height="18.3" fill="#ffffff" opacity="0.07"/>
<rect x="807.2" y="418.4" width="1.5" height="15.8" fill="#6f9fce" opacity="0.07"/>
<rect x="849.2" y="388.4" width="1" height="18.6" fill="#ffffff" opacity="0.07"/>
<rect x="796.3" y="373.5" width="1" height="13.2" fill="#6f9fce" opacity="0.09"/>
<rect x="702.3" y="399.2" width="2" height="41.9" fill="#6f9fce" opacity="0.10"/>
<rect x="633.8" y="365.4" width="1.5" height="32.6" fill="#ffffff" opacity="0.08"/>
<rect x="720.6" y="385.1" width="1" height="18.8" fill="#ffffff" opacity="0.12"/>
<rect x="655.5" y="410.0" width="1.5" height="44.4" fill="#ffffff" opacity="0.10"/>
<rect x="668.1" y="391.8" width="1.5" height="12.5" fill="#ffffff" opacity="0.05"/>
<rect x="743.1" y="396.8" width="1" height="28.1" fill="#6f9fce" opacity="0.09"/>
<rect x="711.5" y="323.5" width="2" height="29.6" fill="#ffffff" opacity="0.13"/>
<rect x="638.7" y="371.7" width="2" height="35.9" fill="#ffffff" opacity="0.11"/>
<rect x="750.5" y="388.9" width="1" height="37.0" fill="#6f9fce" opacity="0.07"/>
<rect x="735.9" y="404.4" width="1" height="30.5" fill="#6f9fce" opacity="0.06"/>
<rect x="679.2" y="334.1" width="2" height="30.0" fill="#ffffff" opacity="0.09"/>
<rect x="739.3" y="370.3" width="2" height="32.0" fill="#6f9fce" opacity="0.10"/>
<rect x="741.4" y="418.9" width="2" height="16.0" fill="#6f9fce" opacity="0.05"/>
<rect x="707.6" y="415.7" width="1" height="42.5" fill="#6f9fce" opacity="0.07"/>
<rect x="688.3" y="410.1" width="1" height="42.9" fill="#ffffff" opacity="0.10"/>
<rect x="649.8" y="381.8" width="1" height="42.5" fill="#6f9fce" opacity="0.09"/>
<rect x="609.3" y="335.6" width="1" height="12.4" fill="#ffffff" opacity="0.12"/>
<rect x="761.1" y="330.5" width="1.5" height="36.1" fill="#ffffff" opacity="0.10"/>
<rect x="786.6" y="390.1" width="1" height="41.0" fill="#6f9fce" opacity="0.08"/>
<rect x="739.9" y="406.4" width="1" height="29.6" fill="#6f9fce" opacity="0.05"/>
<rect x="660.5" y="394.1" width="1.5" height="38.7" fill="#ffffff" opacity="0.08"/>
<rect x="831.6" y="339.5" width="1" height="37.7" fill="#ffffff" opacity="0.06"/>
<rect x="634.5" y="328.8" width="1" height="24.8" fill="#ffffff" opacity="0.13"/>
<rect x="652.2" y="382.8" width="1.5" height="38.4" fill="#6f9fce" opacity="0.07"/>
<rect x="837.0" y="416.8" width="1" height="15.8" fill="#ffffff" opacity="0.12"/>
<rect x="808.7" y="368.2" width="2" height="12.8" fill="#ffffff" opacity="0.11"/>
<rect x="638.1" y="338.5" width="1" height="18.7" fill="#ffffff" opacity="0.14"/>
<rect x="750.7" y="333.4" width="2" height="34.5" fill="#ffffff" opacity="0.06"/>
<rect x="721.4" y="371.5" width="1" height="26.2" fill="#ffffff" opacity="0.05"/>
<rect x="819.5" y="338.1" width="1" height="27.0" fill="#ffffff" opacity="0.09"/>
<rect x="757.3" y="329.5" width="2" height="38.1" fill="#ffffff" opacity="0.06"/>
<rect x="748.1" y="339.1" width="1.5" height="31.3" fill="#ffffff" opacity="0.12"/>
<rect x="836.9" y="394.4" width="1.5" height="37.7" fill="#ffffff" opacity="0.09"/>
<rect x="828.8" y="389.5" width="1" height="37.3" fill="#ffffff" opacity="0.09"/>
<rect x="618.3" y="354.2" width="1" height="27.5" fill="#ffffff" opacity="0.08"/>
<rect x="660.3" y="414.5" width="1" height="34.0" fill="#6f9fce" opacity="0.08"/>
<rect x="738.6" y="359.0" width="2" height="45.0" fill="#ffffff" opacity="0.11"/>
<rect x="854.8" y="322.3" width="2" height="32.3" fill="#ffffff" opacity="0.07"/>
<rect x="731.2" y="396.1" width="1.5" height="33.4" fill="#6f9fce" opacity="0.06"/>
<rect x="835.5" y="375.0" width="1" height="28.8" fill="#ffffff" opacity="0.10"/>
<rect x="765.9" y="401.0" width="1" height="14.5" fill="#ffffff" opacity="0.12"/>
<rect x="700.5" y="413.9" width="1" height="24.7" fill="#ffffff" opacity="0.13"/>
<rect x="711.7" y="369.5" width="1.5" height="21.4" fill="#6f9fce" opacity="0.06"/>
<rect x="725.6" y="347.0" width="1" height="42.7" fill="#ffffff" opacity="0.12"/>
<rect x="603.6" y="344.5" width="2" height="13.4" fill="#ffffff" opacity="0.12"/>
<rect x="613.7" y="351.5" width="1.5" height="25.1" fill="#ffffff" opacity="0.12"/>
<rect x="619.1" y="410.6" width="1" height="26.2" fill="#ffffff" opacity="0.14"/>
<rect x="611.8" y="329.8" width="1" height="38.7" fill="#ffffff" opacity="0.06"/>
<rect x="756.9" y="331.5" width="1" height="32.6" fill="#ffffff" opacity="0.07"/>
<rect x="692.7" y="335.5" width="1.5" height="24.0" fill="#ffffff" opacity="0.09"/>
<rect x="766.3" y="388.2" width="1" height="24.0" fill="#ffffff" opacity="0.12"/>
<rect x="847.7" y="393.4" width="1.5" height="19.9" fill="#6f9fce" opacity="0.09"/>
<rect x="671.4" y="381.0" width="1.5" height="35.9" fill="#ffffff" opacity="0.07"/>
<rect x="795.9" y="339.0" width="1" height="20.2" fill="#ffffff" opacity="0.13"/>
<rect x="763.4" y="320.9" width="1" height="20.6" fill="#ffffff" opacity="0.05"/>
<rect x="740.8" y="327.2" width="1.5" height="14.9" fill="#ffffff" opacity="0.10"/>
<rect x="725.8" y="355.4" width="1" height="23.2" fill="#ffffff" opacity="0.06"/>
<rect x="808.6" y="364.7" width="2" height="39.1" fill="#ffffff" opacity="0.12"/>
<rect x="710.3" y="345.8" width="1.5" height="38.7" fill="#ffffff" opacity="0.11"/>
<rect x="675.6" y="395.9" width="1" height="39.3" fill="#6f9fce" opacity="0.08"/>
<rect x="720.1" y="352.4" width="2" height="29.9" fill="#ffffff" opacity="0.10"/>
<rect x="677.7" y="397.6" width="1" height="14.5" fill="#6f9fce" opacity="0.08"/>
<rect x="780.7" y="369.5" width="1" height="37.2" fill="#6f9fce" opacity="0.09"/>
<rect x="693.0" y="392.6" width="1.5" height="24.1" fill="#6f9fce" opacity="0.08"/>
</g>
<line x1="511.1" y1="462.8" x2="778.8" y2="508.1" stroke="#ffffc0" stroke-width="1"/>
<line x1="778.8" y1="508.1" x2="933.3" y2="428.5" stroke="#ffffc0" stroke-width="1"/>
<line x1="511.5" y1="302.0" x2="511.5" y2="462.8" stroke="#ffffc0"/>
<line x1="511" y1="302.5" x2="520" y2="302.5" stroke="#ffffc0"/>
<text x="484.3" y="306.4" fill="#ffffc0" font-size="16.6" textLength="10.2" lengthAdjust="spacingAndGlyphs" class="t">0</text>
<line x1="511" y1="328.5" x2="520" y2="328.5" stroke="#ffffc0"/>
<text x="468.4" y="333.2" fill="#ffffc0" font-size="16.6" textLength="26.1" lengthAdjust="spacingAndGlyphs" class="t">-20</text>
<line x1="511" y1="355.5" x2="520" y2="355.5" stroke="#ffffc0"/>
<text x="468.4" y="360.0" fill="#ffffc0" font-size="16.6" textLength="26.1" lengthAdjust="spacingAndGlyphs" class="t">-40</text>
<line x1="511" y1="382.5" x2="520" y2="382.5" stroke="#ffffc0"/>
<text x="468.4" y="386.8" fill="#ffffc0" font-size="16.6" textLength="26.1" lengthAdjust="spacingAndGlyphs" class="t">-60</text>
<line x1="511" y1="409.5" x2="520" y2="409.5" stroke="#ffffc0"/>
<text x="468.4" y="413.6" fill="#ffffc0" font-size="16.6" textLength="26.1" lengthAdjust="spacingAndGlyphs" class="t">-80</text>
<line x1="511" y1="436.5" x2="520" y2="436.5" stroke="#ffffc0"/>
<text x="458.2" y="440.4" fill="#ffffc0" font-size="16.6" textLength="36.3" lengthAdjust="spacingAndGlyphs" class="t">-100</text>
<text x="458.2" y="467.2" fill="#ffffc0" font-size="16.6" textLength="36.3" lengthAdjust="spacingAndGlyphs" class="t">-120</text>
<line x1="511.1" y1="462.8" x2="517.3" y2="459.6" stroke="#ffffc0" stroke-width="1"/>
<text x="466.2" y="472.2" fill="#ffffc0" font-size="16.6" textLength="71.9" lengthAdjust="spacingAndGlyphs" class="t">03:31:20</text>
<line x1="600.3" y1="477.9" x2="606.6" y2="474.7" stroke="#ffffc0" stroke-width="1"/>
<text x="555.4" y="487.3" fill="#ffffc0" font-size="16.6" textLength="71.9" lengthAdjust="spacingAndGlyphs" class="t">03:31:40</text>
<line x1="689.6" y1="493.0" x2="695.8" y2="489.8" stroke="#ffffc0" stroke-width="1"/>
<text x="644.6" y="502.4" fill="#ffffc0" font-size="16.6" textLength="71.9" lengthAdjust="spacingAndGlyphs" class="t">03:32:00</text>
<line x1="778.8" y1="508.1" x2="785.0" y2="504.9" stroke="#ffffc0" stroke-width="1"/>
<text x="733.9" y="517.5" fill="#ffffc0" font-size="16.6" textLength="71.9" lengthAdjust="spacingAndGlyphs" class="t">03:32:20</text>
<line x1="555.7" y1="470.4" x2="558.8" y2="468.7" stroke="#ffffc0" stroke-width="1"/>
<line x1="645.0" y1="485.5" x2="648.1" y2="483.8" stroke="#ffffc0" stroke-width="1"/>
<line x1="734.2" y1="500.6" x2="737.3" y2="498.9" stroke="#ffffc0" stroke-width="1"/>
<line x1="778.8" y1="508.1" x2="771.9" y2="506.9" stroke="#ffffc0" stroke-width="1"/>
<text x="795.2" y="514.9" fill="#ffffc0" font-size="16.6" textLength="40.7" lengthAdjust="spacingAndGlyphs" class="t">1560</text>
<line x1="800.9" y1="496.7" x2="794.0" y2="495.6" stroke="#ffffc0" stroke-width="1"/>
<text x="817.3" y="503.5" fill="#ffffc0" font-size="16.6" textLength="40.7" lengthAdjust="spacingAndGlyphs" class="t">1565</text>
<line x1="822.9" y1="485.4" x2="816.0" y2="484.2" stroke="#ffffc0" stroke-width="1"/>
<text x="839.4" y="492.1" fill="#ffffc0" font-size="16.6" textLength="40.7" lengthAdjust="spacingAndGlyphs" class="t">1570</text>
<line x1="845.0" y1="474.0" x2="838.1" y2="472.8" stroke="#ffffc0" stroke-width="1"/>
<text x="861.5" y="480.7" fill="#ffffc0" font-size="16.6" textLength="40.7" lengthAdjust="spacingAndGlyphs" class="t">1575</text>
<line x1="867.1" y1="462.6" x2="860.2" y2="461.4" stroke="#ffffc0" stroke-width="1"/>
<text x="883.5" y="469.4" fill="#ffffc0" font-size="16.6" textLength="40.7" lengthAdjust="spacingAndGlyphs" class="t">1580</text>
<line x1="889.2" y1="451.2" x2="882.3" y2="450.1" stroke="#ffffc0" stroke-width="1"/>
<text x="905.6" y="458.0" fill="#ffffc0" font-size="16.6" textLength="40.7" lengthAdjust="spacingAndGlyphs" class="t">1585</text>
<line x1="911.2" y1="439.9" x2="904.3" y2="438.7" stroke="#ffffc0" stroke-width="1"/>
<text x="927.7" y="446.6" fill="#ffffc0" font-size="16.6" textLength="40.7" lengthAdjust="spacingAndGlyphs" class="t">1590</text>
<line x1="933.3" y1="428.5" x2="926.4" y2="427.3" stroke="#ffffc0" stroke-width="1"/>
<text x="949.7" y="435.2" fill="#ffffc0" font-size="16.6" textLength="40.7" lengthAdjust="spacingAndGlyphs" class="t">1595</text>
<text x="552.8" y="510.9" fill="#ffffc0" font-size="16.6" textLength="88.4" lengthAdjust="spacingAndGlyphs" transform="rotate(9.6 597.0 510.9)" class="t">Time (UTC)</text>
<text x="865.8" y="483.0" fill="#ffffc0" font-size="16.6" textLength="134.5" lengthAdjust="spacingAndGlyphs" transform="rotate(-27.3 933.0 483.0)" class="t">Frequency (MHz)</text>
<text x="393.8" y="383.0" fill="#ffffc0" font-size="16.6" textLength="86.4" lengthAdjust="spacingAndGlyphs" transform="rotate(-90 437.0 383.0)" class="t">PSD (dBm)</text>
<polygon points="639.7,475.7 639.7,315.5 774.5,246.7 774.5,404.5" fill="none" stroke="#ff0000" stroke-width="1"/>
<line x1="98.5" y1="637.5" x2="990.5" y2="637.5" stroke="#c4c4c4" stroke-width="1" stroke-dasharray="2 2" shape-rendering="crispEdges"/>
<line x1="98.5" y1="672.7" x2="990.5" y2="672.7" stroke="#c4c4c4" stroke-width="1" stroke-dasharray="2 2" shape-rendering="crispEdges"/>
<line x1="390.5" y1="640.5" x2="390.5" y2="699.5" stroke="#c4c4c4" stroke-width="1" stroke-dasharray="2 2" shape-rendering="crispEdges"/>
<line x1="690.5" y1="640.5" x2="690.5" y2="699.5" stroke="#c4c4c4" stroke-width="1" stroke-dasharray="2 2" shape-rendering="crispEdges"/>
<rect x="90.5" y="632.5" width="900.0" height="75.0" fill="none" stroke="#ffffc0" stroke-width="1"/>
<line x1="90.5" y1="637.5" x2="98.5" y2="637.5" stroke="#ffffc0"/>
<line x1="990.5" y1="637.5" x2="982.5" y2="637.5" stroke="#ffffc0"/>
<line x1="90.5" y1="672.7" x2="98.5" y2="672.7" stroke="#ffffc0"/>
<line x1="990.5" y1="672.7" x2="982.5" y2="672.7" stroke="#ffffc0"/>
<line x1="240.5" y1="632.5" x2="240.5" y2="636.5" stroke="#ffffc0"/>
<line x1="240.5" y1="707.5" x2="240.5" y2="703.5" stroke="#ffffc0"/>
<line x1="390.5" y1="632.5" x2="390.5" y2="640.5" stroke="#ffffc0"/>
<line x1="390.5" y1="707.5" x2="390.5" y2="699.5" stroke="#ffffc0"/>
<line x1="540.5" y1="632.5" x2="540.5" y2="636.5" stroke="#ffffc0"/>
<line x1="540.5" y1="707.5" x2="540.5" y2="703.5" stroke="#ffffc0"/>
<line x1="690.5" y1="632.5" x2="690.5" y2="640.5" stroke="#ffffc0"/>
<line x1="690.5" y1="707.5" x2="690.5" y2="699.5" stroke="#ffffc0"/>
<line x1="840.5" y1="632.5" x2="840.5" y2="636.5" stroke="#ffffc0"/>
<line x1="840.5" y1="707.5" x2="840.5" y2="703.5" stroke="#ffffc0"/>
<text x="50.9" y="641.3" fill="#ffffc0" font-size="16.6" textLength="26.1" lengthAdjust="spacingAndGlyphs" class="t">-80</text>
<text x="40.7" y="676.5" fill="#ffffc0" font-size="16.6" textLength="36.3" lengthAdjust="spacingAndGlyphs" class="t">-100</text>
<text x="40.7" y="711.7" fill="#ffffc0" font-size="16.6" textLength="36.3" lengthAdjust="spacingAndGlyphs" class="t">-120</text>
<text x="54.1" y="730.0" fill="#ffffc0" font-size="16.6" textLength="71.9" lengthAdjust="spacingAndGlyphs" class="t">03:31:20</text>
<text x="354.1" y="730.0" fill="#ffffc0" font-size="16.6" textLength="71.9" lengthAdjust="spacingAndGlyphs" class="t">03:31:40</text>
<text x="654.1" y="730.0" fill="#ffffc0" font-size="16.6" textLength="71.9" lengthAdjust="spacingAndGlyphs" class="t">03:32:00</text>
<text x="954.1" y="730.0" fill="#ffffc0" font-size="16.6" textLength="71.9" lengthAdjust="spacingAndGlyphs" class="t">03:32:20</text>
<text x="494.3" y="757.5" fill="#ffffc0" font-size="16.6" textLength="88.4" lengthAdjust="spacingAndGlyphs" class="t">Time (UTC)</text>
<text x="-31.3" y="671.0" fill="#ffffc0" font-size="16.6" textLength="102.7" lengthAdjust="spacingAndGlyphs" transform="rotate(-90 20.0 671.0)" class="t">Power (dBm)</text>
<polyline points="300.5,674.6 315.5,676.7 330.5,675.3" fill="none" stroke="#ffff00" stroke-width="1"/>
<polyline points="405.5,682.7 420.5,673.9 435.5,660.7 450.5,672.3 465.5,668.7 480.5,650.5 510.5,671.6 540.5,665.7 555.5,671.1 570.5,681.9 585.5,660.7" fill="none" stroke="#ffff00" stroke-width="1"/>
<rect x="630" y="676" width="1" height="1" fill="#ffff00"/>
<line x1="480.5" y1="632.5" x2="480.5" y2="707.5" stroke="#ff0000" stroke-width="1"/>
</svg>
</body></html>
